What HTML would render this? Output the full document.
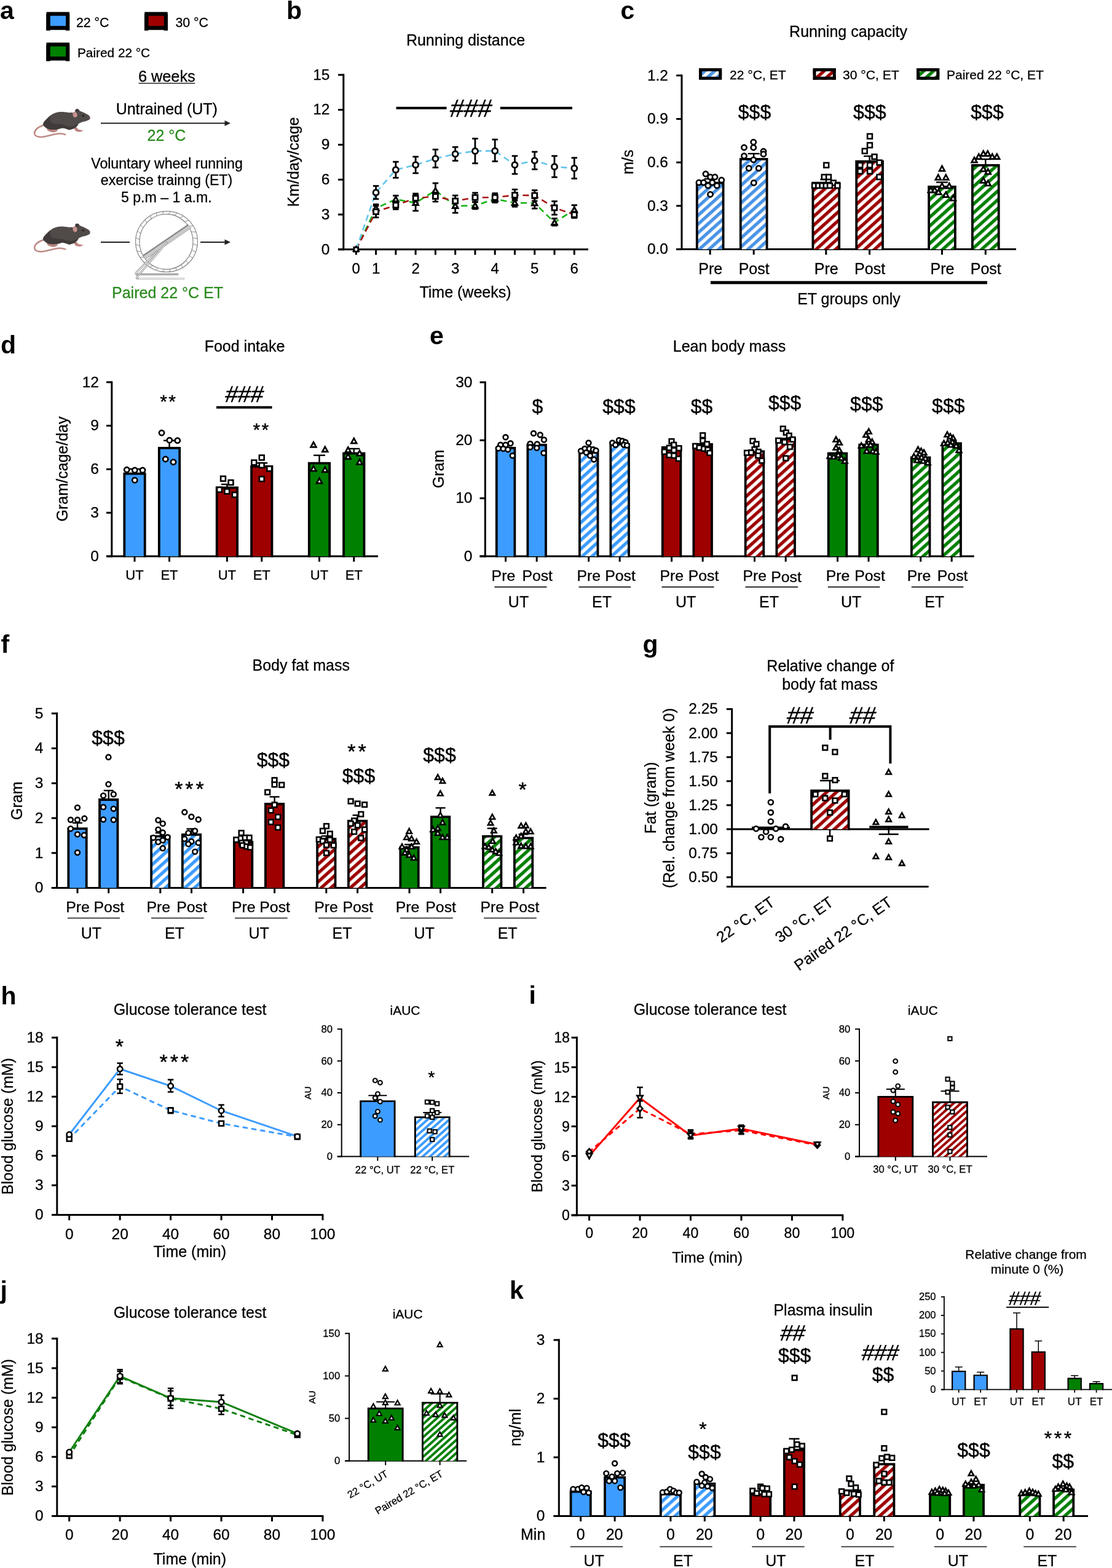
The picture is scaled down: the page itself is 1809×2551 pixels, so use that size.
<!DOCTYPE html>
<html lang="en"><head><meta charset="utf-8"><title>Figure</title>
<style>html,body{margin:0;padding:0;background:#fff}svg{display:block}text{font-family:'Liberation Sans', sans-serif;}</style></head>
<body>
<svg width="1809" height="2551" viewBox="0 0 1809 2551">
<defs><pattern id="h0" width="10.6" height="10.6" patternUnits="userSpaceOnUse" patternTransform="rotate(-42) translate(0 2.5)"><rect width="10.6" height="10.6" fill="#fff"/><rect width="10.6" height="5.3" fill="#4a94e6"/></pattern>
<pattern id="h1" width="10.6" height="10.6" patternUnits="userSpaceOnUse" patternTransform="rotate(-42) translate(0 5)"><rect width="10.6" height="10.6" fill="#fff"/><rect width="10.6" height="5.3" fill="#9e0000"/></pattern>
<pattern id="h2" width="10.6" height="10.6" patternUnits="userSpaceOnUse" patternTransform="rotate(-42) translate(0 7.5)"><rect width="10.6" height="10.6" fill="#fff"/><rect width="10.6" height="5.3" fill="#008000"/></pattern>
<pattern id="h3" width="10.6" height="10.6" patternUnits="userSpaceOnUse" patternTransform="rotate(-42) translate(0 0)"><rect width="10.6" height="10.6" fill="#fff"/><rect width="10.6" height="5.3" fill="#4a94e6"/></pattern>
<pattern id="h4" width="10.6" height="10.6" patternUnits="userSpaceOnUse" patternTransform="rotate(-42) translate(0 0)"><rect width="10.6" height="10.6" fill="#fff"/><rect width="10.6" height="5.3" fill="#9e0000"/></pattern>
<pattern id="h5" width="10.6" height="10.6" patternUnits="userSpaceOnUse" patternTransform="rotate(-42) translate(0 0)"><rect width="10.6" height="10.6" fill="#fff"/><rect width="10.6" height="5.3" fill="#008000"/></pattern>
<pattern id="h6" width="10.6" height="10.6" patternUnits="userSpaceOnUse" patternTransform="rotate(-42) translate(0 0)"><rect width="10.6" height="10.6" fill="#fff"/><rect width="10.6" height="5.3" fill="#3d9cff"/></pattern>
<pattern id="h7" width="7.9" height="7.9" patternUnits="userSpaceOnUse" patternTransform="rotate(-42) translate(0 0)"><rect width="7.9" height="7.9" fill="#fff"/><rect width="7.9" height="3.95" fill="#3d9cff"/></pattern>
<pattern id="h8" width="7.9" height="7.9" patternUnits="userSpaceOnUse" patternTransform="rotate(-42) translate(0 0)"><rect width="7.9" height="7.9" fill="#fff"/><rect width="7.9" height="3.95" fill="#9e0000"/></pattern>
<pattern id="h9" width="7.9" height="7.9" patternUnits="userSpaceOnUse" patternTransform="rotate(-42) translate(0 0)"><rect width="7.9" height="7.9" fill="#fff"/><rect width="7.9" height="3.95" fill="#008000"/></pattern></defs>
<rect width="1809" height="2551" fill="#fff"/>
<text x="0" y="30.5" font-size="41" font-weight="bold">a</text>
<rect x="75.5" y="19.5" width="37.5" height="29.2" fill="#000"/>
<rect x="75.2" y="22.5" width="6.5" height="27.2" fill="#000"/>
<rect x="106.8" y="22.5" width="6.5" height="27.2" fill="#000"/>
<rect x="81.8" y="25.7" width="25.3" height="16.5" fill="#3d9cff"/>
<text x="124" y="44" font-size="21.3" stroke="#000" stroke-width="0.28">22 °C</text>
<rect x="235.2" y="19.5" width="37.5" height="29.2" fill="#000"/>
<rect x="234.9" y="22.5" width="6.5" height="27.2" fill="#000"/>
<rect x="266.5" y="22.5" width="6.5" height="27.2" fill="#000"/>
<rect x="241.5" y="25.7" width="25.3" height="16.5" fill="#9e0000"/>
<text x="285.5" y="44" font-size="21.3" stroke="#000" stroke-width="0.28">30 °C</text>
<rect x="75.5" y="69.3" width="37.5" height="29.2" fill="#000"/>
<rect x="75.2" y="72.3" width="6.5" height="27.2" fill="#000"/>
<rect x="106.8" y="72.3" width="6.5" height="27.2" fill="#000"/>
<rect x="81.8" y="75.5" width="25.3" height="16.5" fill="#008000"/>
<text x="126" y="93" font-size="20.8" stroke="#000" stroke-width="0.28">Paired 22 °C</text>
<text x="271.3" y="132.7" font-size="25.3" text-anchor="middle" stroke="#000" stroke-width="0.28">6 weeks</text>
<line x1="225.5" y1="135.6" x2="317.2" y2="135.6" stroke="#222" stroke-width="1.5"/>
<g transform="translate(45 165) scale(0.0739)">
<path d="M345 525 C250 560 150 620 150 700 C155 790 290 800 420 765 C560 725 700 680 828 730" fill="none" stroke="#b98580" stroke-width="34" stroke-linecap="round"/>
<path d="M345 525 C250 560 150 620 150 700 C155 790 290 800 420 765 C560 725 700 680 828 730" fill="none" stroke="#c99a95" stroke-width="10" stroke-linecap="round"/>
<path d="M420 595 L470 600 L640 625 L675 625 L630 665 L560 685 L470 660 L430 630 Z" fill="#b9847f"/>
<path d="M1010 585 L1075 570 L1120 620 L1230 638 L1150 672 L1060 655 Z" fill="#b9847f"/>
<path d="M340 500 C345 450 400 400 500 310 C560 260 640 232 720 230 C800 230 870 238 920 250 C950 240 975 245 995 250 C1020 235 1040 225 1050 215 C1040 180 1060 165 1090 165 C1115 168 1135 185 1142 207 C1200 230 1280 265 1340 300 C1365 320 1380 345 1375 380 C1360 405 1300 425 1250 440 C1200 455 1150 470 1120 490 C1105 520 1085 550 1060 570 C1040 590 1000 605 960 615 C930 630 900 628 880 615 C850 600 800 585 760 585 C720 590 690 610 640 618 C580 622 520 620 480 612 C430 600 390 570 360 540 C345 525 340 515 340 500 Z" fill="#504b49"/>
<path d="M340 500 C345 450 400 400 500 310 C480 380 500 450 540 480 C620 510 700 490 780 510 C860 540 940 560 1000 540 C1040 530 1090 500 1120 490 C1105 520 1085 550 1060 570 C1040 590 1000 605 960 615 C930 630 900 628 880 615 C850 600 800 585 760 585 C720 590 690 610 640 618 C580 622 520 620 480 612 C430 600 390 570 360 540 C345 525 340 515 340 500 Z" fill="#403b3a"/>
<path d="M1250 440 C1300 425 1340 405 1370 385" fill="none" stroke="#3a3534" stroke-width="8"/>
<ellipse cx="1042" cy="292" rx="50" ry="62" transform="rotate(-12 1042 292)" fill="#bf8a86"/>
<ellipse cx="1050" cy="295" rx="30" ry="45" transform="rotate(-12 1050 295)" fill="#c9938f"/>
<path d="M1050 215 C1040 180 1060 165 1090 165 C1115 168 1135 185 1142 207 L1100 225 Z" fill="#3e3938"/>
<ellipse cx="1222" cy="318" rx="24" ry="20" fill="#241c1c"/>
<ellipse cx="1370" cy="350" rx="10" ry="18" fill="#c08a88"/>
</g>
<text x="271.3" y="185.7" font-size="25" text-anchor="middle" stroke="#000" stroke-width="0.28">Untrained (UT)</text>
<line x1="164" y1="200.5" x2="367" y2="200.5" stroke="#222" stroke-width="2"/>
<polygon points="375,200.5 365.5,195.9 365.5,205.1" fill="#222"/>
<text x="271" y="229.4" font-size="25" text-anchor="middle" fill="#2a8a1e" stroke="#2a8a1e" stroke-width="0.28">22 °C</text>
<text x="271.5" y="274" font-size="23.1" text-anchor="middle" stroke="#000" stroke-width="0.28">Voluntary wheel running</text>
<text x="271" y="301.2" font-size="23.1" text-anchor="middle" stroke="#000" stroke-width="0.28">exercise trainng (ET)</text>
<text x="270.8" y="329" font-size="23.1" text-anchor="middle" stroke="#000" stroke-width="0.28">5 p.m – 1 a.m.</text>
<g transform="translate(45 351.5) scale(0.0739)">
<path d="M345 525 C250 560 150 620 150 700 C155 790 290 800 420 765 C560 725 700 680 828 730" fill="none" stroke="#b98580" stroke-width="34" stroke-linecap="round"/>
<path d="M345 525 C250 560 150 620 150 700 C155 790 290 800 420 765 C560 725 700 680 828 730" fill="none" stroke="#c99a95" stroke-width="10" stroke-linecap="round"/>
<path d="M420 595 L470 600 L640 625 L675 625 L630 665 L560 685 L470 660 L430 630 Z" fill="#b9847f"/>
<path d="M1010 585 L1075 570 L1120 620 L1230 638 L1150 672 L1060 655 Z" fill="#b9847f"/>
<path d="M340 500 C345 450 400 400 500 310 C560 260 640 232 720 230 C800 230 870 238 920 250 C950 240 975 245 995 250 C1020 235 1040 225 1050 215 C1040 180 1060 165 1090 165 C1115 168 1135 185 1142 207 C1200 230 1280 265 1340 300 C1365 320 1380 345 1375 380 C1360 405 1300 425 1250 440 C1200 455 1150 470 1120 490 C1105 520 1085 550 1060 570 C1040 590 1000 605 960 615 C930 630 900 628 880 615 C850 600 800 585 760 585 C720 590 690 610 640 618 C580 622 520 620 480 612 C430 600 390 570 360 540 C345 525 340 515 340 500 Z" fill="#504b49"/>
<path d="M340 500 C345 450 400 400 500 310 C480 380 500 450 540 480 C620 510 700 490 780 510 C860 540 940 560 1000 540 C1040 530 1090 500 1120 490 C1105 520 1085 550 1060 570 C1040 590 1000 605 960 615 C930 630 900 628 880 615 C850 600 800 585 760 585 C720 590 690 610 640 618 C580 622 520 620 480 612 C430 600 390 570 360 540 C345 525 340 515 340 500 Z" fill="#403b3a"/>
<path d="M1250 440 C1300 425 1340 405 1370 385" fill="none" stroke="#3a3534" stroke-width="8"/>
<ellipse cx="1042" cy="292" rx="50" ry="62" transform="rotate(-12 1042 292)" fill="#bf8a86"/>
<ellipse cx="1050" cy="295" rx="30" ry="45" transform="rotate(-12 1050 295)" fill="#c9938f"/>
<path d="M1050 215 C1040 180 1060 165 1090 165 C1115 168 1135 185 1142 207 L1100 225 Z" fill="#3e3938"/>
<ellipse cx="1222" cy="318" rx="24" ry="20" fill="#241c1c"/>
<ellipse cx="1370" cy="350" rx="10" ry="18" fill="#c08a88"/>
</g>
<line x1="164" y1="394" x2="211" y2="394" stroke="#222" stroke-width="2"/>
<g transform="translate(210 335) scale(0.08005)" fill="none" stroke-linecap="round">
<path d="M160 1475 L1110 1475" stroke="#c4c4c4" stroke-width="40"/>
<path d="M160 1470 L1105 1470" stroke="#f2f2f2" stroke-width="16"/>
<path d="M150 1390 L985 1390" stroke="#878787" stroke-width="36"/>
<path d="M150 1390 L985 1390" stroke="#cfcfcf" stroke-width="14"/>
<ellipse cx="762" cy="725" rx="630" ry="618" stroke="#878787" stroke-width="15"/>
<ellipse cx="755" cy="728" rx="545" ry="560" stroke="#878787" stroke-width="15"/>
<line x1="1298.32" y1="771.94" x2="1386.8" y2="804.22" stroke="#878787" stroke-width="12"/>
<line x1="1275.18" y1="895.06" x2="1353.17" y2="938.62" stroke="#878787" stroke-width="12"/>
<line x1="1225.96" y1="1009.81" x2="1289.89" y2="1062.3" stroke="#878787" stroke-width="12"/>
<line x1="1153.12" y1="1110.43" x2="1200.14" y2="1169.07" stroke="#878787" stroke-width="12"/>
<line x1="1060.32" y1="1191.87" x2="1088.42" y2="1253.58" stroke="#878787" stroke-width="12"/>
<line x1="952.21" y1="1250.05" x2="960.33" y2="1311.58" stroke="#878787" stroke-width="12"/>
<line x1="834.21" y1="1282.05" x2="822.3" y2="1340.16" stroke="#878787" stroke-width="12"/>
<line x1="712.24" y1="1286.27" x2="681.24" y2="1337.9" stroke="#878787" stroke-width="12"/>
<line x1="592.41" y1="1262.5" x2="544.24" y2="1304.91" stroke="#878787" stroke-width="12"/>
<line x1="480.74" y1="1211.92" x2="418.15" y2="1242.83" stroke="#878787" stroke-width="12"/>
<line x1="382.81" y1="1137.08" x2="309.3" y2="1154.79" stroke="#878787" stroke-width="12"/>
<line x1="303.55" y1="1041.73" x2="223.16" y2="1045.2" stroke="#878787" stroke-width="12"/>
<line x1="246.93" y1="930.64" x2="164.03" y2="919.55" stroke="#878787" stroke-width="12"/>
<line x1="215.79" y1="809.39" x2="134.89" y2="784.15" stroke="#878787" stroke-width="12"/>
<line x1="211.68" y1="684.06" x2="137.2" y2="645.78" stroke="#878787" stroke-width="12"/>
<line x1="234.82" y1="560.94" x2="170.83" y2="511.38" stroke="#878787" stroke-width="12"/>
<line x1="284.04" y1="446.19" x2="234.11" y2="387.7" stroke="#878787" stroke-width="12"/>
<line x1="356.88" y1="345.57" x2="323.86" y2="280.93" stroke="#878787" stroke-width="12"/>
<line x1="449.68" y1="264.13" x2="435.58" y2="196.42" stroke="#878787" stroke-width="12"/>
<line x1="557.79" y1="205.95" x2="563.67" y2="138.42" stroke="#878787" stroke-width="12"/>
<line x1="675.79" y1="173.95" x2="701.7" y2="109.84" stroke="#878787" stroke-width="12"/>
<line x1="797.76" y1="169.73" x2="842.76" y2="112.1" stroke="#878787" stroke-width="12"/>
<line x1="917.59" y1="193.5" x2="979.76" y2="145.09" stroke="#878787" stroke-width="12"/>
<line x1="1029.26" y1="244.08" x2="1105.85" y2="207.17" stroke="#878787" stroke-width="12"/>
<line x1="1127.19" y1="318.92" x2="1214.7" y2="295.21" stroke="#878787" stroke-width="12"/>
<line x1="1206.45" y1="414.27" x2="1300.84" y2="404.8" stroke="#878787" stroke-width="12"/>
<line x1="1263.07" y1="525.36" x2="1359.97" y2="530.45" stroke="#878787" stroke-width="12"/>
<line x1="1294.21" y1="646.61" x2="1389.11" y2="665.85" stroke="#878787" stroke-width="12"/>
<polygon points="300,1022 1215,398 1268,445 345,1078" fill="#c9c9c9" stroke="none"/>
<path d="M290 1008 L1205 385" stroke="#878787" stroke-width="30" stroke-linecap="butt"/>
<path d="M345 1078 L1268 445" stroke="#878787" stroke-width="8" stroke-linecap="butt"/>
<path d="M765 745 L165 1440 Q140 1470 175 1472" stroke="#878787" stroke-width="36"/>
<path d="M765 745 L165 1440 Q140 1470 175 1472" stroke="#fafafa" stroke-width="15"/>
<path d="M560 935 L145 1355 Q120 1388 160 1390" stroke="#878787" stroke-width="36"/>
<path d="M560 935 L145 1355 Q120 1388 160 1390" stroke="#fafafa" stroke-width="15"/>
</g>
<line x1="326" y1="394" x2="367" y2="394" stroke="#222" stroke-width="2"/>
<polygon points="375,394 365.5,389.4 365.5,398.6" fill="#222"/>
<text x="272.5" y="484.5" font-size="25" text-anchor="middle" fill="#2a8a1e" stroke="#2a8a1e" stroke-width="0.28">Paired 22 °C ET</text>
<text x="466" y="30.5" font-size="41" font-weight="bold">b</text>
<text x="757.5" y="73.5" font-size="25" text-anchor="middle" stroke="#000" stroke-width="0.28">Running distance</text>
<line x1="558.8" y1="120.35" x2="558.8" y2="407.3" stroke="#000" stroke-width="3"/>
<line x1="550" y1="405.8" x2="558.8" y2="405.8" stroke="#000" stroke-width="3"/>
<text x="536.5" y="413.6" font-size="24.5" text-anchor="end" stroke="#000" stroke-width="0.28">0</text>
<line x1="550" y1="349.01" x2="558.8" y2="349.01" stroke="#000" stroke-width="3"/>
<text x="536.5" y="356.81" font-size="24.5" text-anchor="end" stroke="#000" stroke-width="0.28">3</text>
<line x1="550" y1="292.22" x2="558.8" y2="292.22" stroke="#000" stroke-width="3"/>
<text x="536.5" y="300.02" font-size="24.5" text-anchor="end" stroke="#000" stroke-width="0.28">6</text>
<line x1="550" y1="235.43" x2="558.8" y2="235.43" stroke="#000" stroke-width="3"/>
<text x="536.5" y="243.23" font-size="24.5" text-anchor="end" stroke="#000" stroke-width="0.28">9</text>
<line x1="550" y1="178.64" x2="558.8" y2="178.64" stroke="#000" stroke-width="3"/>
<text x="536.5" y="186.44" font-size="24.5" text-anchor="end" stroke="#000" stroke-width="0.28">12</text>
<line x1="550" y1="121.85" x2="558.8" y2="121.85" stroke="#000" stroke-width="3"/>
<text x="536.5" y="129.65" font-size="24.5" text-anchor="end" stroke="#000" stroke-width="0.28">15</text>
<line x1="550" y1="405.8" x2="957" y2="405.8" stroke="#000" stroke-width="3"/>
<line x1="579.3" y1="405.8" x2="579.3" y2="414.6" stroke="#000" stroke-width="3"/>
<line x1="611.57" y1="405.8" x2="611.57" y2="414.6" stroke="#000" stroke-width="3"/>
<line x1="643.84" y1="405.8" x2="643.84" y2="414.6" stroke="#000" stroke-width="3"/>
<line x1="676.11" y1="405.8" x2="676.11" y2="414.6" stroke="#000" stroke-width="3"/>
<line x1="708.38" y1="405.8" x2="708.38" y2="414.6" stroke="#000" stroke-width="3"/>
<line x1="740.65" y1="405.8" x2="740.65" y2="414.6" stroke="#000" stroke-width="3"/>
<line x1="772.92" y1="405.8" x2="772.92" y2="414.6" stroke="#000" stroke-width="3"/>
<line x1="805.19" y1="405.8" x2="805.19" y2="414.6" stroke="#000" stroke-width="3"/>
<line x1="837.46" y1="405.8" x2="837.46" y2="414.6" stroke="#000" stroke-width="3"/>
<line x1="869.73" y1="405.8" x2="869.73" y2="414.6" stroke="#000" stroke-width="3"/>
<line x1="902" y1="405.8" x2="902" y2="414.6" stroke="#000" stroke-width="3"/>
<line x1="934.27" y1="405.8" x2="934.27" y2="414.6" stroke="#000" stroke-width="3"/>
<text x="579.3" y="444.5" font-size="24" text-anchor="middle" stroke="#000" stroke-width="0.28">0</text>
<text x="611.57" y="444.5" font-size="24" text-anchor="middle" stroke="#000" stroke-width="0.28">1</text>
<text x="676.11" y="444.5" font-size="24" text-anchor="middle" stroke="#000" stroke-width="0.28">2</text>
<text x="740.65" y="444.5" font-size="24" text-anchor="middle" stroke="#000" stroke-width="0.28">3</text>
<text x="805.19" y="444.5" font-size="24" text-anchor="middle" stroke="#000" stroke-width="0.28">4</text>
<text x="869.73" y="444.5" font-size="24" text-anchor="middle" stroke="#000" stroke-width="0.28">5</text>
<text x="934.27" y="444.5" font-size="24" text-anchor="middle" stroke="#000" stroke-width="0.28">6</text>
<text x="757" y="484.3" font-size="25" text-anchor="middle" stroke="#000" stroke-width="0.28">Time (weeks)</text>
<text x="485.8" y="263.5" font-size="25" text-anchor="middle" transform="rotate(-90 485.8 263.5)" stroke="#000" stroke-width="0.28">Km/day/cage</text>
<line x1="644.5" y1="175.8" x2="726.5" y2="175.8" stroke="#000" stroke-width="4"/>
<line x1="813.8" y1="175.8" x2="931" y2="175.8" stroke="#000" stroke-width="4"/>
<text x="764.27" y="190" font-size="40.5" text-anchor="middle" transform="translate(764.27 190) skewX(-9) translate(-764.27 -190)" stroke="#000" stroke-width="0.5">###</text>
<polyline points="579.3,405.8 611.57,338.75 643.84,324.25 676.11,330 708.38,310 740.65,335 772.92,334.5 805.19,323.75 837.46,330 869.73,330.5 902,362 934.27,341.25" fill="none" stroke="#12b312" stroke-width="2.6" stroke-dasharray="10 6.5"/>
<polyline points="579.3,405.8 611.57,344.5 643.84,333.75 676.11,322.5 708.38,319.5 740.65,327 772.92,321.25 805.19,321.25 837.46,317.5 869.73,318 902,338 934.27,349.25" fill="none" stroke="#a81414" stroke-width="2.6" stroke-dasharray="10 6.5"/>
<polyline points="579.3,405.8 611.57,313.25 643.84,276.25 676.11,268.25 708.38,258 740.65,250.5 772.92,245.75 805.19,245.5 837.46,268.25 869.73,261.25 902,271.25 934.27,273.75" fill="none" stroke="#62c4ea" stroke-width="2.6" stroke-dasharray="10 6.5"/>
<line x1="611.57" y1="332.5" x2="611.57" y2="345.5" stroke="#000" stroke-width="2.8"/>
<line x1="606.82" y1="332.5" x2="616.32" y2="332.5" stroke="#000" stroke-width="2.8"/>
<line x1="606.82" y1="345.5" x2="616.32" y2="345.5" stroke="#000" stroke-width="2.8"/>
<line x1="643.84" y1="318.25" x2="643.84" y2="330.5" stroke="#000" stroke-width="2.8"/>
<line x1="639.09" y1="318.25" x2="648.59" y2="318.25" stroke="#000" stroke-width="2.8"/>
<line x1="639.09" y1="330.5" x2="648.59" y2="330.5" stroke="#000" stroke-width="2.8"/>
<line x1="676.11" y1="317.5" x2="676.11" y2="343" stroke="#000" stroke-width="2.8"/>
<line x1="671.36" y1="317.5" x2="680.86" y2="317.5" stroke="#000" stroke-width="2.8"/>
<line x1="671.36" y1="343" x2="680.86" y2="343" stroke="#000" stroke-width="2.8"/>
<line x1="708.38" y1="298" x2="708.38" y2="322.5" stroke="#000" stroke-width="2.8"/>
<line x1="703.63" y1="298" x2="713.13" y2="298" stroke="#000" stroke-width="2.8"/>
<line x1="703.63" y1="322.5" x2="713.13" y2="322.5" stroke="#000" stroke-width="2.8"/>
<line x1="740.65" y1="325" x2="740.65" y2="346.25" stroke="#000" stroke-width="2.8"/>
<line x1="735.9" y1="325" x2="745.4" y2="325" stroke="#000" stroke-width="2.8"/>
<line x1="735.9" y1="346.25" x2="745.4" y2="346.25" stroke="#000" stroke-width="2.8"/>
<line x1="772.92" y1="328.75" x2="772.92" y2="340" stroke="#000" stroke-width="2.8"/>
<line x1="768.17" y1="328.75" x2="777.67" y2="328.75" stroke="#000" stroke-width="2.8"/>
<line x1="768.17" y1="340" x2="777.67" y2="340" stroke="#000" stroke-width="2.8"/>
<line x1="805.19" y1="317.5" x2="805.19" y2="329.5" stroke="#000" stroke-width="2.8"/>
<line x1="800.44" y1="317.5" x2="809.94" y2="317.5" stroke="#000" stroke-width="2.8"/>
<line x1="800.44" y1="329.5" x2="809.94" y2="329.5" stroke="#000" stroke-width="2.8"/>
<line x1="837.46" y1="323.75" x2="837.46" y2="336.25" stroke="#000" stroke-width="2.8"/>
<line x1="832.71" y1="323.75" x2="842.21" y2="323.75" stroke="#000" stroke-width="2.8"/>
<line x1="832.71" y1="336.25" x2="842.21" y2="336.25" stroke="#000" stroke-width="2.8"/>
<line x1="869.73" y1="322.5" x2="869.73" y2="339.25" stroke="#000" stroke-width="2.8"/>
<line x1="864.98" y1="322.5" x2="874.48" y2="322.5" stroke="#000" stroke-width="2.8"/>
<line x1="864.98" y1="339.25" x2="874.48" y2="339.25" stroke="#000" stroke-width="2.8"/>
<line x1="902" y1="355.5" x2="902" y2="367" stroke="#000" stroke-width="2.8"/>
<line x1="897.25" y1="355.5" x2="906.75" y2="355.5" stroke="#000" stroke-width="2.8"/>
<line x1="897.25" y1="367" x2="906.75" y2="367" stroke="#000" stroke-width="2.8"/>
<line x1="934.27" y1="333.75" x2="934.27" y2="348" stroke="#000" stroke-width="2.8"/>
<line x1="929.52" y1="333.75" x2="939.02" y2="333.75" stroke="#000" stroke-width="2.8"/>
<line x1="929.52" y1="348" x2="939.02" y2="348" stroke="#000" stroke-width="2.8"/>
<line x1="611.57" y1="335" x2="611.57" y2="353.75" stroke="#000" stroke-width="2.8"/>
<line x1="606.82" y1="335" x2="616.32" y2="335" stroke="#000" stroke-width="2.8"/>
<line x1="606.82" y1="353.75" x2="616.32" y2="353.75" stroke="#000" stroke-width="2.8"/>
<line x1="643.84" y1="327.5" x2="643.84" y2="340.5" stroke="#000" stroke-width="2.8"/>
<line x1="639.09" y1="327.5" x2="648.59" y2="327.5" stroke="#000" stroke-width="2.8"/>
<line x1="639.09" y1="340.5" x2="648.59" y2="340.5" stroke="#000" stroke-width="2.8"/>
<line x1="676.11" y1="315" x2="676.11" y2="330" stroke="#000" stroke-width="2.8"/>
<line x1="671.36" y1="315" x2="680.86" y2="315" stroke="#000" stroke-width="2.8"/>
<line x1="671.36" y1="330" x2="680.86" y2="330" stroke="#000" stroke-width="2.8"/>
<line x1="708.38" y1="311.25" x2="708.38" y2="328" stroke="#000" stroke-width="2.8"/>
<line x1="703.63" y1="311.25" x2="713.13" y2="311.25" stroke="#000" stroke-width="2.8"/>
<line x1="703.63" y1="328" x2="713.13" y2="328" stroke="#000" stroke-width="2.8"/>
<line x1="740.65" y1="318" x2="740.65" y2="336.25" stroke="#000" stroke-width="2.8"/>
<line x1="735.9" y1="318" x2="745.4" y2="318" stroke="#000" stroke-width="2.8"/>
<line x1="735.9" y1="336.25" x2="745.4" y2="336.25" stroke="#000" stroke-width="2.8"/>
<line x1="772.92" y1="313.75" x2="772.92" y2="328.75" stroke="#000" stroke-width="2.8"/>
<line x1="768.17" y1="313.75" x2="777.67" y2="313.75" stroke="#000" stroke-width="2.8"/>
<line x1="768.17" y1="328.75" x2="777.67" y2="328.75" stroke="#000" stroke-width="2.8"/>
<line x1="805.19" y1="314.5" x2="805.19" y2="328" stroke="#000" stroke-width="2.8"/>
<line x1="800.44" y1="314.5" x2="809.94" y2="314.5" stroke="#000" stroke-width="2.8"/>
<line x1="800.44" y1="328" x2="809.94" y2="328" stroke="#000" stroke-width="2.8"/>
<line x1="837.46" y1="308.25" x2="837.46" y2="326.25" stroke="#000" stroke-width="2.8"/>
<line x1="832.71" y1="308.25" x2="842.21" y2="308.25" stroke="#000" stroke-width="2.8"/>
<line x1="832.71" y1="326.25" x2="842.21" y2="326.25" stroke="#000" stroke-width="2.8"/>
<line x1="869.73" y1="309.5" x2="869.73" y2="327" stroke="#000" stroke-width="2.8"/>
<line x1="864.98" y1="309.5" x2="874.48" y2="309.5" stroke="#000" stroke-width="2.8"/>
<line x1="864.98" y1="327" x2="874.48" y2="327" stroke="#000" stroke-width="2.8"/>
<line x1="902" y1="327.5" x2="902" y2="349.25" stroke="#000" stroke-width="2.8"/>
<line x1="897.25" y1="327.5" x2="906.75" y2="327.5" stroke="#000" stroke-width="2.8"/>
<line x1="897.25" y1="349.25" x2="906.75" y2="349.25" stroke="#000" stroke-width="2.8"/>
<line x1="934.27" y1="343.75" x2="934.27" y2="354.5" stroke="#000" stroke-width="2.8"/>
<line x1="929.52" y1="343.75" x2="939.02" y2="343.75" stroke="#000" stroke-width="2.8"/>
<line x1="929.52" y1="354.5" x2="939.02" y2="354.5" stroke="#000" stroke-width="2.8"/>
<line x1="611.57" y1="302.5" x2="611.57" y2="323.75" stroke="#000" stroke-width="2.8"/>
<line x1="606.82" y1="302.5" x2="616.32" y2="302.5" stroke="#000" stroke-width="2.8"/>
<line x1="606.82" y1="323.75" x2="616.32" y2="323.75" stroke="#000" stroke-width="2.8"/>
<line x1="643.84" y1="263.25" x2="643.84" y2="289.25" stroke="#000" stroke-width="2.8"/>
<line x1="639.09" y1="263.25" x2="648.59" y2="263.25" stroke="#000" stroke-width="2.8"/>
<line x1="639.09" y1="289.25" x2="648.59" y2="289.25" stroke="#000" stroke-width="2.8"/>
<line x1="676.11" y1="255" x2="676.11" y2="281.75" stroke="#000" stroke-width="2.8"/>
<line x1="671.36" y1="255" x2="680.86" y2="255" stroke="#000" stroke-width="2.8"/>
<line x1="671.36" y1="281.75" x2="680.86" y2="281.75" stroke="#000" stroke-width="2.8"/>
<line x1="708.38" y1="243.25" x2="708.38" y2="272.5" stroke="#000" stroke-width="2.8"/>
<line x1="703.63" y1="243.25" x2="713.13" y2="243.25" stroke="#000" stroke-width="2.8"/>
<line x1="703.63" y1="272.5" x2="713.13" y2="272.5" stroke="#000" stroke-width="2.8"/>
<line x1="740.65" y1="239.25" x2="740.65" y2="261.5" stroke="#000" stroke-width="2.8"/>
<line x1="735.9" y1="239.25" x2="745.4" y2="239.25" stroke="#000" stroke-width="2.8"/>
<line x1="735.9" y1="261.5" x2="745.4" y2="261.5" stroke="#000" stroke-width="2.8"/>
<line x1="772.92" y1="225.5" x2="772.92" y2="265.75" stroke="#000" stroke-width="2.8"/>
<line x1="768.17" y1="225.5" x2="777.67" y2="225.5" stroke="#000" stroke-width="2.8"/>
<line x1="768.17" y1="265.75" x2="777.67" y2="265.75" stroke="#000" stroke-width="2.8"/>
<line x1="805.19" y1="227" x2="805.19" y2="262.5" stroke="#000" stroke-width="2.8"/>
<line x1="800.44" y1="227" x2="809.94" y2="227" stroke="#000" stroke-width="2.8"/>
<line x1="800.44" y1="262.5" x2="809.94" y2="262.5" stroke="#000" stroke-width="2.8"/>
<line x1="837.46" y1="253.75" x2="837.46" y2="283" stroke="#000" stroke-width="2.8"/>
<line x1="832.71" y1="253.75" x2="842.21" y2="253.75" stroke="#000" stroke-width="2.8"/>
<line x1="832.71" y1="283" x2="842.21" y2="283" stroke="#000" stroke-width="2.8"/>
<line x1="869.73" y1="247" x2="869.73" y2="275.5" stroke="#000" stroke-width="2.8"/>
<line x1="864.98" y1="247" x2="874.48" y2="247" stroke="#000" stroke-width="2.8"/>
<line x1="864.98" y1="275.5" x2="874.48" y2="275.5" stroke="#000" stroke-width="2.8"/>
<line x1="902" y1="253.75" x2="902" y2="288.25" stroke="#000" stroke-width="2.8"/>
<line x1="897.25" y1="253.75" x2="906.75" y2="253.75" stroke="#000" stroke-width="2.8"/>
<line x1="897.25" y1="288.25" x2="906.75" y2="288.25" stroke="#000" stroke-width="2.8"/>
<line x1="934.27" y1="256.75" x2="934.27" y2="290.5" stroke="#000" stroke-width="2.8"/>
<line x1="929.52" y1="256.75" x2="939.02" y2="256.75" stroke="#000" stroke-width="2.8"/>
<line x1="929.52" y1="290.5" x2="939.02" y2="290.5" stroke="#000" stroke-width="2.8"/>
<polygon points="574.9,408.86 583.7,408.86 579.3,400.94" fill="#fff" stroke="#000" stroke-width="2.4" stroke-linejoin="miter"/>
<rect x="575.7" y="402.2" width="7.2" height="7.2" fill="#fff" stroke="#000" stroke-width="2.4"/>
<circle cx="579.3" cy="405.8" r="3.4" fill="#fff" stroke="#000" stroke-width="2.4"/>
<polygon points="607.27,342.23 615.87,342.23 611.57,334.49" fill="#fff" stroke="#000" stroke-width="2.9" stroke-linejoin="miter"/>
<polygon points="639.54,327.73 648.14,327.73 643.84,319.99" fill="#fff" stroke="#000" stroke-width="2.9" stroke-linejoin="miter"/>
<polygon points="671.81,333.48 680.41,333.48 676.11,325.74" fill="#fff" stroke="#000" stroke-width="2.9" stroke-linejoin="miter"/>
<polygon points="704.08,313.48 712.68,313.48 708.38,305.74" fill="#fff" stroke="#000" stroke-width="2.9" stroke-linejoin="miter"/>
<polygon points="736.35,338.48 744.95,338.48 740.65,330.74" fill="#fff" stroke="#000" stroke-width="2.9" stroke-linejoin="miter"/>
<polygon points="768.62,337.98 777.22,337.98 772.92,330.24" fill="#fff" stroke="#000" stroke-width="2.9" stroke-linejoin="miter"/>
<polygon points="800.89,327.23 809.49,327.23 805.19,319.49" fill="#fff" stroke="#000" stroke-width="2.9" stroke-linejoin="miter"/>
<polygon points="833.16,333.48 841.76,333.48 837.46,325.74" fill="#fff" stroke="#000" stroke-width="2.9" stroke-linejoin="miter"/>
<polygon points="865.43,333.98 874.03,333.98 869.73,326.24" fill="#fff" stroke="#000" stroke-width="2.9" stroke-linejoin="miter"/>
<polygon points="897.7,365.48 906.3,365.48 902,357.74" fill="#fff" stroke="#000" stroke-width="2.9" stroke-linejoin="miter"/>
<polygon points="929.97,344.73 938.57,344.73 934.27,336.99" fill="#fff" stroke="#000" stroke-width="2.9" stroke-linejoin="miter"/>
<rect x="607.57" y="340.5" width="8" height="8" fill="#fff" stroke="#000" stroke-width="2.8"/>
<rect x="639.84" y="329.75" width="8" height="8" fill="#fff" stroke="#000" stroke-width="2.8"/>
<rect x="672.11" y="318.5" width="8" height="8" fill="#fff" stroke="#000" stroke-width="2.8"/>
<rect x="704.38" y="315.5" width="8" height="8" fill="#fff" stroke="#000" stroke-width="2.8"/>
<rect x="736.65" y="323" width="8" height="8" fill="#fff" stroke="#000" stroke-width="2.8"/>
<rect x="768.92" y="317.25" width="8" height="8" fill="#fff" stroke="#000" stroke-width="2.8"/>
<rect x="801.19" y="317.25" width="8" height="8" fill="#fff" stroke="#000" stroke-width="2.8"/>
<rect x="833.46" y="313.5" width="8" height="8" fill="#fff" stroke="#000" stroke-width="2.8"/>
<rect x="865.73" y="314" width="8" height="8" fill="#fff" stroke="#000" stroke-width="2.8"/>
<rect x="898" y="334" width="8" height="8" fill="#fff" stroke="#000" stroke-width="2.8"/>
<rect x="930.27" y="345.25" width="8" height="8" fill="#fff" stroke="#000" stroke-width="2.8"/>
<circle cx="611.57" cy="313.25" r="4.5" fill="#fff" stroke="#000" stroke-width="2.8"/>
<circle cx="643.84" cy="276.25" r="4.5" fill="#fff" stroke="#000" stroke-width="2.8"/>
<circle cx="676.11" cy="268.25" r="4.5" fill="#fff" stroke="#000" stroke-width="2.8"/>
<circle cx="708.38" cy="258" r="4.5" fill="#fff" stroke="#000" stroke-width="2.8"/>
<circle cx="740.65" cy="250.5" r="4.5" fill="#fff" stroke="#000" stroke-width="2.8"/>
<circle cx="772.92" cy="245.75" r="4.5" fill="#fff" stroke="#000" stroke-width="2.8"/>
<circle cx="805.19" cy="245.5" r="4.5" fill="#fff" stroke="#000" stroke-width="2.8"/>
<circle cx="837.46" cy="268.25" r="4.5" fill="#fff" stroke="#000" stroke-width="2.8"/>
<circle cx="869.73" cy="261.25" r="4.5" fill="#fff" stroke="#000" stroke-width="2.8"/>
<circle cx="902" cy="271.25" r="4.5" fill="#fff" stroke="#000" stroke-width="2.8"/>
<circle cx="934.27" cy="273.75" r="4.5" fill="#fff" stroke="#000" stroke-width="2.8"/>
<text x="1009.5" y="30.5" font-size="41" font-weight="bold">c</text>
<text x="1380" y="60" font-size="25" text-anchor="middle" stroke="#000" stroke-width="0.28">Running capacity</text>
<line x1="1109" y1="121.3" x2="1109" y2="407.1" stroke="#000" stroke-width="3"/>
<line x1="1100.2" y1="405.6" x2="1109" y2="405.6" stroke="#000" stroke-width="3"/>
<text x="1087" y="413.4" font-size="24.5" text-anchor="end" stroke="#000" stroke-width="0.28">0.0</text>
<line x1="1100.2" y1="334.9" x2="1109" y2="334.9" stroke="#000" stroke-width="3"/>
<text x="1087" y="342.7" font-size="24.5" text-anchor="end" stroke="#000" stroke-width="0.28">0.3</text>
<line x1="1100.2" y1="264.2" x2="1109" y2="264.2" stroke="#000" stroke-width="3"/>
<text x="1087" y="272" font-size="24.5" text-anchor="end" stroke="#000" stroke-width="0.28">0.6</text>
<line x1="1100.2" y1="193.5" x2="1109" y2="193.5" stroke="#000" stroke-width="3"/>
<text x="1087" y="201.3" font-size="24.5" text-anchor="end" stroke="#000" stroke-width="0.28">0.9</text>
<line x1="1100.2" y1="122.8" x2="1109" y2="122.8" stroke="#000" stroke-width="3"/>
<text x="1087" y="130.6" font-size="24.5" text-anchor="end" stroke="#000" stroke-width="0.28">1.2</text>
<line x1="1100.2" y1="405.6" x2="1653" y2="405.6" stroke="#000" stroke-width="3"/>
<line x1="1155.2" y1="405.6" x2="1155.2" y2="414.4" stroke="#000" stroke-width="3"/>
<line x1="1226.2" y1="405.6" x2="1226.2" y2="414.4" stroke="#000" stroke-width="3"/>
<line x1="1343.8" y1="405.6" x2="1343.8" y2="414.4" stroke="#000" stroke-width="3"/>
<line x1="1414.6" y1="405.6" x2="1414.6" y2="414.4" stroke="#000" stroke-width="3"/>
<line x1="1532.5" y1="405.6" x2="1532.5" y2="414.4" stroke="#000" stroke-width="3"/>
<line x1="1603.3" y1="405.6" x2="1603.3" y2="414.4" stroke="#000" stroke-width="3"/>
<text x="1155.7" y="446.2" font-size="25" text-anchor="middle" stroke="#000" stroke-width="0.28">Pre</text>
<text x="1226.7" y="446.2" font-size="25" text-anchor="middle" stroke="#000" stroke-width="0.28">Post</text>
<text x="1344.3" y="446.2" font-size="25" text-anchor="middle" stroke="#000" stroke-width="0.28">Pre</text>
<text x="1415.1" y="446.2" font-size="25" text-anchor="middle" stroke="#000" stroke-width="0.28">Post</text>
<text x="1533" y="446.2" font-size="25" text-anchor="middle" stroke="#000" stroke-width="0.28">Pre</text>
<text x="1603.8" y="446.2" font-size="25" text-anchor="middle" stroke="#000" stroke-width="0.28">Post</text>
<line x1="1156" y1="459.8" x2="1606" y2="459.8" stroke="#000" stroke-width="5"/>
<text x="1381" y="494.5" font-size="25" text-anchor="middle" stroke="#000" stroke-width="0.28">ET groups only</text>
<text x="1030.5" y="263.7" font-size="25" text-anchor="middle" transform="rotate(-90 1030.5 263.7)" stroke="#000" stroke-width="0.28">m/s</text>
<rect x="1137" y="111" width="37.3" height="18.8" fill="url(#h0)"/>
<rect x="1139.5" y="113.5" width="32.3" height="13.8" fill="none" stroke="#000" stroke-width="5"/>
<text x="1187" y="128.7" font-size="21.1" stroke="#000" stroke-width="0.28">22 °C, ET</text>
<rect x="1322.5" y="111" width="37.3" height="18.8" fill="url(#h1)"/>
<rect x="1325" y="113.5" width="32.3" height="13.8" fill="none" stroke="#000" stroke-width="5"/>
<text x="1371" y="128.7" font-size="21.1" stroke="#000" stroke-width="0.28">30 °C, ET</text>
<rect x="1491" y="111" width="37.3" height="18.8" fill="url(#h2)"/>
<rect x="1493.5" y="113.5" width="32.3" height="13.8" fill="none" stroke="#000" stroke-width="5"/>
<text x="1540" y="128.7" font-size="21" stroke="#000" stroke-width="0.28">Paired 22 °C, ET</text>
<text x="1227.5" y="192.7" font-size="32" text-anchor="middle" stroke="#000" stroke-width="0.45">$$$</text>
<text x="1414.8" y="192.7" font-size="32" text-anchor="middle" stroke="#000" stroke-width="0.45">$$$</text>
<text x="1606" y="192.7" font-size="32" text-anchor="middle" stroke="#000" stroke-width="0.45">$$$</text>
<rect x="1133.8" y="297.7" width="42.8" height="107.9" fill="url(#h3)"/>
<polyline points="1133.8,407.1 1133.8,297.7 1176.6,297.7 1176.6,407.1" fill="none" stroke="#000" stroke-width="3.8" stroke-linejoin="miter"/>
<line x1="1155.2" y1="291" x2="1155.2" y2="297.8" stroke="#000" stroke-width="2.4"/>
<line x1="1145.7" y1="291" x2="1164.7" y2="291" stroke="#000" stroke-width="2.4"/>
<rect x="1204.8" y="258.9" width="42.8" height="146.7" fill="url(#h3)"/>
<polyline points="1204.8,407.1 1204.8,258.9 1247.6,258.9 1247.6,407.1" fill="none" stroke="#000" stroke-width="3.8" stroke-linejoin="miter"/>
<line x1="1226.2" y1="250" x2="1226.2" y2="259" stroke="#000" stroke-width="2.4"/>
<line x1="1216.7" y1="250" x2="1235.7" y2="250" stroke="#000" stroke-width="2.4"/>
<rect x="1322.4" y="297.7" width="42.8" height="107.9" fill="url(#h4)"/>
<polyline points="1322.4,407.1 1322.4,297.7 1365.2,297.7 1365.2,407.1" fill="none" stroke="#000" stroke-width="3.8" stroke-linejoin="miter"/>
<line x1="1343.8" y1="292" x2="1343.8" y2="297.8" stroke="#000" stroke-width="2.4"/>
<line x1="1334.3" y1="292" x2="1353.3" y2="292" stroke="#000" stroke-width="2.4"/>
<rect x="1393.2" y="262.7" width="42.8" height="142.9" fill="url(#h4)"/>
<polyline points="1393.2,407.1 1393.2,262.7 1436,262.7 1436,407.1" fill="none" stroke="#000" stroke-width="3.8" stroke-linejoin="miter"/>
<line x1="1414.6" y1="254" x2="1414.6" y2="262.8" stroke="#000" stroke-width="2.4"/>
<line x1="1405.1" y1="254" x2="1424.1" y2="254" stroke="#000" stroke-width="2.4"/>
<rect x="1511.1" y="303.9" width="42.8" height="101.7" fill="url(#h5)"/>
<polyline points="1511.1,407.1 1511.1,303.9 1553.9,303.9 1553.9,407.1" fill="none" stroke="#000" stroke-width="3.8" stroke-linejoin="miter"/>
<line x1="1532.5" y1="296.5" x2="1532.5" y2="304" stroke="#000" stroke-width="2.4"/>
<line x1="1523" y1="296.5" x2="1542" y2="296.5" stroke="#000" stroke-width="2.4"/>
<rect x="1581.9" y="268.9" width="42.8" height="136.7" fill="url(#h5)"/>
<polyline points="1581.9,407.1 1581.9,268.9 1624.7,268.9 1624.7,407.1" fill="none" stroke="#000" stroke-width="3.8" stroke-linejoin="miter"/>
<line x1="1603.3" y1="259" x2="1603.3" y2="269" stroke="#000" stroke-width="2.4"/>
<line x1="1593.8" y1="259" x2="1612.8" y2="259" stroke="#000" stroke-width="2.4"/>
<circle cx="1137" cy="297" r="4.1" fill="#fff" stroke="#000" stroke-width="2.7"/>
<circle cx="1144.5" cy="297" r="4.1" fill="#fff" stroke="#000" stroke-width="2.7"/>
<circle cx="1151.75" cy="302" r="4.1" fill="#fff" stroke="#000" stroke-width="2.7"/>
<circle cx="1158.75" cy="297" r="4.1" fill="#fff" stroke="#000" stroke-width="2.7"/>
<circle cx="1166.25" cy="302" r="4.1" fill="#fff" stroke="#000" stroke-width="2.7"/>
<circle cx="1173.75" cy="293" r="4.1" fill="#fff" stroke="#000" stroke-width="2.7"/>
<circle cx="1148" cy="283" r="4.1" fill="#fff" stroke="#000" stroke-width="2.7"/>
<circle cx="1155.5" cy="288" r="4.1" fill="#fff" stroke="#000" stroke-width="2.7"/>
<circle cx="1163" cy="288" r="4.1" fill="#fff" stroke="#000" stroke-width="2.7"/>
<circle cx="1155.5" cy="316.25" r="4.1" fill="#fff" stroke="#000" stroke-width="2.7"/>
<circle cx="1210.5" cy="240" r="4.1" fill="#fff" stroke="#000" stroke-width="2.7"/>
<circle cx="1225.75" cy="231.25" r="4.1" fill="#fff" stroke="#000" stroke-width="2.7"/>
<circle cx="1225.75" cy="240" r="4.1" fill="#fff" stroke="#000" stroke-width="2.7"/>
<circle cx="1242" cy="246.25" r="4.1" fill="#fff" stroke="#000" stroke-width="2.7"/>
<circle cx="1210.5" cy="253.75" r="4.1" fill="#fff" stroke="#000" stroke-width="2.7"/>
<circle cx="1242" cy="250.75" r="4.1" fill="#fff" stroke="#000" stroke-width="2.7"/>
<circle cx="1225.75" cy="260" r="4.1" fill="#fff" stroke="#000" stroke-width="2.7"/>
<circle cx="1218.25" cy="273.75" r="4.1" fill="#fff" stroke="#000" stroke-width="2.7"/>
<circle cx="1234.25" cy="273.75" r="4.1" fill="#fff" stroke="#000" stroke-width="2.7"/>
<circle cx="1226.25" cy="297.5" r="4.1" fill="#fff" stroke="#000" stroke-width="2.7"/>
<rect x="1340.35" y="264.85" width="7.8" height="7.8" fill="#fff" stroke="#000" stroke-width="2.6"/>
<rect x="1336.85" y="284.1" width="7.8" height="7.8" fill="#fff" stroke="#000" stroke-width="2.6"/>
<rect x="1344.1" y="284.1" width="7.8" height="7.8" fill="#fff" stroke="#000" stroke-width="2.6"/>
<rect x="1351.85" y="293.6" width="7.8" height="7.8" fill="#fff" stroke="#000" stroke-width="2.6"/>
<rect x="1321.1" y="298.1" width="7.8" height="7.8" fill="#fff" stroke="#000" stroke-width="2.6"/>
<rect x="1327.35" y="298.1" width="7.8" height="7.8" fill="#fff" stroke="#000" stroke-width="2.6"/>
<rect x="1333.6" y="298.1" width="7.8" height="7.8" fill="#fff" stroke="#000" stroke-width="2.6"/>
<rect x="1339.85" y="298.1" width="7.8" height="7.8" fill="#fff" stroke="#000" stroke-width="2.6"/>
<rect x="1346.1" y="298.1" width="7.8" height="7.8" fill="#fff" stroke="#000" stroke-width="2.6"/>
<rect x="1358.6" y="298.1" width="7.8" height="7.8" fill="#fff" stroke="#000" stroke-width="2.6"/>
<rect x="1411.1" y="217.85" width="7.8" height="7.8" fill="#fff" stroke="#000" stroke-width="2.6"/>
<rect x="1411.1" y="232.35" width="7.8" height="7.8" fill="#fff" stroke="#000" stroke-width="2.6"/>
<rect x="1402.85" y="241.85" width="7.8" height="7.8" fill="#fff" stroke="#000" stroke-width="2.6"/>
<rect x="1418.6" y="251.1" width="7.8" height="7.8" fill="#fff" stroke="#000" stroke-width="2.6"/>
<rect x="1395.35" y="264.85" width="7.8" height="7.8" fill="#fff" stroke="#000" stroke-width="2.6"/>
<rect x="1411.1" y="264.85" width="7.8" height="7.8" fill="#fff" stroke="#000" stroke-width="2.6"/>
<rect x="1426.6" y="260.6" width="7.8" height="7.8" fill="#fff" stroke="#000" stroke-width="2.6"/>
<rect x="1395.35" y="274.85" width="7.8" height="7.8" fill="#fff" stroke="#000" stroke-width="2.6"/>
<rect x="1411.1" y="274.85" width="7.8" height="7.8" fill="#fff" stroke="#000" stroke-width="2.6"/>
<rect x="1426.6" y="284.1" width="7.8" height="7.8" fill="#fff" stroke="#000" stroke-width="2.6"/>
<polygon points="1528.1,278.06 1536.9,278.06 1532.5,270.14" fill="#fff" stroke="#000" stroke-width="2.7" stroke-linejoin="miter"/>
<polygon points="1521.85,292.31 1530.65,292.31 1526.25,284.39" fill="#fff" stroke="#000" stroke-width="2.7" stroke-linejoin="miter"/>
<polygon points="1534.35,292.31 1543.15,292.31 1538.75,284.39" fill="#fff" stroke="#000" stroke-width="2.7" stroke-linejoin="miter"/>
<polygon points="1528.1,306.06 1536.9,306.06 1532.5,298.14" fill="#fff" stroke="#000" stroke-width="2.7" stroke-linejoin="miter"/>
<polygon points="1539.85,306.06 1548.65,306.06 1544.25,298.14" fill="#fff" stroke="#000" stroke-width="2.7" stroke-linejoin="miter"/>
<polygon points="1509.85,312.81 1518.65,312.81 1514.25,304.89" fill="#fff" stroke="#000" stroke-width="2.7" stroke-linejoin="miter"/>
<polygon points="1516.1,312.81 1524.9,312.81 1520.5,304.89" fill="#fff" stroke="#000" stroke-width="2.7" stroke-linejoin="miter"/>
<polygon points="1522.35,316.06 1531.15,316.06 1526.75,308.14" fill="#fff" stroke="#000" stroke-width="2.7" stroke-linejoin="miter"/>
<polygon points="1534.35,320.56 1543.15,320.56 1538.75,312.64" fill="#fff" stroke="#000" stroke-width="2.7" stroke-linejoin="miter"/>
<polygon points="1546.1,326.06 1554.9,326.06 1550.5,318.14" fill="#fff" stroke="#000" stroke-width="2.7" stroke-linejoin="miter"/>
<polygon points="1595.35,253.56 1604.15,253.56 1599.75,245.64" fill="#fff" stroke="#000" stroke-width="2.7" stroke-linejoin="miter"/>
<polygon points="1602.35,253.56 1611.15,253.56 1606.75,245.64" fill="#fff" stroke="#000" stroke-width="2.7" stroke-linejoin="miter"/>
<polygon points="1587.85,258.56 1596.65,258.56 1592.25,250.64" fill="#fff" stroke="#000" stroke-width="2.7" stroke-linejoin="miter"/>
<polygon points="1609.85,258.56 1618.65,258.56 1614.25,250.64" fill="#fff" stroke="#000" stroke-width="2.7" stroke-linejoin="miter"/>
<polygon points="1617.35,258.56 1626.15,258.56 1621.75,250.64" fill="#fff" stroke="#000" stroke-width="2.7" stroke-linejoin="miter"/>
<polygon points="1580.6,264.06 1589.4,264.06 1585,256.14" fill="#fff" stroke="#000" stroke-width="2.7" stroke-linejoin="miter"/>
<polygon points="1595.35,278.56 1604.15,278.56 1599.75,270.64" fill="#fff" stroke="#000" stroke-width="2.7" stroke-linejoin="miter"/>
<polygon points="1602.85,283.06 1611.65,283.06 1607.25,275.14" fill="#fff" stroke="#000" stroke-width="2.7" stroke-linejoin="miter"/>
<polygon points="1595.35,297.31 1604.15,297.31 1599.75,289.39" fill="#fff" stroke="#000" stroke-width="2.7" stroke-linejoin="miter"/>
<polygon points="1602.85,301.81 1611.65,301.81 1607.25,293.89" fill="#fff" stroke="#000" stroke-width="2.7" stroke-linejoin="miter"/>
<text x="1" y="575" font-size="41" font-weight="bold">d</text>
<text x="398" y="572.2" font-size="25" text-anchor="middle" stroke="#000" stroke-width="0.28">Food intake</text>
<line x1="181.8" y1="620.3" x2="181.8" y2="906.5" stroke="#000" stroke-width="3"/>
<line x1="173" y1="905" x2="181.8" y2="905" stroke="#000" stroke-width="3"/>
<text x="161" y="912.8" font-size="24.5" text-anchor="end" stroke="#000" stroke-width="0.28">0</text>
<line x1="173" y1="834.2" x2="181.8" y2="834.2" stroke="#000" stroke-width="3"/>
<text x="161" y="842" font-size="24.5" text-anchor="end" stroke="#000" stroke-width="0.28">3</text>
<line x1="173" y1="763.4" x2="181.8" y2="763.4" stroke="#000" stroke-width="3"/>
<text x="161" y="771.2" font-size="24.5" text-anchor="end" stroke="#000" stroke-width="0.28">6</text>
<line x1="173" y1="692.6" x2="181.8" y2="692.6" stroke="#000" stroke-width="3"/>
<text x="161" y="700.4" font-size="24.5" text-anchor="end" stroke="#000" stroke-width="0.28">9</text>
<line x1="173" y1="621.8" x2="181.8" y2="621.8" stroke="#000" stroke-width="3"/>
<text x="161" y="629.6" font-size="24.5" text-anchor="end" stroke="#000" stroke-width="0.28">12</text>
<line x1="173" y1="905" x2="615" y2="905" stroke="#000" stroke-width="3"/>
<line x1="219" y1="905" x2="219" y2="913.8" stroke="#000" stroke-width="3"/>
<line x1="275.5" y1="905" x2="275.5" y2="913.8" stroke="#000" stroke-width="3"/>
<line x1="369.4" y1="905" x2="369.4" y2="913.8" stroke="#000" stroke-width="3"/>
<line x1="425.75" y1="905" x2="425.75" y2="913.8" stroke="#000" stroke-width="3"/>
<line x1="519.5" y1="905" x2="519.5" y2="913.8" stroke="#000" stroke-width="3"/>
<line x1="575.75" y1="905" x2="575.75" y2="913.8" stroke="#000" stroke-width="3"/>
<text x="219" y="942.7" font-size="22" text-anchor="middle" stroke="#000" stroke-width="0.28">UT</text>
<text x="275.5" y="942.7" font-size="22" text-anchor="middle" stroke="#000" stroke-width="0.28">ET</text>
<text x="369.4" y="942.7" font-size="22" text-anchor="middle" stroke="#000" stroke-width="0.28">UT</text>
<text x="425.75" y="942.7" font-size="22" text-anchor="middle" stroke="#000" stroke-width="0.28">ET</text>
<text x="519.5" y="942.7" font-size="22" text-anchor="middle" stroke="#000" stroke-width="0.28">UT</text>
<text x="575.75" y="942.7" font-size="22" text-anchor="middle" stroke="#000" stroke-width="0.28">ET</text>
<text x="110" y="763" font-size="25" text-anchor="middle" transform="rotate(-90 110 763)" stroke="#000" stroke-width="0.28">Gram/cage/day</text>
<text x="274.3" y="663.1" font-size="30" text-anchor="middle" stroke="#000" stroke-width="0.45" letter-spacing="2.4">**</text>
<text x="425.6" y="709.2" font-size="30" text-anchor="middle" stroke="#000" stroke-width="0.45" letter-spacing="2.4">**</text>
<text x="395.95" y="654.2" font-size="37.2" text-anchor="middle" transform="translate(395.95 654.2) skewX(-9) translate(-395.95 -654.2)" stroke="#000" stroke-width="0.5">###</text>
<line x1="352" y1="662.8" x2="442.5" y2="662.8" stroke="#000" stroke-width="4"/>
<rect x="202.3" y="770.65" width="33.4" height="134.35" fill="#3d9cff"/>
<polyline points="202.3,906.5 202.3,770.65 235.7,770.65 235.7,906.5" fill="none" stroke="#000" stroke-width="3.8" stroke-linejoin="miter"/>
<line x1="219" y1="763" x2="219" y2="770.75" stroke="#000" stroke-width="2.4"/>
<line x1="209.5" y1="763" x2="228.5" y2="763" stroke="#000" stroke-width="2.4"/>
<rect x="258.8" y="728.9" width="33.4" height="176.1" fill="#3d9cff"/>
<polyline points="258.8,906.5 258.8,728.9 292.2,728.9 292.2,906.5" fill="none" stroke="#000" stroke-width="3.8" stroke-linejoin="miter"/>
<line x1="275.5" y1="716.75" x2="275.5" y2="729" stroke="#000" stroke-width="2.4"/>
<line x1="266" y1="716.75" x2="285" y2="716.75" stroke="#000" stroke-width="2.4"/>
<rect x="352.7" y="793.4" width="33.4" height="111.6" fill="#9e0000"/>
<polyline points="352.7,906.5 352.7,793.4 386.1,793.4 386.1,906.5" fill="none" stroke="#000" stroke-width="3.8" stroke-linejoin="miter"/>
<line x1="369.4" y1="788" x2="369.4" y2="793.5" stroke="#000" stroke-width="2.4"/>
<line x1="359.9" y1="788" x2="378.9" y2="788" stroke="#000" stroke-width="2.4"/>
<rect x="409.05" y="758.9" width="33.4" height="146.1" fill="#9e0000"/>
<polyline points="409.05,906.5 409.05,758.9 442.45,758.9 442.45,906.5" fill="none" stroke="#000" stroke-width="3.8" stroke-linejoin="miter"/>
<line x1="425.75" y1="753.25" x2="425.75" y2="759" stroke="#000" stroke-width="2.4"/>
<line x1="416.25" y1="753.25" x2="435.25" y2="753.25" stroke="#000" stroke-width="2.4"/>
<rect x="502.8" y="753.65" width="33.4" height="151.35" fill="#008000"/>
<polyline points="502.8,906.5 502.8,753.65 536.2,753.65 536.2,906.5" fill="none" stroke="#000" stroke-width="3.8" stroke-linejoin="miter"/>
<line x1="519.5" y1="740.75" x2="519.5" y2="753.75" stroke="#000" stroke-width="2.4"/>
<line x1="510" y1="740.75" x2="529" y2="740.75" stroke="#000" stroke-width="2.4"/>
<rect x="559.05" y="737.65" width="33.4" height="167.35" fill="#008000"/>
<polyline points="559.05,906.5 559.05,737.65 592.45,737.65 592.45,906.5" fill="none" stroke="#000" stroke-width="3.8" stroke-linejoin="miter"/>
<line x1="575.75" y1="730" x2="575.75" y2="737.75" stroke="#000" stroke-width="2.4"/>
<line x1="566.25" y1="730" x2="585.25" y2="730" stroke="#000" stroke-width="2.4"/>
<circle cx="206.25" cy="764.25" r="4.1" fill="#fff" stroke="#000" stroke-width="2.7"/>
<circle cx="219.25" cy="765" r="4.1" fill="#fff" stroke="#000" stroke-width="2.7"/>
<circle cx="232" cy="765" r="4.1" fill="#fff" stroke="#000" stroke-width="2.7"/>
<circle cx="219.25" cy="781.25" r="4.1" fill="#fff" stroke="#000" stroke-width="2.7"/>
<circle cx="263" cy="704.25" r="4.1" fill="#fff" stroke="#000" stroke-width="2.7"/>
<circle cx="275.75" cy="716.25" r="4.1" fill="#fff" stroke="#000" stroke-width="2.7"/>
<circle cx="288.75" cy="716.75" r="4.1" fill="#fff" stroke="#000" stroke-width="2.7"/>
<circle cx="269.25" cy="747" r="4.1" fill="#fff" stroke="#000" stroke-width="2.7"/>
<circle cx="282" cy="751.75" r="4.1" fill="#fff" stroke="#000" stroke-width="2.7"/>
<rect x="359.1" y="774.85" width="7.8" height="7.8" fill="#fff" stroke="#000" stroke-width="2.6"/>
<rect x="371.6" y="781.1" width="7.8" height="7.8" fill="#fff" stroke="#000" stroke-width="2.6"/>
<rect x="353.1" y="792.85" width="7.8" height="7.8" fill="#fff" stroke="#000" stroke-width="2.6"/>
<rect x="365.35" y="795.6" width="7.8" height="7.8" fill="#fff" stroke="#000" stroke-width="2.6"/>
<rect x="377.85" y="801.1" width="7.8" height="7.8" fill="#fff" stroke="#000" stroke-width="2.6"/>
<rect x="421.85" y="740.6" width="7.8" height="7.8" fill="#fff" stroke="#000" stroke-width="2.6"/>
<rect x="409.35" y="748.6" width="7.8" height="7.8" fill="#fff" stroke="#000" stroke-width="2.6"/>
<rect x="421.85" y="753.1" width="7.8" height="7.8" fill="#fff" stroke="#000" stroke-width="2.6"/>
<rect x="434.35" y="758.6" width="7.8" height="7.8" fill="#fff" stroke="#000" stroke-width="2.6"/>
<rect x="421.85" y="775.35" width="7.8" height="7.8" fill="#fff" stroke="#000" stroke-width="2.6"/>
<polygon points="505.6,727.31 514.4,727.31 510,719.39" fill="#fff" stroke="#000" stroke-width="2.7" stroke-linejoin="miter"/>
<polygon points="524.35,734.81 533.15,734.81 528.75,726.89" fill="#fff" stroke="#000" stroke-width="2.7" stroke-linejoin="miter"/>
<polygon points="505.6,766.06 514.4,766.06 510,758.14" fill="#fff" stroke="#000" stroke-width="2.7" stroke-linejoin="miter"/>
<polygon points="524.35,767.81 533.15,767.81 528.75,759.89" fill="#fff" stroke="#000" stroke-width="2.7" stroke-linejoin="miter"/>
<polygon points="515.1,786.06 523.9,786.06 519.5,778.14" fill="#fff" stroke="#000" stroke-width="2.7" stroke-linejoin="miter"/>
<polygon points="571.35,721.06 580.15,721.06 575.75,713.14" fill="#fff" stroke="#000" stroke-width="2.7" stroke-linejoin="miter"/>
<polygon points="561.85,735.56 570.65,735.56 566.25,727.64" fill="#fff" stroke="#000" stroke-width="2.7" stroke-linejoin="miter"/>
<polygon points="580.6,741.06 589.4,741.06 585,733.14" fill="#fff" stroke="#000" stroke-width="2.7" stroke-linejoin="miter"/>
<polygon points="561.85,746.56 570.65,746.56 566.25,738.64" fill="#fff" stroke="#000" stroke-width="2.7" stroke-linejoin="miter"/>
<polygon points="580.6,755.31 589.4,755.31 585,747.39" fill="#fff" stroke="#000" stroke-width="2.7" stroke-linejoin="miter"/>
<text x="699" y="559.5" font-size="41" font-weight="bold">e</text>
<text x="1186.5" y="572.3" font-size="25" text-anchor="middle" stroke="#000" stroke-width="0.28">Lean body mass</text>
<line x1="789.3" y1="620.45" x2="789.3" y2="906.5" stroke="#000" stroke-width="3"/>
<line x1="780.5" y1="905" x2="789.3" y2="905" stroke="#000" stroke-width="3"/>
<text x="768.5" y="912.8" font-size="24.5" text-anchor="end" stroke="#000" stroke-width="0.28">0</text>
<line x1="780.5" y1="810.65" x2="789.3" y2="810.65" stroke="#000" stroke-width="3"/>
<text x="768.5" y="818.45" font-size="24.5" text-anchor="end" stroke="#000" stroke-width="0.28">10</text>
<line x1="780.5" y1="716.3" x2="789.3" y2="716.3" stroke="#000" stroke-width="3"/>
<text x="768.5" y="724.1" font-size="24.5" text-anchor="end" stroke="#000" stroke-width="0.28">20</text>
<line x1="780.5" y1="621.95" x2="789.3" y2="621.95" stroke="#000" stroke-width="3"/>
<text x="768.5" y="629.75" font-size="24.5" text-anchor="end" stroke="#000" stroke-width="0.28">30</text>
<line x1="780.5" y1="905" x2="1584.7" y2="905" stroke="#000" stroke-width="3"/>
<line x1="822.6" y1="905" x2="822.6" y2="913.8" stroke="#000" stroke-width="3"/>
<line x1="873.2" y1="905" x2="873.2" y2="913.8" stroke="#000" stroke-width="3"/>
<line x1="957.7" y1="905" x2="957.7" y2="913.8" stroke="#000" stroke-width="3"/>
<line x1="1008.2" y1="905" x2="1008.2" y2="913.8" stroke="#000" stroke-width="3"/>
<line x1="1092.6" y1="905" x2="1092.6" y2="913.8" stroke="#000" stroke-width="3"/>
<line x1="1143.2" y1="905" x2="1143.2" y2="913.8" stroke="#000" stroke-width="3"/>
<line x1="1227.5" y1="905" x2="1227.5" y2="913.8" stroke="#000" stroke-width="3"/>
<line x1="1278.2" y1="905" x2="1278.2" y2="913.8" stroke="#000" stroke-width="3"/>
<line x1="1362.5" y1="905" x2="1362.5" y2="913.8" stroke="#000" stroke-width="3"/>
<line x1="1413" y1="905" x2="1413" y2="913.8" stroke="#000" stroke-width="3"/>
<line x1="1497.7" y1="905" x2="1497.7" y2="913.8" stroke="#000" stroke-width="3"/>
<line x1="1548.2" y1="905" x2="1548.2" y2="913.8" stroke="#000" stroke-width="3"/>
<text x="722" y="763" font-size="25" text-anchor="middle" transform="rotate(-90 722 763)" stroke="#000" stroke-width="0.28">Gram</text>
<text x="818.91" y="945.3" font-size="24.8" text-anchor="middle" stroke="#000" stroke-width="0.28">Pre</text>
<text x="874.19" y="945.3" font-size="24.8" text-anchor="middle" stroke="#000" stroke-width="0.28">Post</text>
<line x1="804.44" y1="955" x2="889.53" y2="955" stroke="#333" stroke-width="1.8"/>
<text x="843.51" y="988.3" font-size="25" text-anchor="middle" stroke="#000" stroke-width="0.28">UT</text>
<text x="957.83" y="945.3" font-size="24.8" text-anchor="middle" stroke="#000" stroke-width="0.28">Pre</text>
<text x="1009.05" y="945.3" font-size="24.8" text-anchor="middle" stroke="#000" stroke-width="0.28">Post</text>
<line x1="941.62" y1="955" x2="1026.12" y2="955" stroke="#333" stroke-width="1.8"/>
<text x="978.95" y="988.3" font-size="25" text-anchor="middle" stroke="#000" stroke-width="0.28">ET</text>
<text x="1092.69" y="945.3" font-size="24.8" text-anchor="middle" stroke="#000" stroke-width="0.28">Pre</text>
<text x="1144.49" y="945.3" font-size="24.8" text-anchor="middle" stroke="#000" stroke-width="0.28">Post</text>
<line x1="1076.48" y1="955" x2="1161.57" y2="955" stroke="#333" stroke-width="1.8"/>
<text x="1115.55" y="988.3" font-size="25" text-anchor="middle" stroke="#000" stroke-width="0.28">UT</text>
<text x="1227.84" y="945.3" font-size="24.8" text-anchor="middle" stroke="#000" stroke-width="0.28">Pre</text>
<text x="1279.06" y="946.5" font-size="24.8" text-anchor="middle" stroke="#000" stroke-width="0.28">Post</text>
<line x1="1212.5" y1="955" x2="1298.16" y2="955" stroke="#333" stroke-width="1.8"/>
<text x="1250.99" y="988.3" font-size="25" text-anchor="middle" stroke="#000" stroke-width="0.28">ET</text>
<text x="1362.99" y="945.3" font-size="24.8" text-anchor="middle" stroke="#000" stroke-width="0.28">Pre</text>
<text x="1415.08" y="945.3" font-size="24.8" text-anchor="middle" stroke="#000" stroke-width="0.28">Post</text>
<line x1="1346.78" y1="955" x2="1431.29" y2="955" stroke="#333" stroke-width="1.8"/>
<text x="1384.69" y="988.3" font-size="25" text-anchor="middle" stroke="#000" stroke-width="0.28">UT</text>
<text x="1494.96" y="945.3" font-size="24.8" text-anchor="middle" stroke="#000" stroke-width="0.28">Pre</text>
<text x="1549.65" y="945.3" font-size="24.8" text-anchor="middle" stroke="#000" stroke-width="0.28">Post</text>
<line x1="1482.8" y1="955" x2="1567.31" y2="955" stroke="#333" stroke-width="1.8"/>
<text x="1520.13" y="988.3" font-size="25" text-anchor="middle" stroke="#000" stroke-width="0.28">ET</text>
<text x="874.3" y="672.1" font-size="32" text-anchor="middle" stroke="#000" stroke-width="0.45">$</text>
<text x="1007" y="672.1" font-size="32" text-anchor="middle" stroke="#000" stroke-width="0.45">$$$</text>
<text x="1141.6" y="672.1" font-size="32" text-anchor="middle" stroke="#000" stroke-width="0.45">$$</text>
<text x="1276.6" y="665.9" font-size="32" text-anchor="middle" stroke="#000" stroke-width="0.45">$$$</text>
<text x="1409.8" y="667.8" font-size="32" text-anchor="middle" stroke="#000" stroke-width="0.45">$$$</text>
<text x="1542.8" y="671.1" font-size="32" text-anchor="middle" stroke="#000" stroke-width="0.45">$$$</text>
<rect x="807.8" y="728.9" width="29.6" height="176.1" fill="#3d9cff"/>
<polyline points="807.8,906.5 807.8,728.9 837.4,728.9 837.4,906.5" fill="none" stroke="#000" stroke-width="3.8" stroke-linejoin="miter"/>
<rect x="858.4" y="723.9" width="29.6" height="181.1" fill="#3d9cff"/>
<polyline points="858.4,906.5 858.4,723.9 888,723.9 888,906.5" fill="none" stroke="#000" stroke-width="3.8" stroke-linejoin="miter"/>
<rect x="942.9" y="736.4" width="29.6" height="168.6" fill="url(#h6)"/>
<polyline points="942.9,906.5 942.9,736.4 972.5,736.4 972.5,906.5" fill="none" stroke="#000" stroke-width="3.8" stroke-linejoin="miter"/>
<rect x="993.4" y="722.9" width="29.6" height="182.1" fill="url(#h6)"/>
<polyline points="993.4,906.5 993.4,722.9 1023,722.9 1023,906.5" fill="none" stroke="#000" stroke-width="3.8" stroke-linejoin="miter"/>
<rect x="1077.8" y="727.9" width="29.6" height="177.1" fill="#9e0000"/>
<polyline points="1077.8,906.5 1077.8,727.9 1107.4,727.9 1107.4,906.5" fill="none" stroke="#000" stroke-width="3.8" stroke-linejoin="miter"/>
<rect x="1128.4" y="722.9" width="29.6" height="182.1" fill="#9e0000"/>
<polyline points="1128.4,906.5 1128.4,722.9 1158,722.9 1158,906.5" fill="none" stroke="#000" stroke-width="3.8" stroke-linejoin="miter"/>
<rect x="1212.7" y="734.4" width="29.6" height="170.6" fill="url(#h4)"/>
<polyline points="1212.7,906.5 1212.7,734.4 1242.3,734.4 1242.3,906.5" fill="none" stroke="#000" stroke-width="3.8" stroke-linejoin="miter"/>
<rect x="1263.4" y="713.9" width="29.6" height="191.1" fill="url(#h4)"/>
<polyline points="1263.4,906.5 1263.4,713.9 1293,713.9 1293,906.5" fill="none" stroke="#000" stroke-width="3.8" stroke-linejoin="miter"/>
<rect x="1347.7" y="737.65" width="29.6" height="167.35" fill="#008000"/>
<polyline points="1347.7,906.5 1347.7,737.65 1377.3,737.65 1377.3,906.5" fill="none" stroke="#000" stroke-width="3.8" stroke-linejoin="miter"/>
<rect x="1398.2" y="723.65" width="29.6" height="181.35" fill="#008000"/>
<polyline points="1398.2,906.5 1398.2,723.65 1427.8,723.65 1427.8,906.5" fill="none" stroke="#000" stroke-width="3.8" stroke-linejoin="miter"/>
<rect x="1482.9" y="744.4" width="29.6" height="160.6" fill="url(#h5)"/>
<polyline points="1482.9,906.5 1482.9,744.4 1512.5,744.4 1512.5,906.5" fill="none" stroke="#000" stroke-width="3.8" stroke-linejoin="miter"/>
<rect x="1533.4" y="721.4" width="29.6" height="183.6" fill="url(#h5)"/>
<polyline points="1533.4,906.5 1533.4,721.4 1563,721.4 1563,906.5" fill="none" stroke="#000" stroke-width="3.8" stroke-linejoin="miter"/>
<circle cx="822.5" cy="711.25" r="3.9" fill="#fff" stroke="#000" stroke-width="2.6"/>
<circle cx="830.5" cy="721.25" r="3.9" fill="#fff" stroke="#000" stroke-width="2.6"/>
<circle cx="814.25" cy="723.75" r="3.9" fill="#fff" stroke="#000" stroke-width="2.6"/>
<circle cx="822.5" cy="723.75" r="3.9" fill="#fff" stroke="#000" stroke-width="2.6"/>
<circle cx="810.75" cy="729.5" r="3.9" fill="#fff" stroke="#000" stroke-width="2.6"/>
<circle cx="818.75" cy="730" r="3.9" fill="#fff" stroke="#000" stroke-width="2.6"/>
<circle cx="826.25" cy="731.25" r="3.9" fill="#fff" stroke="#000" stroke-width="2.6"/>
<circle cx="833.75" cy="741.25" r="3.9" fill="#fff" stroke="#000" stroke-width="2.6"/>
<circle cx="868" cy="705" r="3.9" fill="#fff" stroke="#000" stroke-width="2.6"/>
<circle cx="878.75" cy="707.5" r="3.9" fill="#fff" stroke="#000" stroke-width="2.6"/>
<circle cx="885" cy="715.5" r="3.9" fill="#fff" stroke="#000" stroke-width="2.6"/>
<circle cx="862.5" cy="722" r="3.9" fill="#fff" stroke="#000" stroke-width="2.6"/>
<circle cx="873.75" cy="722.5" r="3.9" fill="#fff" stroke="#000" stroke-width="2.6"/>
<circle cx="862.5" cy="727.5" r="3.9" fill="#fff" stroke="#000" stroke-width="2.6"/>
<circle cx="873.25" cy="728.75" r="3.9" fill="#fff" stroke="#000" stroke-width="2.6"/>
<circle cx="884.5" cy="737" r="3.9" fill="#fff" stroke="#000" stroke-width="2.6"/>
<circle cx="957.5" cy="720.5" r="3.9" fill="#fff" stroke="#000" stroke-width="2.6"/>
<circle cx="951.25" cy="730" r="3.9" fill="#fff" stroke="#000" stroke-width="2.6"/>
<circle cx="958.75" cy="730" r="3.9" fill="#fff" stroke="#000" stroke-width="2.6"/>
<circle cx="965" cy="731.25" r="3.9" fill="#fff" stroke="#000" stroke-width="2.6"/>
<circle cx="945" cy="733.75" r="3.9" fill="#fff" stroke="#000" stroke-width="2.6"/>
<circle cx="969.5" cy="733" r="3.9" fill="#fff" stroke="#000" stroke-width="2.6"/>
<circle cx="953.75" cy="736.25" r="3.9" fill="#fff" stroke="#000" stroke-width="2.6"/>
<circle cx="960" cy="741.25" r="3.9" fill="#fff" stroke="#000" stroke-width="2.6"/>
<circle cx="966.25" cy="747.5" r="3.9" fill="#fff" stroke="#000" stroke-width="2.6"/>
<circle cx="1007" cy="716.25" r="3.9" fill="#fff" stroke="#000" stroke-width="2.6"/>
<circle cx="1012.5" cy="717.5" r="3.9" fill="#fff" stroke="#000" stroke-width="2.6"/>
<circle cx="996.25" cy="720.5" r="3.9" fill="#fff" stroke="#000" stroke-width="2.6"/>
<circle cx="1017.5" cy="719.5" r="3.9" fill="#fff" stroke="#000" stroke-width="2.6"/>
<circle cx="1001.25" cy="723.75" r="3.9" fill="#fff" stroke="#000" stroke-width="2.6"/>
<circle cx="1015" cy="723.75" r="3.9" fill="#fff" stroke="#000" stroke-width="2.6"/>
<circle cx="1020" cy="724.5" r="3.9" fill="#fff" stroke="#000" stroke-width="2.6"/>
<rect x="1088.7" y="714.2" width="7.6" height="7.6" fill="#fff" stroke="#000" stroke-width="2.6"/>
<rect x="1092.45" y="719.95" width="7.6" height="7.6" fill="#fff" stroke="#000" stroke-width="2.6"/>
<rect x="1084.95" y="724.95" width="7.6" height="7.6" fill="#fff" stroke="#000" stroke-width="2.6"/>
<rect x="1100.7" y="725.45" width="7.6" height="7.6" fill="#fff" stroke="#000" stroke-width="2.6"/>
<rect x="1076.95" y="731.2" width="7.6" height="7.6" fill="#fff" stroke="#000" stroke-width="2.6"/>
<rect x="1092.45" y="728.7" width="7.6" height="7.6" fill="#fff" stroke="#000" stroke-width="2.6"/>
<rect x="1084.95" y="736.7" width="7.6" height="7.6" fill="#fff" stroke="#000" stroke-width="2.6"/>
<rect x="1092.45" y="737.45" width="7.6" height="7.6" fill="#fff" stroke="#000" stroke-width="2.6"/>
<rect x="1099.95" y="742.45" width="7.6" height="7.6" fill="#fff" stroke="#000" stroke-width="2.6"/>
<rect x="1139.45" y="704.45" width="7.6" height="7.6" fill="#fff" stroke="#000" stroke-width="2.6"/>
<rect x="1139.45" y="713.2" width="7.6" height="7.6" fill="#fff" stroke="#000" stroke-width="2.6"/>
<rect x="1146.2" y="718.7" width="7.6" height="7.6" fill="#fff" stroke="#000" stroke-width="2.6"/>
<rect x="1127.45" y="721.95" width="7.6" height="7.6" fill="#fff" stroke="#000" stroke-width="2.6"/>
<rect x="1133.7" y="724.45" width="7.6" height="7.6" fill="#fff" stroke="#000" stroke-width="2.6"/>
<rect x="1141.2" y="726.2" width="7.6" height="7.6" fill="#fff" stroke="#000" stroke-width="2.6"/>
<rect x="1147.45" y="727.95" width="7.6" height="7.6" fill="#fff" stroke="#000" stroke-width="2.6"/>
<rect x="1150.7" y="733.2" width="7.6" height="7.6" fill="#fff" stroke="#000" stroke-width="2.6"/>
<rect x="1220.7" y="713.7" width="7.6" height="7.6" fill="#fff" stroke="#000" stroke-width="2.6"/>
<rect x="1226.7" y="718.7" width="7.6" height="7.6" fill="#fff" stroke="#000" stroke-width="2.6"/>
<rect x="1223.7" y="727.45" width="7.6" height="7.6" fill="#fff" stroke="#000" stroke-width="2.6"/>
<rect x="1229.95" y="731.2" width="7.6" height="7.6" fill="#fff" stroke="#000" stroke-width="2.6"/>
<rect x="1211.2" y="732.95" width="7.6" height="7.6" fill="#fff" stroke="#000" stroke-width="2.6"/>
<rect x="1218.2" y="732.45" width="7.6" height="7.6" fill="#fff" stroke="#000" stroke-width="2.6"/>
<rect x="1229.45" y="737.45" width="7.6" height="7.6" fill="#fff" stroke="#000" stroke-width="2.6"/>
<rect x="1235.45" y="745.7" width="7.6" height="7.6" fill="#fff" stroke="#000" stroke-width="2.6"/>
<rect x="1269.95" y="693.7" width="7.6" height="7.6" fill="#fff" stroke="#000" stroke-width="2.6"/>
<rect x="1274.95" y="699.95" width="7.6" height="7.6" fill="#fff" stroke="#000" stroke-width="2.6"/>
<rect x="1279.95" y="704.95" width="7.6" height="7.6" fill="#fff" stroke="#000" stroke-width="2.6"/>
<rect x="1285.7" y="711.2" width="7.6" height="7.6" fill="#fff" stroke="#000" stroke-width="2.6"/>
<rect x="1262.45" y="712.95" width="7.6" height="7.6" fill="#fff" stroke="#000" stroke-width="2.6"/>
<rect x="1272.45" y="715.45" width="7.6" height="7.6" fill="#fff" stroke="#000" stroke-width="2.6"/>
<rect x="1281.2" y="723.2" width="7.6" height="7.6" fill="#fff" stroke="#000" stroke-width="2.6"/>
<rect x="1274.45" y="741.7" width="7.6" height="7.6" fill="#fff" stroke="#000" stroke-width="2.6"/>
<polygon points="1355.7,718.48 1364.3,718.48 1360,710.74" fill="#fff" stroke="#000" stroke-width="2.7" stroke-linejoin="miter"/>
<polygon points="1361.2,723.48 1369.8,723.48 1365.5,715.74" fill="#fff" stroke="#000" stroke-width="2.7" stroke-linejoin="miter"/>
<polygon points="1355.7,731.73 1364.3,731.73 1360,723.99" fill="#fff" stroke="#000" stroke-width="2.7" stroke-linejoin="miter"/>
<polygon points="1361.2,735.98 1369.8,735.98 1365.5,728.24" fill="#fff" stroke="#000" stroke-width="2.7" stroke-linejoin="miter"/>
<polygon points="1345.7,745.48 1354.3,745.48 1350,737.74" fill="#fff" stroke="#000" stroke-width="2.7" stroke-linejoin="miter"/>
<polygon points="1351.95,746.48 1360.55,746.48 1356.25,738.74" fill="#fff" stroke="#000" stroke-width="2.7" stroke-linejoin="miter"/>
<polygon points="1359.45,743.48 1368.05,743.48 1363.75,735.74" fill="#fff" stroke="#000" stroke-width="2.7" stroke-linejoin="miter"/>
<polygon points="1364.45,748.48 1373.05,748.48 1368.75,740.74" fill="#fff" stroke="#000" stroke-width="2.7" stroke-linejoin="miter"/>
<polygon points="1369.95,753.48 1378.55,753.48 1374.25,745.74" fill="#fff" stroke="#000" stroke-width="2.7" stroke-linejoin="miter"/>
<polygon points="1408.95,705.48 1417.55,705.48 1413.25,697.74" fill="#fff" stroke="#000" stroke-width="2.7" stroke-linejoin="miter"/>
<polygon points="1404.45,710.98 1413.05,710.98 1408.75,703.24" fill="#fff" stroke="#000" stroke-width="2.7" stroke-linejoin="miter"/>
<polygon points="1408.95,718.48 1417.55,718.48 1413.25,710.74" fill="#fff" stroke="#000" stroke-width="2.7" stroke-linejoin="miter"/>
<polygon points="1414.45,722.23 1423.05,722.23 1418.75,714.49" fill="#fff" stroke="#000" stroke-width="2.7" stroke-linejoin="miter"/>
<polygon points="1396.95,728.48 1405.55,728.48 1401.25,720.74" fill="#fff" stroke="#000" stroke-width="2.7" stroke-linejoin="miter"/>
<polygon points="1405.7,727.23 1414.3,727.23 1410,719.49" fill="#fff" stroke="#000" stroke-width="2.7" stroke-linejoin="miter"/>
<polygon points="1411.95,727.23 1420.55,727.23 1416.25,719.49" fill="#fff" stroke="#000" stroke-width="2.7" stroke-linejoin="miter"/>
<polygon points="1405.7,737.23 1414.3,737.23 1410,729.49" fill="#fff" stroke="#000" stroke-width="2.7" stroke-linejoin="miter"/>
<polygon points="1415.7,737.23 1424.3,737.23 1420,729.49" fill="#fff" stroke="#000" stroke-width="2.7" stroke-linejoin="miter"/>
<polygon points="1420.7,738.48 1429.3,738.48 1425,730.74" fill="#fff" stroke="#000" stroke-width="2.7" stroke-linejoin="miter"/>
<polygon points="1489.2,734.73 1497.8,734.73 1493.5,726.99" fill="#fff" stroke="#000" stroke-width="2.7" stroke-linejoin="miter"/>
<polygon points="1494.2,737.23 1502.8,737.23 1498.5,729.49" fill="#fff" stroke="#000" stroke-width="2.7" stroke-linejoin="miter"/>
<polygon points="1498.7,739.73 1507.3,739.73 1503,731.99" fill="#fff" stroke="#000" stroke-width="2.7" stroke-linejoin="miter"/>
<polygon points="1482.45,745.98 1491.05,745.98 1486.75,738.24" fill="#fff" stroke="#000" stroke-width="2.7" stroke-linejoin="miter"/>
<polygon points="1488.7,746.48 1497.3,746.48 1493,738.74" fill="#fff" stroke="#000" stroke-width="2.7" stroke-linejoin="miter"/>
<polygon points="1494.95,747.23 1503.55,747.23 1499.25,739.49" fill="#fff" stroke="#000" stroke-width="2.7" stroke-linejoin="miter"/>
<polygon points="1501.2,748.98 1509.8,748.98 1505.5,741.24" fill="#fff" stroke="#000" stroke-width="2.7" stroke-linejoin="miter"/>
<polygon points="1487.45,752.23 1496.05,752.23 1491.75,744.49" fill="#fff" stroke="#000" stroke-width="2.7" stroke-linejoin="miter"/>
<polygon points="1497.45,753.48 1506.05,753.48 1501.75,745.74" fill="#fff" stroke="#000" stroke-width="2.7" stroke-linejoin="miter"/>
<polygon points="1504.95,755.98 1513.55,755.98 1509.25,748.24" fill="#fff" stroke="#000" stroke-width="2.7" stroke-linejoin="miter"/>
<polygon points="1536.7,710.48 1545.3,710.48 1541,702.74" fill="#fff" stroke="#000" stroke-width="2.7" stroke-linejoin="miter"/>
<polygon points="1541.7,713.48 1550.3,713.48 1546,705.74" fill="#fff" stroke="#000" stroke-width="2.7" stroke-linejoin="miter"/>
<polygon points="1546.2,715.98 1554.8,715.98 1550.5,708.24" fill="#fff" stroke="#000" stroke-width="2.7" stroke-linejoin="miter"/>
<polygon points="1531.2,724.73 1539.8,724.73 1535.5,716.99" fill="#fff" stroke="#000" stroke-width="2.7" stroke-linejoin="miter"/>
<polygon points="1537.45,723.48 1546.05,723.48 1541.75,715.74" fill="#fff" stroke="#000" stroke-width="2.7" stroke-linejoin="miter"/>
<polygon points="1544.95,722.23 1553.55,722.23 1549.25,714.49" fill="#fff" stroke="#000" stroke-width="2.7" stroke-linejoin="miter"/>
<polygon points="1549.95,724.73 1558.55,724.73 1554.25,716.99" fill="#fff" stroke="#000" stroke-width="2.7" stroke-linejoin="miter"/>
<polygon points="1542.45,727.23 1551.05,727.23 1546.75,719.49" fill="#fff" stroke="#000" stroke-width="2.7" stroke-linejoin="miter"/>
<polygon points="1551.2,728.48 1559.8,728.48 1555.5,720.74" fill="#fff" stroke="#000" stroke-width="2.7" stroke-linejoin="miter"/>
<polygon points="1555.7,735.98 1564.3,735.98 1560,728.24" fill="#fff" stroke="#000" stroke-width="2.7" stroke-linejoin="miter"/>
<text x="1.5" y="1062" font-size="41" font-weight="bold">f</text>
<text x="489.7" y="1091.4" font-size="25" text-anchor="middle" stroke="#000" stroke-width="0.28">Body fat mass</text>
<line x1="92.6" y1="1159.25" x2="92.6" y2="1446" stroke="#000" stroke-width="3"/>
<line x1="83.8" y1="1444.5" x2="92.6" y2="1444.5" stroke="#000" stroke-width="3"/>
<text x="70.5" y="1452.3" font-size="24.5" text-anchor="end" stroke="#000" stroke-width="0.28">0</text>
<line x1="83.8" y1="1387.75" x2="92.6" y2="1387.75" stroke="#000" stroke-width="3"/>
<text x="70.5" y="1395.55" font-size="24.5" text-anchor="end" stroke="#000" stroke-width="0.28">1</text>
<line x1="83.8" y1="1331" x2="92.6" y2="1331" stroke="#000" stroke-width="3"/>
<text x="70.5" y="1338.8" font-size="24.5" text-anchor="end" stroke="#000" stroke-width="0.28">2</text>
<line x1="83.8" y1="1274.25" x2="92.6" y2="1274.25" stroke="#000" stroke-width="3"/>
<text x="70.5" y="1282.05" font-size="24.5" text-anchor="end" stroke="#000" stroke-width="0.28">3</text>
<line x1="83.8" y1="1217.5" x2="92.6" y2="1217.5" stroke="#000" stroke-width="3"/>
<text x="70.5" y="1225.3" font-size="24.5" text-anchor="end" stroke="#000" stroke-width="0.28">4</text>
<line x1="83.8" y1="1160.75" x2="92.6" y2="1160.75" stroke="#000" stroke-width="3"/>
<text x="70.5" y="1168.55" font-size="24.5" text-anchor="end" stroke="#000" stroke-width="0.28">5</text>
<line x1="83.8" y1="1444.5" x2="888.6" y2="1444.5" stroke="#000" stroke-width="3"/>
<line x1="126" y1="1444.5" x2="126" y2="1453.3" stroke="#000" stroke-width="3"/>
<line x1="176.7" y1="1444.5" x2="176.7" y2="1453.3" stroke="#000" stroke-width="3"/>
<line x1="260.8" y1="1444.5" x2="260.8" y2="1453.3" stroke="#000" stroke-width="3"/>
<line x1="311.5" y1="1444.5" x2="311.5" y2="1453.3" stroke="#000" stroke-width="3"/>
<line x1="395.6" y1="1444.5" x2="395.6" y2="1453.3" stroke="#000" stroke-width="3"/>
<line x1="446.6" y1="1444.5" x2="446.6" y2="1453.3" stroke="#000" stroke-width="3"/>
<line x1="530.8" y1="1444.5" x2="530.8" y2="1453.3" stroke="#000" stroke-width="3"/>
<line x1="581.6" y1="1444.5" x2="581.6" y2="1453.3" stroke="#000" stroke-width="3"/>
<line x1="666" y1="1444.5" x2="666" y2="1453.3" stroke="#000" stroke-width="3"/>
<line x1="716.6" y1="1444.5" x2="716.6" y2="1453.3" stroke="#000" stroke-width="3"/>
<line x1="800.7" y1="1444.5" x2="800.7" y2="1453.3" stroke="#000" stroke-width="3"/>
<line x1="851.6" y1="1444.5" x2="851.6" y2="1453.3" stroke="#000" stroke-width="3"/>
<text x="36" y="1302.7" font-size="25" text-anchor="middle" transform="rotate(-90 36 1302.7)" stroke="#000" stroke-width="0.28">Gram</text>
<text x="126.47" y="1484.3" font-size="24.8" text-anchor="middle" stroke="#000" stroke-width="0.28">Pre</text>
<text x="177.4" y="1484.3" font-size="24.8" text-anchor="middle" stroke="#000" stroke-width="0.28">Post</text>
<line x1="109.97" y1="1493.7" x2="195.06" y2="1493.7" stroke="#333" stroke-width="1.8"/>
<text x="148.46" y="1527.3" font-size="25" text-anchor="middle" stroke="#000" stroke-width="0.28">UT</text>
<text x="257.86" y="1484.3" font-size="24.8" text-anchor="middle" stroke="#000" stroke-width="0.28">Pre</text>
<text x="311.98" y="1484.3" font-size="24.8" text-anchor="middle" stroke="#000" stroke-width="0.28">Post</text>
<line x1="245.99" y1="1493.7" x2="331.65" y2="1493.7" stroke="#333" stroke-width="1.8"/>
<text x="283.9" y="1527.3" font-size="25" text-anchor="middle" stroke="#000" stroke-width="0.28">ET</text>
<text x="396.19" y="1484.3" font-size="24.8" text-anchor="middle" stroke="#000" stroke-width="0.28">Pre</text>
<text x="447.13" y="1484.3" font-size="24.8" text-anchor="middle" stroke="#000" stroke-width="0.28">Post</text>
<line x1="382.01" y1="1493.7" x2="467.67" y2="1493.7" stroke="#333" stroke-width="1.8"/>
<text x="421.08" y="1527.3" font-size="25" text-anchor="middle" stroke="#000" stroke-width="0.28">UT</text>
<text x="530.47" y="1484.3" font-size="24.8" text-anchor="middle" stroke="#000" stroke-width="0.28">Pre</text>
<text x="582.28" y="1484.3" font-size="24.8" text-anchor="middle" stroke="#000" stroke-width="0.28">Post</text>
<line x1="518.03" y1="1493.7" x2="603.69" y2="1493.7" stroke="#333" stroke-width="1.8"/>
<text x="556.52" y="1527.3" font-size="25" text-anchor="middle" stroke="#000" stroke-width="0.28">ET</text>
<text x="663.02" y="1484.3" font-size="24.8" text-anchor="middle" stroke="#000" stroke-width="0.28">Pre</text>
<text x="717.14" y="1484.3" font-size="24.8" text-anchor="middle" stroke="#000" stroke-width="0.28">Post</text>
<line x1="651.15" y1="1493.7" x2="736.82" y2="1493.7" stroke="#333" stroke-width="1.8"/>
<text x="690.22" y="1527.3" font-size="25" text-anchor="middle" stroke="#000" stroke-width="0.28">UT</text>
<text x="800.78" y="1484.3" font-size="24.8" text-anchor="middle" stroke="#000" stroke-width="0.28">Pre</text>
<text x="852.58" y="1484.3" font-size="24.8" text-anchor="middle" stroke="#000" stroke-width="0.28">Post</text>
<line x1="787.17" y1="1493.7" x2="872.84" y2="1493.7" stroke="#333" stroke-width="1.8"/>
<text x="825.66" y="1527.3" font-size="25" text-anchor="middle" stroke="#000" stroke-width="0.28">ET</text>
<text x="176" y="1210.8" font-size="32" text-anchor="middle" stroke="#000" stroke-width="0.45">$$$</text>
<text x="310" y="1295.3" font-size="34" text-anchor="middle" stroke="#000" stroke-width="0.45" letter-spacing="4">***</text>
<text x="444.4" y="1247" font-size="32" text-anchor="middle" stroke="#000" stroke-width="0.45">$$$</text>
<text x="582.5" y="1234" font-size="34" text-anchor="middle" stroke="#000" stroke-width="0.45" letter-spacing="4">**</text>
<text x="583.5" y="1273.4" font-size="32" text-anchor="middle" stroke="#000" stroke-width="0.45">$$$</text>
<text x="715" y="1239" font-size="32" text-anchor="middle" stroke="#000" stroke-width="0.45">$$$</text>
<text x="850" y="1296.3" font-size="34" text-anchor="middle" stroke="#000" stroke-width="0.45">*</text>
<rect x="111.3" y="1348.2" width="29.4" height="96.3" fill="#3d9cff"/>
<polyline points="111.3,1446 111.3,1348.2 140.7,1348.2 140.7,1446" fill="none" stroke="#000" stroke-width="3.8" stroke-linejoin="miter"/>
<line x1="126" y1="1338.77" x2="126" y2="1348.3" stroke="#000" stroke-width="2.4"/>
<line x1="118" y1="1338.77" x2="134" y2="1338.77" stroke="#000" stroke-width="2.4"/>
<rect x="162" y="1301" width="29.4" height="143.5" fill="#3d9cff"/>
<polyline points="162,1446 162,1301 191.4,1301 191.4,1446" fill="none" stroke="#000" stroke-width="3.8" stroke-linejoin="miter"/>
<line x1="176.7" y1="1286.12" x2="176.7" y2="1301.1" stroke="#000" stroke-width="2.4"/>
<line x1="168.7" y1="1286.12" x2="184.7" y2="1286.12" stroke="#000" stroke-width="2.4"/>
<rect x="246.1" y="1360.6" width="29.4" height="83.9" fill="url(#h6)"/>
<polyline points="246.1,1446 246.1,1360.6 275.5,1360.6 275.5,1446" fill="none" stroke="#000" stroke-width="3.8" stroke-linejoin="miter"/>
<line x1="260.8" y1="1355.12" x2="260.8" y2="1360.7" stroke="#000" stroke-width="2.4"/>
<line x1="252.8" y1="1355.12" x2="268.8" y2="1355.12" stroke="#000" stroke-width="2.4"/>
<rect x="296.8" y="1357.9" width="29.4" height="86.6" fill="url(#h6)"/>
<polyline points="296.8,1446 296.8,1357.9 326.2,1357.9 326.2,1446" fill="none" stroke="#000" stroke-width="3.8" stroke-linejoin="miter"/>
<line x1="311.5" y1="1348.47" x2="311.5" y2="1358" stroke="#000" stroke-width="2.4"/>
<line x1="303.5" y1="1348.47" x2="319.5" y2="1348.47" stroke="#000" stroke-width="2.4"/>
<rect x="380.9" y="1369.9" width="29.4" height="74.6" fill="#9e0000"/>
<polyline points="380.9,1446 380.9,1369.9 410.3,1369.9 410.3,1446" fill="none" stroke="#000" stroke-width="3.8" stroke-linejoin="miter"/>
<line x1="395.6" y1="1360.11" x2="395.6" y2="1370" stroke="#000" stroke-width="2.4"/>
<line x1="387.6" y1="1360.11" x2="403.6" y2="1360.11" stroke="#000" stroke-width="2.4"/>
<rect x="431.9" y="1307.9" width="29.4" height="136.6" fill="#9e0000"/>
<polyline points="431.9,1446 431.9,1307.9 461.3,1307.9 461.3,1446" fill="none" stroke="#000" stroke-width="3.8" stroke-linejoin="miter"/>
<line x1="446.6" y1="1296.38" x2="446.6" y2="1308" stroke="#000" stroke-width="2.4"/>
<line x1="438.6" y1="1296.38" x2="454.6" y2="1296.38" stroke="#000" stroke-width="2.4"/>
<rect x="516.1" y="1364.9" width="29.4" height="79.6" fill="url(#h4)"/>
<polyline points="516.1,1446 516.1,1364.9 545.5,1364.9 545.5,1446" fill="none" stroke="#000" stroke-width="3.8" stroke-linejoin="miter"/>
<line x1="530.8" y1="1360.11" x2="530.8" y2="1365" stroke="#000" stroke-width="2.4"/>
<line x1="522.8" y1="1360.11" x2="538.8" y2="1360.11" stroke="#000" stroke-width="2.4"/>
<rect x="566.9" y="1335.7" width="29.4" height="108.8" fill="url(#h4)"/>
<polyline points="566.9,1446 566.9,1335.7 596.3,1335.7 596.3,1446" fill="none" stroke="#000" stroke-width="3.8" stroke-linejoin="miter"/>
<line x1="581.6" y1="1326.3" x2="581.6" y2="1335.8" stroke="#000" stroke-width="2.4"/>
<line x1="573.6" y1="1326.3" x2="589.6" y2="1326.3" stroke="#000" stroke-width="2.4"/>
<rect x="651.3" y="1378.6" width="29.4" height="65.9" fill="#008000"/>
<polyline points="651.3,1446 651.3,1378.6 680.7,1378.6 680.7,1446" fill="none" stroke="#000" stroke-width="3.8" stroke-linejoin="miter"/>
<line x1="666" y1="1373.96" x2="666" y2="1378.7" stroke="#000" stroke-width="2.4"/>
<line x1="658" y1="1373.96" x2="674" y2="1373.96" stroke="#000" stroke-width="2.4"/>
<rect x="701.9" y="1328.8" width="29.4" height="115.7" fill="#008000"/>
<polyline points="701.9,1446 701.9,1328.8 731.3,1328.8 731.3,1446" fill="none" stroke="#000" stroke-width="3.8" stroke-linejoin="miter"/>
<line x1="716.6" y1="1314.39" x2="716.6" y2="1328.9" stroke="#000" stroke-width="2.4"/>
<line x1="708.6" y1="1314.39" x2="724.6" y2="1314.39" stroke="#000" stroke-width="2.4"/>
<rect x="786" y="1360.6" width="29.4" height="83.9" fill="url(#h5)"/>
<polyline points="786,1446 786,1360.6 815.4,1360.6 815.4,1446" fill="none" stroke="#000" stroke-width="3.8" stroke-linejoin="miter"/>
<line x1="800.7" y1="1347.64" x2="800.7" y2="1360.7" stroke="#000" stroke-width="2.4"/>
<line x1="792.7" y1="1347.64" x2="808.7" y2="1347.64" stroke="#000" stroke-width="2.4"/>
<rect x="836.9" y="1363.4" width="29.4" height="81.1" fill="url(#h5)"/>
<polyline points="836.9,1446 836.9,1363.4 866.3,1363.4 866.3,1446" fill="none" stroke="#000" stroke-width="3.8" stroke-linejoin="miter"/>
<line x1="851.6" y1="1357.33" x2="851.6" y2="1363.5" stroke="#000" stroke-width="2.4"/>
<line x1="843.6" y1="1357.33" x2="859.6" y2="1357.33" stroke="#000" stroke-width="2.4"/>
<circle cx="126" cy="1313.83" r="3.9" fill="#fff" stroke="#000" stroke-width="2.6"/>
<circle cx="114.91" cy="1333.78" r="3.9" fill="#fff" stroke="#000" stroke-width="2.6"/>
<circle cx="126" cy="1333.78" r="3.9" fill="#fff" stroke="#000" stroke-width="2.6"/>
<circle cx="137.36" cy="1331.57" r="3.9" fill="#fff" stroke="#000" stroke-width="2.6"/>
<circle cx="114.91" cy="1348.19" r="3.9" fill="#fff" stroke="#000" stroke-width="2.6"/>
<circle cx="126" cy="1357.33" r="3.9" fill="#fff" stroke="#000" stroke-width="2.6"/>
<circle cx="136.8" cy="1358.72" r="3.9" fill="#fff" stroke="#000" stroke-width="2.6"/>
<circle cx="126" cy="1386.98" r="3.9" fill="#fff" stroke="#000" stroke-width="2.6"/>
<circle cx="176.43" cy="1231.81" r="3.9" fill="#fff" stroke="#000" stroke-width="2.6"/>
<circle cx="176.43" cy="1275.87" r="3.9" fill="#fff" stroke="#000" stroke-width="2.6"/>
<circle cx="168.11" cy="1294.44" r="3.9" fill="#fff" stroke="#000" stroke-width="2.6"/>
<circle cx="184.74" cy="1292.22" r="3.9" fill="#fff" stroke="#000" stroke-width="2.6"/>
<circle cx="168.11" cy="1313" r="3.9" fill="#fff" stroke="#000" stroke-width="2.6"/>
<circle cx="184.74" cy="1315.77" r="3.9" fill="#fff" stroke="#000" stroke-width="2.6"/>
<circle cx="168.11" cy="1333.23" r="3.9" fill="#fff" stroke="#000" stroke-width="2.6"/>
<circle cx="184.74" cy="1333.78" r="3.9" fill="#fff" stroke="#000" stroke-width="2.6"/>
<circle cx="257.33" cy="1334.34" r="3.9" fill="#fff" stroke="#000" stroke-width="2.6"/>
<circle cx="264.82" cy="1339.88" r="3.9" fill="#fff" stroke="#000" stroke-width="2.6"/>
<circle cx="257.33" cy="1349.58" r="3.9" fill="#fff" stroke="#000" stroke-width="2.6"/>
<circle cx="264.82" cy="1354.56" r="3.9" fill="#fff" stroke="#000" stroke-width="2.6"/>
<circle cx="249.58" cy="1362.88" r="3.9" fill="#fff" stroke="#000" stroke-width="2.6"/>
<circle cx="257.33" cy="1369.8" r="3.9" fill="#fff" stroke="#000" stroke-width="2.6"/>
<circle cx="264.82" cy="1367.03" r="3.9" fill="#fff" stroke="#000" stroke-width="2.6"/>
<circle cx="272.57" cy="1362.04" r="3.9" fill="#fff" stroke="#000" stroke-width="2.6"/>
<circle cx="264.82" cy="1380.06" r="3.9" fill="#fff" stroke="#000" stroke-width="2.6"/>
<circle cx="300.28" cy="1321.31" r="3.9" fill="#fff" stroke="#000" stroke-width="2.6"/>
<circle cx="311.37" cy="1328.79" r="3.9" fill="#fff" stroke="#000" stroke-width="2.6"/>
<circle cx="322.73" cy="1333.23" r="3.9" fill="#fff" stroke="#000" stroke-width="2.6"/>
<circle cx="317.18" cy="1351.79" r="3.9" fill="#fff" stroke="#000" stroke-width="2.6"/>
<circle cx="306.38" cy="1355.12" r="3.9" fill="#fff" stroke="#000" stroke-width="2.6"/>
<circle cx="300.28" cy="1364.82" r="3.9" fill="#fff" stroke="#000" stroke-width="2.6"/>
<circle cx="311.37" cy="1368.97" r="3.9" fill="#fff" stroke="#000" stroke-width="2.6"/>
<circle cx="322.73" cy="1371.19" r="3.9" fill="#fff" stroke="#000" stroke-width="2.6"/>
<circle cx="306.38" cy="1373.13" r="3.9" fill="#fff" stroke="#000" stroke-width="2.6"/>
<circle cx="317.18" cy="1385.6" r="3.9" fill="#fff" stroke="#000" stroke-width="2.6"/>
<rect x="388.75" y="1351.32" width="7.6" height="7.6" fill="#fff" stroke="#000" stroke-width="2.6"/>
<rect x="394.85" y="1359.08" width="7.6" height="7.6" fill="#fff" stroke="#000" stroke-width="2.6"/>
<rect x="401.77" y="1359.08" width="7.6" height="7.6" fill="#fff" stroke="#000" stroke-width="2.6"/>
<rect x="380.44" y="1362.4" width="7.6" height="7.6" fill="#fff" stroke="#000" stroke-width="2.6"/>
<rect x="389.31" y="1367.39" width="7.6" height="7.6" fill="#fff" stroke="#000" stroke-width="2.6"/>
<rect x="396.79" y="1367.39" width="7.6" height="7.6" fill="#fff" stroke="#000" stroke-width="2.6"/>
<rect x="390.69" y="1371.54" width="7.6" height="7.6" fill="#fff" stroke="#000" stroke-width="2.6"/>
<rect x="397.62" y="1373.48" width="7.6" height="7.6" fill="#fff" stroke="#000" stroke-width="2.6"/>
<rect x="403.16" y="1374.87" width="7.6" height="7.6" fill="#fff" stroke="#000" stroke-width="2.6"/>
<rect x="442.78" y="1265.42" width="7.6" height="7.6" fill="#fff" stroke="#000" stroke-width="2.6"/>
<rect x="442.78" y="1272.63" width="7.6" height="7.6" fill="#fff" stroke="#000" stroke-width="2.6"/>
<rect x="454.42" y="1273.18" width="7.6" height="7.6" fill="#fff" stroke="#000" stroke-width="2.6"/>
<rect x="431.42" y="1285.09" width="7.6" height="7.6" fill="#fff" stroke="#000" stroke-width="2.6"/>
<rect x="442.78" y="1305.6" width="7.6" height="7.6" fill="#fff" stroke="#000" stroke-width="2.6"/>
<rect x="436.96" y="1314.74" width="7.6" height="7.6" fill="#fff" stroke="#000" stroke-width="2.6"/>
<rect x="448.33" y="1325.27" width="7.6" height="7.6" fill="#fff" stroke="#000" stroke-width="2.6"/>
<rect x="436.96" y="1333.58" width="7.6" height="7.6" fill="#fff" stroke="#000" stroke-width="2.6"/>
<rect x="448.33" y="1342.45" width="7.6" height="7.6" fill="#fff" stroke="#000" stroke-width="2.6"/>
<rect x="527.18" y="1340.23" width="7.6" height="7.6" fill="#fff" stroke="#000" stroke-width="2.6"/>
<rect x="521.09" y="1347.99" width="7.6" height="7.6" fill="#fff" stroke="#000" stroke-width="2.6"/>
<rect x="533" y="1352.7" width="7.6" height="7.6" fill="#fff" stroke="#000" stroke-width="2.6"/>
<rect x="514.99" y="1361.85" width="7.6" height="7.6" fill="#fff" stroke="#000" stroke-width="2.6"/>
<rect x="521.09" y="1364.62" width="7.6" height="7.6" fill="#fff" stroke="#000" stroke-width="2.6"/>
<rect x="533" y="1362.4" width="7.6" height="7.6" fill="#fff" stroke="#000" stroke-width="2.6"/>
<rect x="527.18" y="1370.99" width="7.6" height="7.6" fill="#fff" stroke="#000" stroke-width="2.6"/>
<rect x="538.82" y="1371.54" width="7.6" height="7.6" fill="#fff" stroke="#000" stroke-width="2.6"/>
<rect x="527.18" y="1384.01" width="7.6" height="7.6" fill="#fff" stroke="#000" stroke-width="2.6"/>
<rect x="566.81" y="1299.78" width="7.6" height="7.6" fill="#fff" stroke="#000" stroke-width="2.6"/>
<rect x="577.89" y="1303.66" width="7.6" height="7.6" fill="#fff" stroke="#000" stroke-width="2.6"/>
<rect x="589.25" y="1305.32" width="7.6" height="7.6" fill="#fff" stroke="#000" stroke-width="2.6"/>
<rect x="583.43" y="1320.84" width="7.6" height="7.6" fill="#fff" stroke="#000" stroke-width="2.6"/>
<rect x="572.35" y="1331.37" width="7.6" height="7.6" fill="#fff" stroke="#000" stroke-width="2.6"/>
<rect x="566.81" y="1336.08" width="7.6" height="7.6" fill="#fff" stroke="#000" stroke-width="2.6"/>
<rect x="577.89" y="1338.85" width="7.6" height="7.6" fill="#fff" stroke="#000" stroke-width="2.6"/>
<rect x="589.25" y="1345.78" width="7.6" height="7.6" fill="#fff" stroke="#000" stroke-width="2.6"/>
<rect x="572.35" y="1349.38" width="7.6" height="7.6" fill="#fff" stroke="#000" stroke-width="2.6"/>
<rect x="583.43" y="1359.63" width="7.6" height="7.6" fill="#fff" stroke="#000" stroke-width="2.6"/>
<polygon points="661.45,1355.75 669.85,1355.75 665.65,1348.19" fill="#fff" stroke="#000" stroke-width="2.6" stroke-linejoin="miter"/>
<polygon points="657.29,1365.72 665.69,1365.72 661.49,1358.16" fill="#fff" stroke="#000" stroke-width="2.6" stroke-linejoin="miter"/>
<polygon points="665.33,1367.66 673.73,1367.66 669.53,1360.1" fill="#fff" stroke="#000" stroke-width="2.6" stroke-linejoin="miter"/>
<polygon points="673.36,1372.65 681.76,1372.65 677.56,1365.09" fill="#fff" stroke="#000" stroke-width="2.6" stroke-linejoin="miter"/>
<polygon points="649.81,1380.69 658.21,1380.69 654.01,1373.13" fill="#fff" stroke="#000" stroke-width="2.6" stroke-linejoin="miter"/>
<polygon points="665.33,1380.69 673.73,1380.69 669.53,1373.13" fill="#fff" stroke="#000" stroke-width="2.6" stroke-linejoin="miter"/>
<polygon points="657.29,1385.67 665.69,1385.67 661.49,1378.11" fill="#fff" stroke="#000" stroke-width="2.6" stroke-linejoin="miter"/>
<polygon points="654.52,1390.66 662.92,1390.66 658.72,1383.1" fill="#fff" stroke="#000" stroke-width="2.6" stroke-linejoin="miter"/>
<polygon points="661.45,1394.54 669.85,1394.54 665.65,1386.98" fill="#fff" stroke="#000" stroke-width="2.6" stroke-linejoin="miter"/>
<polygon points="668.93,1398.97 677.33,1398.97 673.13,1391.41" fill="#fff" stroke="#000" stroke-width="2.6" stroke-linejoin="miter"/>
<polygon points="708,1267.91 716.4,1267.91 712.2,1260.35" fill="#fff" stroke="#000" stroke-width="2.6" stroke-linejoin="miter"/>
<polygon points="715.76,1274.01 724.16,1274.01 719.96,1266.45" fill="#fff" stroke="#000" stroke-width="2.6" stroke-linejoin="miter"/>
<polygon points="712.15,1294.24 720.55,1294.24 716.35,1286.68" fill="#fff" stroke="#000" stroke-width="2.6" stroke-linejoin="miter"/>
<polygon points="712.15,1329.43 720.55,1329.43 716.35,1321.87" fill="#fff" stroke="#000" stroke-width="2.6" stroke-linejoin="miter"/>
<polygon points="715.76,1341.34 724.16,1341.34 719.96,1333.78" fill="#fff" stroke="#000" stroke-width="2.6" stroke-linejoin="miter"/>
<polygon points="700.24,1352.98 708.64,1352.98 704.44,1345.42" fill="#fff" stroke="#000" stroke-width="2.6" stroke-linejoin="miter"/>
<polygon points="708,1351.04 716.4,1351.04 712.2,1343.48" fill="#fff" stroke="#000" stroke-width="2.6" stroke-linejoin="miter"/>
<polygon points="708,1358.8 716.4,1358.8 712.2,1351.24" fill="#fff" stroke="#000" stroke-width="2.6" stroke-linejoin="miter"/>
<polygon points="715.76,1365.45 724.16,1365.45 719.96,1357.89" fill="#fff" stroke="#000" stroke-width="2.6" stroke-linejoin="miter"/>
<polygon points="723.24,1365.45 731.64,1365.45 727.44,1357.89" fill="#fff" stroke="#000" stroke-width="2.6" stroke-linejoin="miter"/>
<polygon points="796.66,1293.4 805.06,1293.4 800.86,1285.84" fill="#fff" stroke="#000" stroke-width="2.6" stroke-linejoin="miter"/>
<polygon points="796.66,1332.47 805.06,1332.47 800.86,1324.91" fill="#fff" stroke="#000" stroke-width="2.6" stroke-linejoin="miter"/>
<polygon points="793.89,1342.17 802.29,1342.17 798.09,1334.61" fill="#fff" stroke="#000" stroke-width="2.6" stroke-linejoin="miter"/>
<polygon points="799.16,1354.64 807.56,1354.64 803.36,1347.08" fill="#fff" stroke="#000" stroke-width="2.6" stroke-linejoin="miter"/>
<polygon points="797.22,1371.82 805.62,1371.82 801.42,1364.26" fill="#fff" stroke="#000" stroke-width="2.6" stroke-linejoin="miter"/>
<polygon points="784.75,1380.13 793.15,1380.13 788.95,1372.57" fill="#fff" stroke="#000" stroke-width="2.6" stroke-linejoin="miter"/>
<polygon points="790.85,1381.52 799.25,1381.52 795.05,1373.96" fill="#fff" stroke="#000" stroke-width="2.6" stroke-linejoin="miter"/>
<polygon points="796.66,1385.67 805.06,1385.67 800.86,1378.11" fill="#fff" stroke="#000" stroke-width="2.6" stroke-linejoin="miter"/>
<polygon points="802.21,1388.44 810.61,1388.44 806.41,1380.88" fill="#fff" stroke="#000" stroke-width="2.6" stroke-linejoin="miter"/>
<polygon points="807.75,1391.22 816.15,1391.22 811.95,1383.66" fill="#fff" stroke="#000" stroke-width="2.6" stroke-linejoin="miter"/>
<polygon points="843.49,1346.88 851.89,1346.88 847.69,1339.32" fill="#fff" stroke="#000" stroke-width="2.6" stroke-linejoin="miter"/>
<polygon points="851.25,1346.33 859.65,1346.33 855.45,1338.77" fill="#fff" stroke="#000" stroke-width="2.6" stroke-linejoin="miter"/>
<polygon points="851.25,1355.75 859.65,1355.75 855.45,1348.19" fill="#fff" stroke="#000" stroke-width="2.6" stroke-linejoin="miter"/>
<polygon points="859.01,1356.3 867.41,1356.3 863.21,1348.74" fill="#fff" stroke="#000" stroke-width="2.6" stroke-linejoin="miter"/>
<polygon points="843.49,1363.51 851.89,1363.51 847.69,1355.95" fill="#fff" stroke="#000" stroke-width="2.6" stroke-linejoin="miter"/>
<polygon points="835.46,1366.28 843.86,1366.28 839.66,1358.72" fill="#fff" stroke="#000" stroke-width="2.6" stroke-linejoin="miter"/>
<polygon points="835.46,1374.04 843.86,1374.04 839.66,1366.48" fill="#fff" stroke="#000" stroke-width="2.6" stroke-linejoin="miter"/>
<polygon points="843.49,1379.58 851.89,1379.58 847.69,1372.02" fill="#fff" stroke="#000" stroke-width="2.6" stroke-linejoin="miter"/>
<polygon points="851.25,1380.13 859.65,1380.13 855.45,1372.57" fill="#fff" stroke="#000" stroke-width="2.6" stroke-linejoin="miter"/>
<polygon points="859.01,1380.13 867.41,1380.13 863.21,1372.57" fill="#fff" stroke="#000" stroke-width="2.6" stroke-linejoin="miter"/>
<text x="1045.5" y="1061.5" font-size="41" font-weight="bold">g</text>
<text x="1350.9" y="1092.2" font-size="25" text-anchor="middle" stroke="#000" stroke-width="0.28">Relative change of</text>
<text x="1350" y="1121.9" font-size="25" text-anchor="middle" stroke="#000" stroke-width="0.28">body fat mass</text>
<line x1="1190.7" y1="1152.15" x2="1190.7" y2="1443.9" stroke="#000" stroke-width="3"/>
<line x1="1181.9" y1="1427.14" x2="1190.7" y2="1427.14" stroke="#000" stroke-width="3"/>
<text x="1168" y="1434.94" font-size="24.5" text-anchor="end" stroke="#000" stroke-width="0.28">0.50</text>
<line x1="1181.9" y1="1388.07" x2="1190.7" y2="1388.07" stroke="#000" stroke-width="3"/>
<text x="1168" y="1395.87" font-size="24.5" text-anchor="end" stroke="#000" stroke-width="0.28">0.75</text>
<line x1="1181.9" y1="1349" x2="1190.7" y2="1349" stroke="#000" stroke-width="3"/>
<text x="1168" y="1356.8" font-size="24.5" text-anchor="end" stroke="#000" stroke-width="0.28">1.00</text>
<line x1="1181.9" y1="1309.93" x2="1190.7" y2="1309.93" stroke="#000" stroke-width="3"/>
<text x="1168" y="1317.73" font-size="24.5" text-anchor="end" stroke="#000" stroke-width="0.28">1.25</text>
<line x1="1181.9" y1="1270.86" x2="1190.7" y2="1270.86" stroke="#000" stroke-width="3"/>
<text x="1168" y="1278.66" font-size="24.5" text-anchor="end" stroke="#000" stroke-width="0.28">1.50</text>
<line x1="1181.9" y1="1231.79" x2="1190.7" y2="1231.79" stroke="#000" stroke-width="3"/>
<text x="1168" y="1239.59" font-size="24.5" text-anchor="end" stroke="#000" stroke-width="0.28">1.75</text>
<line x1="1181.9" y1="1192.72" x2="1190.7" y2="1192.72" stroke="#000" stroke-width="3"/>
<text x="1168" y="1200.52" font-size="24.5" text-anchor="end" stroke="#000" stroke-width="0.28">2.00</text>
<line x1="1181.9" y1="1153.65" x2="1190.7" y2="1153.65" stroke="#000" stroke-width="3"/>
<text x="1168" y="1161.45" font-size="24.5" text-anchor="end" stroke="#000" stroke-width="0.28">2.25</text>
<line x1="1181.9" y1="1442.4" x2="1510.6" y2="1442.4" stroke="#000" stroke-width="3"/>
<line x1="1190.7" y1="1349" x2="1511.6" y2="1349" stroke="#000" stroke-width="3"/>
<text x="1067" y="1298" font-size="25" text-anchor="middle" transform="rotate(-90 1067 1298)" stroke="#000" stroke-width="0.28">Fat (gram)</text>
<text x="1096.5" y="1298.5" font-size="25" text-anchor="middle" transform="rotate(-90 1096.5 1298.5)" stroke="#000" stroke-width="0.28">(Rel. change from week 0)</text>
<polyline points="1252.2,1290.8 1252.2,1182.1 1448.4,1182.1 1448.4,1242.3" fill="none" stroke="#000" stroke-width="4"/>
<line x1="1350.6" y1="1182.1" x2="1350.6" y2="1203.5" stroke="#000" stroke-width="4"/>
<text x="1299.88" y="1177" font-size="38.5" text-anchor="middle" transform="translate(1299.88 1177) skewX(-9) translate(-1299.88 -1177)" stroke="#000" stroke-width="0.5">##</text>
<text x="1401.58" y="1177" font-size="38.5" text-anchor="middle" transform="translate(1401.58 1177) skewX(-9) translate(-1401.58 -1177)" stroke="#000" stroke-width="0.5">##</text>
<rect x="1320.1" y="1286.3" width="60.5" height="62.7" fill="url(#h4)"/>
<polyline points="1320.1,1350.5 1320.1,1286.3 1380.6,1286.3 1380.6,1350.5" fill="none" stroke="#000" stroke-width="3.8" stroke-linejoin="miter"/>
<line x1="1350" y1="1270" x2="1350" y2="1286" stroke="#000" stroke-width="2.5"/>
<line x1="1334" y1="1270" x2="1366" y2="1270" stroke="#000" stroke-width="2.5"/>
<line x1="1350" y1="1349" x2="1350" y2="1362" stroke="#000" stroke-width="2.5"/>
<line x1="1223" y1="1346.8" x2="1285" y2="1346.8" stroke="#000" stroke-width="4"/>
<line x1="1414.3" y1="1345.4" x2="1477.5" y2="1345.4" stroke="#000" stroke-width="4"/>
<line x1="1445.7" y1="1345.4" x2="1445.7" y2="1357.3" stroke="#000" stroke-width="2.5"/>
<line x1="1429.7" y1="1357.3" x2="1461.7" y2="1357.3" stroke="#000" stroke-width="2.5"/>
<circle cx="1253.88" cy="1305.24" r="4" fill="#fff" stroke="#000" stroke-width="2.6"/>
<circle cx="1253.88" cy="1321.86" r="4" fill="#fff" stroke="#000" stroke-width="2.6"/>
<circle cx="1253.88" cy="1336.55" r="4" fill="#fff" stroke="#000" stroke-width="2.6"/>
<circle cx="1230.06" cy="1348.19" r="4" fill="#fff" stroke="#000" stroke-width="2.6"/>
<circle cx="1262.2" cy="1348.19" r="4" fill="#fff" stroke="#000" stroke-width="2.6"/>
<circle cx="1277.99" cy="1344.59" r="4" fill="#fff" stroke="#000" stroke-width="2.6"/>
<circle cx="1246.13" cy="1353.18" r="4" fill="#fff" stroke="#000" stroke-width="2.6"/>
<circle cx="1238.37" cy="1362.04" r="4" fill="#fff" stroke="#000" stroke-width="2.6"/>
<circle cx="1253.88" cy="1362.04" r="4" fill="#fff" stroke="#000" stroke-width="2.6"/>
<circle cx="1270.23" cy="1365.37" r="4" fill="#fff" stroke="#000" stroke-width="2.6"/>
<rect x="1338.47" y="1212.7" width="7.6" height="7.6" fill="#fff" stroke="#000" stroke-width="2.6"/>
<rect x="1354.55" y="1219.63" width="7.6" height="7.6" fill="#fff" stroke="#000" stroke-width="2.6"/>
<rect x="1338.47" y="1258.7" width="7.6" height="7.6" fill="#fff" stroke="#000" stroke-width="2.6"/>
<rect x="1354.55" y="1265.35" width="7.6" height="7.6" fill="#fff" stroke="#000" stroke-width="2.6"/>
<rect x="1322.68" y="1288.35" width="7.6" height="7.6" fill="#fff" stroke="#000" stroke-width="2.6"/>
<rect x="1369.79" y="1288.35" width="7.6" height="7.6" fill="#fff" stroke="#000" stroke-width="2.6"/>
<rect x="1338.47" y="1294.72" width="7.6" height="7.6" fill="#fff" stroke="#000" stroke-width="2.6"/>
<rect x="1354.55" y="1298.6" width="7.6" height="7.6" fill="#fff" stroke="#000" stroke-width="2.6"/>
<rect x="1346.23" y="1318.06" width="7.6" height="7.6" fill="#fff" stroke="#000" stroke-width="2.6"/>
<rect x="1346.23" y="1360.46" width="7.6" height="7.6" fill="#fff" stroke="#000" stroke-width="2.6"/>
<polygon points="1441.43,1259.53 1449.83,1259.53 1445.63,1251.97" fill="#fff" stroke="#000" stroke-width="2.6" stroke-linejoin="miter"/>
<polygon points="1441.43,1295.55 1449.83,1295.55 1445.63,1287.99" fill="#fff" stroke="#000" stroke-width="2.6" stroke-linejoin="miter"/>
<polygon points="1441.43,1323.88 1449.83,1323.88 1445.63,1316.32" fill="#fff" stroke="#000" stroke-width="2.6" stroke-linejoin="miter"/>
<polygon points="1463.04,1329.98 1471.44,1329.98 1467.24,1322.42" fill="#fff" stroke="#000" stroke-width="2.6" stroke-linejoin="miter"/>
<polygon points="1441.43,1336.35 1449.83,1336.35 1445.63,1328.79" fill="#fff" stroke="#000" stroke-width="2.6" stroke-linejoin="miter"/>
<polygon points="1420.65,1341.06 1429.05,1341.06 1424.85,1333.5" fill="#fff" stroke="#000" stroke-width="2.6" stroke-linejoin="miter"/>
<polygon points="1441.43,1372.37 1449.83,1372.37 1445.63,1364.81" fill="#fff" stroke="#000" stroke-width="2.6" stroke-linejoin="miter"/>
<polygon points="1420.65,1396.75 1429.05,1396.75 1424.85,1389.19" fill="#fff" stroke="#000" stroke-width="2.6" stroke-linejoin="miter"/>
<polygon points="1441.43,1398.14 1449.83,1398.14 1445.63,1390.58" fill="#fff" stroke="#000" stroke-width="2.6" stroke-linejoin="miter"/>
<polygon points="1463.04,1407.84 1471.44,1407.84 1467.24,1400.28" fill="#fff" stroke="#000" stroke-width="2.6" stroke-linejoin="miter"/>
<text x="1262" y="1471.7" font-size="25" text-anchor="end" transform="rotate(-35.3 1262 1471.7)" stroke="#000" stroke-width="0.28">22 °C, ET</text>
<text x="1357.5" y="1471.7" font-size="25" text-anchor="end" transform="rotate(-35.3 1357.5 1471.7)" stroke="#000" stroke-width="0.28">30 °C, ET</text>
<text x="1453.2" y="1471.7" font-size="25" text-anchor="end" transform="rotate(-35.3 1453.2 1471.7)" stroke="#000" stroke-width="0.28">Paired 22 °C, ET</text>
<text x="1.5" y="1633.8" font-size="41" font-weight="bold">h</text>
<text x="309" y="1650.6" font-size="25" text-anchor="middle" stroke="#000" stroke-width="0.28">Glucose tolerance test</text>
<line x1="92.8" y1="1686.6" x2="92.8" y2="1977.9" stroke="#000" stroke-width="3"/>
<line x1="84" y1="1976.4" x2="92.8" y2="1976.4" stroke="#000" stroke-width="3"/>
<text x="70.7" y="1984.2" font-size="24.5" text-anchor="end" stroke="#000" stroke-width="0.28">0</text>
<line x1="84" y1="1928.35" x2="92.8" y2="1928.35" stroke="#000" stroke-width="3"/>
<text x="70.7" y="1936.15" font-size="24.5" text-anchor="end" stroke="#000" stroke-width="0.28">3</text>
<line x1="84" y1="1880.3" x2="92.8" y2="1880.3" stroke="#000" stroke-width="3"/>
<text x="70.7" y="1888.1" font-size="24.5" text-anchor="end" stroke="#000" stroke-width="0.28">6</text>
<line x1="84" y1="1832.25" x2="92.8" y2="1832.25" stroke="#000" stroke-width="3"/>
<text x="70.7" y="1840.05" font-size="24.5" text-anchor="end" stroke="#000" stroke-width="0.28">9</text>
<line x1="84" y1="1784.2" x2="92.8" y2="1784.2" stroke="#000" stroke-width="3"/>
<text x="70.7" y="1792" font-size="24.5" text-anchor="end" stroke="#000" stroke-width="0.28">12</text>
<line x1="84" y1="1736.15" x2="92.8" y2="1736.15" stroke="#000" stroke-width="3"/>
<text x="70.7" y="1743.95" font-size="24.5" text-anchor="end" stroke="#000" stroke-width="0.28">15</text>
<line x1="84" y1="1688.1" x2="92.8" y2="1688.1" stroke="#000" stroke-width="3"/>
<text x="70.7" y="1695.9" font-size="24.5" text-anchor="end" stroke="#000" stroke-width="0.28">18</text>
<line x1="84" y1="1976.4" x2="526.25" y2="1976.4" stroke="#000" stroke-width="3"/>
<line x1="112.7" y1="1976.4" x2="112.7" y2="1985.2" stroke="#000" stroke-width="3"/>
<line x1="195.15" y1="1976.4" x2="195.15" y2="1985.2" stroke="#000" stroke-width="3"/>
<line x1="277.6" y1="1976.4" x2="277.6" y2="1985.2" stroke="#000" stroke-width="3"/>
<line x1="360.05" y1="1976.4" x2="360.05" y2="1985.2" stroke="#000" stroke-width="3"/>
<line x1="442.5" y1="1976.4" x2="442.5" y2="1985.2" stroke="#000" stroke-width="3"/>
<line x1="524.95" y1="1976.4" x2="524.95" y2="1985.2" stroke="#000" stroke-width="3"/>
<text x="112.7" y="2016.2" font-size="24.5" text-anchor="middle" stroke="#000" stroke-width="0.28">0</text>
<text x="195.15" y="2016.2" font-size="24.5" text-anchor="middle" stroke="#000" stroke-width="0.28">20</text>
<text x="277.6" y="2016.2" font-size="24.5" text-anchor="middle" stroke="#000" stroke-width="0.28">40</text>
<text x="360.05" y="2016.2" font-size="24.5" text-anchor="middle" stroke="#000" stroke-width="0.28">60</text>
<text x="442.5" y="2016.2" font-size="24.5" text-anchor="middle" stroke="#000" stroke-width="0.28">80</text>
<text x="524.95" y="2016.2" font-size="24.5" text-anchor="middle" stroke="#000" stroke-width="0.28">100</text>
<text x="308.8" y="2045.3" font-size="25" text-anchor="middle" stroke="#000" stroke-width="0.28">Time (min)</text>
<text x="21" y="1832.25" font-size="25" text-anchor="middle" transform="rotate(-90 21 1832.25)" stroke="#000" stroke-width="0.28">Blood glucose (mM)</text>
<g stroke-linecap="round">
<polyline points="112.7,1852.7 195.15,1767.64 277.6,1806.43 360.05,1827.76 483.73,1849.5" fill="none" stroke="#3d9cff" stroke-width="3" stroke-dasharray="6 8.4"/>
</g>
<polyline points="112.7,1845.77 195.15,1739.1 277.6,1766.81 360.05,1806.98 483.73,1848.9" fill="none" stroke="#3d9cff" stroke-width="3"/>
<line x1="195.15" y1="1756" x2="195.15" y2="1778.72" stroke="#000" stroke-width="2.5"/>
<line x1="190.4" y1="1756" x2="199.9" y2="1756" stroke="#000" stroke-width="2.5"/>
<line x1="190.4" y1="1778.72" x2="199.9" y2="1778.72" stroke="#000" stroke-width="2.5"/>
<line x1="277.6" y1="1802.27" x2="277.6" y2="1811.14" stroke="#000" stroke-width="2.5"/>
<line x1="272.85" y1="1802.27" x2="282.35" y2="1802.27" stroke="#000" stroke-width="2.5"/>
<line x1="272.85" y1="1811.14" x2="282.35" y2="1811.14" stroke="#000" stroke-width="2.5"/>
<line x1="195.15" y1="1729.68" x2="195.15" y2="1748.24" stroke="#000" stroke-width="2.5"/>
<line x1="190.4" y1="1729.68" x2="199.9" y2="1729.68" stroke="#000" stroke-width="2.5"/>
<line x1="190.4" y1="1748.24" x2="199.9" y2="1748.24" stroke="#000" stroke-width="2.5"/>
<line x1="277.6" y1="1756.55" x2="277.6" y2="1776.5" stroke="#000" stroke-width="2.5"/>
<line x1="272.85" y1="1756.55" x2="282.35" y2="1756.55" stroke="#000" stroke-width="2.5"/>
<line x1="272.85" y1="1776.5" x2="282.35" y2="1776.5" stroke="#000" stroke-width="2.5"/>
<line x1="360.05" y1="1797.56" x2="360.05" y2="1816.68" stroke="#000" stroke-width="2.5"/>
<line x1="355.3" y1="1797.56" x2="364.8" y2="1797.56" stroke="#000" stroke-width="2.5"/>
<line x1="355.3" y1="1816.68" x2="364.8" y2="1816.68" stroke="#000" stroke-width="2.5"/>
<rect x="108.8" y="1848.8" width="7.8" height="7.8" fill="#fff" stroke="#000" stroke-width="2.6"/>
<rect x="191.25" y="1763.74" width="7.8" height="7.8" fill="#fff" stroke="#000" stroke-width="2.6"/>
<rect x="273.7" y="1802.53" width="7.8" height="7.8" fill="#fff" stroke="#000" stroke-width="2.6"/>
<rect x="356.15" y="1823.86" width="7.8" height="7.8" fill="#fff" stroke="#000" stroke-width="2.6"/>
<rect x="479.83" y="1845.6" width="7.8" height="7.8" fill="#fff" stroke="#000" stroke-width="2.6"/>
<circle cx="112.7" cy="1845.77" r="4.2" fill="#fff" stroke="#000" stroke-width="2.6"/>
<circle cx="195.15" cy="1739.1" r="4.2" fill="#fff" stroke="#000" stroke-width="2.6"/>
<circle cx="277.6" cy="1766.81" r="4.2" fill="#fff" stroke="#000" stroke-width="2.6"/>
<circle cx="360.05" cy="1806.98" r="4.2" fill="#fff" stroke="#000" stroke-width="2.6"/>
<circle cx="483.73" cy="1848.9" r="4.2" fill="#fff" stroke="#000" stroke-width="2.6"/>
<text x="194.3" y="1714" font-size="34" text-anchor="middle" stroke="#000" stroke-width="0.45">*</text>
<text x="285.3" y="1739" font-size="34" text-anchor="middle" stroke="#000" stroke-width="0.45" letter-spacing="4">***</text>
<text x="659" y="1650.8" font-size="21" text-anchor="middle" stroke="#000" stroke-width="0.28">iAUC</text>
<line x1="555.7" y1="1673.3" x2="555.7" y2="1882.6" stroke="#000" stroke-width="2"/>
<line x1="548.7" y1="1881.6" x2="555.7" y2="1881.6" stroke="#000" stroke-width="2"/>
<text x="541" y="1887" font-size="16.7" text-anchor="end" stroke="#000" stroke-width="0.28">0</text>
<line x1="548.7" y1="1829.77" x2="555.7" y2="1829.77" stroke="#000" stroke-width="2"/>
<text x="541" y="1835.17" font-size="16.7" text-anchor="end" stroke="#000" stroke-width="0.28">20</text>
<line x1="548.7" y1="1777.95" x2="555.7" y2="1777.95" stroke="#000" stroke-width="2"/>
<text x="541" y="1783.35" font-size="16.7" text-anchor="end" stroke="#000" stroke-width="0.28">40</text>
<line x1="548.7" y1="1726.12" x2="555.7" y2="1726.12" stroke="#000" stroke-width="2"/>
<text x="541" y="1731.53" font-size="16.7" text-anchor="end" stroke="#000" stroke-width="0.28">60</text>
<line x1="548.7" y1="1674.3" x2="555.7" y2="1674.3" stroke="#000" stroke-width="2"/>
<text x="541" y="1679.7" font-size="16.7" text-anchor="end" stroke="#000" stroke-width="0.28">80</text>
<line x1="548.7" y1="1881.6" x2="763.2" y2="1881.6" stroke="#000" stroke-width="2"/>
<text x="506" y="1777.95" font-size="15.4" text-anchor="middle" transform="rotate(-90 506 1777.95)" stroke="#000" stroke-width="0.28">AU</text>
<line x1="614.35" y1="1881.6" x2="614.35" y2="1888.6" stroke="#000" stroke-width="2"/>
<rect x="586.65" y="1791.65" width="55.4" height="89.95" fill="#3d9cff"/>
<polyline points="586.65,1882.6 586.65,1791.65 642.05,1791.65 642.05,1882.6" fill="none" stroke="#000" stroke-width="2.9" stroke-linejoin="miter"/>
<line x1="614.35" y1="1782.3" x2="614.35" y2="1791.2" stroke="#000" stroke-width="2"/>
<line x1="599.35" y1="1782.3" x2="629.35" y2="1782.3" stroke="#000" stroke-width="2"/>
<text x="614.35" y="1909.4" font-size="16.6" text-anchor="middle" stroke="#000" stroke-width="0.28">22 °C, UT</text>
<line x1="703.25" y1="1881.6" x2="703.25" y2="1888.6" stroke="#000" stroke-width="2"/>
<rect x="675.35" y="1817.65" width="55.8" height="63.95" fill="url(#h7)"/>
<polyline points="675.35,1882.6 675.35,1817.65 731.15,1817.65 731.15,1882.6" fill="none" stroke="#000" stroke-width="2.9" stroke-linejoin="miter"/>
<line x1="703.25" y1="1810" x2="703.25" y2="1817.2" stroke="#000" stroke-width="2"/>
<line x1="688.25" y1="1810" x2="718.25" y2="1810" stroke="#000" stroke-width="2"/>
<text x="703.25" y="1909.4" font-size="16.6" text-anchor="middle" stroke="#000" stroke-width="0.28">22 °C, ET</text>
<text x="702" y="1761.5" font-size="28" text-anchor="middle" stroke="#000" stroke-width="0.45">*</text>
<circle cx="610.25" cy="1757.89" r="3.4" fill="#fff" stroke="#000" stroke-width="2.1"/>
<circle cx="618.45" cy="1761.43" r="3.4" fill="#fff" stroke="#000" stroke-width="2.1"/>
<circle cx="614.46" cy="1779.61" r="3.4" fill="#fff" stroke="#000" stroke-width="2.1"/>
<circle cx="610.25" cy="1786.26" r="3.4" fill="#fff" stroke="#000" stroke-width="2.1"/>
<circle cx="618.45" cy="1792.25" r="3.4" fill="#fff" stroke="#000" stroke-width="2.1"/>
<circle cx="614.46" cy="1808.43" r="3.4" fill="#fff" stroke="#000" stroke-width="2.1"/>
<circle cx="610.25" cy="1815.74" r="3.4" fill="#fff" stroke="#000" stroke-width="2.1"/>
<circle cx="618.45" cy="1822.17" r="3.4" fill="#fff" stroke="#000" stroke-width="2.1"/>
<rect x="691.83" y="1789.81" width="6.2" height="6.2" fill="#fff" stroke="#000" stroke-width="2.1"/>
<rect x="700.03" y="1790.25" width="6.2" height="6.2" fill="#fff" stroke="#000" stroke-width="2.1"/>
<rect x="708.02" y="1792.47" width="6.2" height="6.2" fill="#fff" stroke="#000" stroke-width="2.1"/>
<rect x="700.03" y="1803.78" width="6.2" height="6.2" fill="#fff" stroke="#000" stroke-width="2.1"/>
<rect x="708.02" y="1807.1" width="6.2" height="6.2" fill="#fff" stroke="#000" stroke-width="2.1"/>
<rect x="691.83" y="1812.42" width="6.2" height="6.2" fill="#fff" stroke="#000" stroke-width="2.1"/>
<rect x="700.03" y="1814.64" width="6.2" height="6.2" fill="#fff" stroke="#000" stroke-width="2.1"/>
<rect x="695.6" y="1836.81" width="6.2" height="6.2" fill="#fff" stroke="#000" stroke-width="2.1"/>
<rect x="704.47" y="1838.14" width="6.2" height="6.2" fill="#fff" stroke="#000" stroke-width="2.1"/>
<rect x="700.03" y="1850.77" width="6.2" height="6.2" fill="#fff" stroke="#000" stroke-width="2.1"/>
<text x="860.6" y="1633.3" font-size="41" font-weight="bold">i</text>
<text x="1155" y="1650.6" font-size="25" text-anchor="middle" stroke="#000" stroke-width="0.28">Glucose tolerance test</text>
<line x1="938.4" y1="1686.6" x2="938.4" y2="1978.5" stroke="#000" stroke-width="3"/>
<line x1="929.6" y1="1977" x2="938.4" y2="1977" stroke="#000" stroke-width="3"/>
<text x="927" y="1985.3" font-size="23.2" text-anchor="end" stroke="#000" stroke-width="0.28">0</text>
<line x1="929.6" y1="1928.85" x2="938.4" y2="1928.85" stroke="#000" stroke-width="3"/>
<text x="927" y="1937.15" font-size="23.2" text-anchor="end" stroke="#000" stroke-width="0.28">3</text>
<line x1="929.6" y1="1880.7" x2="938.4" y2="1880.7" stroke="#000" stroke-width="3"/>
<text x="927" y="1889" font-size="23.2" text-anchor="end" stroke="#000" stroke-width="0.28">6</text>
<line x1="929.6" y1="1832.55" x2="938.4" y2="1832.55" stroke="#000" stroke-width="3"/>
<text x="927" y="1840.85" font-size="23.2" text-anchor="end" stroke="#000" stroke-width="0.28">9</text>
<line x1="929.6" y1="1784.4" x2="938.4" y2="1784.4" stroke="#000" stroke-width="3"/>
<text x="927" y="1792.7" font-size="23.2" text-anchor="end" stroke="#000" stroke-width="0.28">12</text>
<line x1="929.6" y1="1736.25" x2="938.4" y2="1736.25" stroke="#000" stroke-width="3"/>
<text x="927" y="1744.55" font-size="23.2" text-anchor="end" stroke="#000" stroke-width="0.28">15</text>
<line x1="929.6" y1="1688.1" x2="938.4" y2="1688.1" stroke="#000" stroke-width="3"/>
<text x="927" y="1696.4" font-size="23.2" text-anchor="end" stroke="#000" stroke-width="0.28">18</text>
<line x1="929.6" y1="1977" x2="1372.15" y2="1977" stroke="#000" stroke-width="3"/>
<line x1="958.6" y1="1977" x2="958.6" y2="1985.8" stroke="#000" stroke-width="3"/>
<line x1="1041.05" y1="1977" x2="1041.05" y2="1985.8" stroke="#000" stroke-width="3"/>
<line x1="1123.5" y1="1977" x2="1123.5" y2="1985.8" stroke="#000" stroke-width="3"/>
<line x1="1205.95" y1="1977" x2="1205.95" y2="1985.8" stroke="#000" stroke-width="3"/>
<line x1="1288.4" y1="1977" x2="1288.4" y2="1985.8" stroke="#000" stroke-width="3"/>
<line x1="1370.85" y1="1977" x2="1370.85" y2="1985.8" stroke="#000" stroke-width="3"/>
<text x="958.6" y="2014" font-size="23.2" text-anchor="middle" stroke="#000" stroke-width="0.28">0</text>
<text x="1041.05" y="2014" font-size="23.2" text-anchor="middle" stroke="#000" stroke-width="0.28">20</text>
<text x="1123.5" y="2014" font-size="23.2" text-anchor="middle" stroke="#000" stroke-width="0.28">40</text>
<text x="1205.95" y="2014" font-size="23.2" text-anchor="middle" stroke="#000" stroke-width="0.28">60</text>
<text x="1288.4" y="2014" font-size="23.2" text-anchor="middle" stroke="#000" stroke-width="0.28">80</text>
<text x="1370.85" y="2014" font-size="23.2" text-anchor="middle" stroke="#000" stroke-width="0.28">100</text>
<text x="1150.7" y="2054" font-size="24.2" text-anchor="middle" stroke="#000" stroke-width="0.28">Time (min)</text>
<text x="882.5" y="1832.55" font-size="24.2" text-anchor="middle" transform="rotate(-90 882.5 1832.55)" stroke="#000" stroke-width="0.28">Blood glucose (mM)</text>
<g stroke-linecap="round">
<polyline points="958.6,1873.8 1041.05,1803.66 1123.5,1845.22 1205.95,1838.85 1329.62,1863" fill="none" stroke="#ff0000" stroke-width="3" stroke-dasharray="6 8.4"/>
</g>
<polyline points="958.6,1880.5 1041.05,1786.2 1123.5,1847.44 1205.95,1836.35 1329.62,1862" fill="none" stroke="#ff0000" stroke-width="3"/>
<line x1="1041.05" y1="1791.19" x2="1041.05" y2="1818.34" stroke="#000" stroke-width="2.5"/>
<line x1="1036.3" y1="1791.19" x2="1045.8" y2="1791.19" stroke="#000" stroke-width="2.5"/>
<line x1="1036.3" y1="1818.34" x2="1045.8" y2="1818.34" stroke="#000" stroke-width="2.5"/>
<line x1="1123.5" y1="1838.29" x2="1123.5" y2="1850.76" stroke="#000" stroke-width="2.5"/>
<line x1="1118.75" y1="1838.29" x2="1128.25" y2="1838.29" stroke="#000" stroke-width="2.5"/>
<line x1="1118.75" y1="1850.76" x2="1128.25" y2="1850.76" stroke="#000" stroke-width="2.5"/>
<line x1="1205.95" y1="1834.14" x2="1205.95" y2="1845.22" stroke="#000" stroke-width="2.5"/>
<line x1="1201.2" y1="1834.14" x2="1210.7" y2="1834.14" stroke="#000" stroke-width="2.5"/>
<line x1="1201.2" y1="1845.22" x2="1210.7" y2="1845.22" stroke="#000" stroke-width="2.5"/>
<line x1="1041.05" y1="1769.02" x2="1041.05" y2="1803.66" stroke="#000" stroke-width="2.5"/>
<line x1="1036.3" y1="1769.02" x2="1045.8" y2="1769.02" stroke="#000" stroke-width="2.5"/>
<line x1="1036.3" y1="1803.66" x2="1045.8" y2="1803.66" stroke="#000" stroke-width="2.5"/>
<line x1="1123.5" y1="1840.51" x2="1123.5" y2="1852.7" stroke="#000" stroke-width="2.5"/>
<line x1="1118.75" y1="1840.51" x2="1128.25" y2="1840.51" stroke="#000" stroke-width="2.5"/>
<line x1="1118.75" y1="1852.7" x2="1128.25" y2="1852.7" stroke="#000" stroke-width="2.5"/>
<line x1="1205.95" y1="1830.53" x2="1205.95" y2="1843.83" stroke="#000" stroke-width="2.5"/>
<line x1="1201.2" y1="1830.53" x2="1210.7" y2="1830.53" stroke="#000" stroke-width="2.5"/>
<line x1="1201.2" y1="1843.83" x2="1210.7" y2="1843.83" stroke="#000" stroke-width="2.5"/>
<polygon points="954.3,1873.8 958.6,1869.07 962.9,1873.8 958.6,1878.53" fill="#fff" stroke="#000" stroke-width="2.8"/>
<polygon points="1036.75,1803.66 1041.05,1798.93 1045.35,1803.66 1041.05,1808.39" fill="#fff" stroke="#000" stroke-width="2.8"/>
<polygon points="1119.2,1845.22 1123.5,1840.49 1127.8,1845.22 1123.5,1849.95" fill="#fff" stroke="#000" stroke-width="2.8"/>
<polygon points="1201.65,1838.85 1205.95,1834.12 1210.25,1838.85 1205.95,1843.58" fill="#fff" stroke="#000" stroke-width="2.8"/>
<polygon points="1325.33,1863 1329.62,1858.27 1333.92,1863 1329.62,1867.73" fill="#fff" stroke="#000" stroke-width="2.8"/>
<polygon points="954.1,1876.86 963.1,1876.86 958.6,1884.95" fill="#fff" stroke="#000" stroke-width="2.8" stroke-linejoin="miter"/>
<polygon points="1036.55,1782.56 1045.55,1782.56 1041.05,1790.66" fill="#fff" stroke="#000" stroke-width="2.8" stroke-linejoin="miter"/>
<polygon points="1119,1843.79 1128,1843.79 1123.5,1851.89" fill="#fff" stroke="#000" stroke-width="2.8" stroke-linejoin="miter"/>
<polygon points="1201.45,1832.71 1210.45,1832.71 1205.95,1840.81" fill="#fff" stroke="#000" stroke-width="2.8" stroke-linejoin="miter"/>
<polygon points="1325.12,1858.36 1334.12,1858.36 1329.62,1866.45" fill="#fff" stroke="#000" stroke-width="2.8" stroke-linejoin="miter"/>
<text x="1501.3" y="1650.8" font-size="21" text-anchor="middle" stroke="#000" stroke-width="0.28">iAUC</text>
<line x1="1398" y1="1673.3" x2="1398" y2="1882.6" stroke="#000" stroke-width="2"/>
<line x1="1391" y1="1881.6" x2="1398" y2="1881.6" stroke="#000" stroke-width="2"/>
<text x="1383.2" y="1887" font-size="16.7" text-anchor="end" stroke="#000" stroke-width="0.28">0</text>
<line x1="1391" y1="1829.77" x2="1398" y2="1829.77" stroke="#000" stroke-width="2"/>
<text x="1383.2" y="1835.17" font-size="16.7" text-anchor="end" stroke="#000" stroke-width="0.28">20</text>
<line x1="1391" y1="1777.95" x2="1398" y2="1777.95" stroke="#000" stroke-width="2"/>
<text x="1383.2" y="1783.35" font-size="16.7" text-anchor="end" stroke="#000" stroke-width="0.28">40</text>
<line x1="1391" y1="1726.12" x2="1398" y2="1726.12" stroke="#000" stroke-width="2"/>
<text x="1383.2" y="1731.53" font-size="16.7" text-anchor="end" stroke="#000" stroke-width="0.28">60</text>
<line x1="1391" y1="1674.3" x2="1398" y2="1674.3" stroke="#000" stroke-width="2"/>
<text x="1383.2" y="1679.7" font-size="16.7" text-anchor="end" stroke="#000" stroke-width="0.28">80</text>
<line x1="1391" y1="1881.6" x2="1606" y2="1881.6" stroke="#000" stroke-width="2"/>
<text x="1349.5" y="1777.95" font-size="15.4" text-anchor="middle" transform="rotate(-90 1349.5 1777.95)" stroke="#000" stroke-width="0.28">AU</text>
<line x1="1456.8" y1="1881.6" x2="1456.8" y2="1888.6" stroke="#000" stroke-width="2"/>
<rect x="1428.85" y="1784.35" width="55.9" height="97.25" fill="#9e0000"/>
<polyline points="1428.85,1882.6 1428.85,1784.35 1484.75,1784.35 1484.75,1882.6" fill="none" stroke="#000" stroke-width="2.9" stroke-linejoin="miter"/>
<line x1="1456.8" y1="1772" x2="1456.8" y2="1783.9" stroke="#000" stroke-width="2"/>
<line x1="1441.8" y1="1772" x2="1471.8" y2="1772" stroke="#000" stroke-width="2"/>
<text x="1456.8" y="1908" font-size="16.6" text-anchor="middle" stroke="#000" stroke-width="0.28">30 °C, UT</text>
<line x1="1545.5" y1="1881.6" x2="1545.5" y2="1888.6" stroke="#000" stroke-width="2"/>
<rect x="1517.55" y="1793.25" width="55.9" height="88.35" fill="url(#h8)"/>
<polyline points="1517.55,1882.6 1517.55,1793.25 1573.45,1793.25 1573.45,1882.6" fill="none" stroke="#000" stroke-width="2.9" stroke-linejoin="miter"/>
<line x1="1545.5" y1="1775.2" x2="1545.5" y2="1792.8" stroke="#000" stroke-width="2"/>
<line x1="1530.5" y1="1775.2" x2="1560.5" y2="1775.2" stroke="#000" stroke-width="2"/>
<text x="1545.5" y="1908" font-size="16.6" text-anchor="middle" stroke="#000" stroke-width="0.28">30 °C, ET</text>
<circle cx="1456.7" cy="1726.41" r="3.4" fill="#fff" stroke="#000" stroke-width="2.1"/>
<circle cx="1456.7" cy="1744.14" r="3.4" fill="#fff" stroke="#000" stroke-width="2.1"/>
<circle cx="1460.69" cy="1766.97" r="3.4" fill="#fff" stroke="#000" stroke-width="2.1"/>
<circle cx="1452.94" cy="1774.07" r="3.4" fill="#fff" stroke="#000" stroke-width="2.1"/>
<circle cx="1452.94" cy="1791.8" r="3.4" fill="#fff" stroke="#000" stroke-width="2.1"/>
<circle cx="1460.69" cy="1796.9" r="3.4" fill="#fff" stroke="#000" stroke-width="2.1"/>
<circle cx="1452.94" cy="1809.09" r="3.4" fill="#fff" stroke="#000" stroke-width="2.1"/>
<circle cx="1460.69" cy="1811.75" r="3.4" fill="#fff" stroke="#000" stroke-width="2.1"/>
<circle cx="1456.7" cy="1822.84" r="3.4" fill="#fff" stroke="#000" stroke-width="2.1"/>
<rect x="1542.28" y="1686.73" width="6.2" height="6.2" fill="#fff" stroke="#000" stroke-width="2.1"/>
<rect x="1538.51" y="1752.57" width="6.2" height="6.2" fill="#fff" stroke="#000" stroke-width="2.1"/>
<rect x="1546.27" y="1759.44" width="6.2" height="6.2" fill="#fff" stroke="#000" stroke-width="2.1"/>
<rect x="1546.27" y="1766.53" width="6.2" height="6.2" fill="#fff" stroke="#000" stroke-width="2.1"/>
<rect x="1538.51" y="1773.63" width="6.2" height="6.2" fill="#fff" stroke="#000" stroke-width="2.1"/>
<rect x="1538.51" y="1798.23" width="6.2" height="6.2" fill="#fff" stroke="#000" stroke-width="2.1"/>
<rect x="1546.27" y="1805.99" width="6.2" height="6.2" fill="#fff" stroke="#000" stroke-width="2.1"/>
<rect x="1542.28" y="1831.26" width="6.2" height="6.2" fill="#fff" stroke="#000" stroke-width="2.1"/>
<rect x="1542.28" y="1843.46" width="6.2" height="6.2" fill="#fff" stroke="#000" stroke-width="2.1"/>
<rect x="1542.28" y="1870.28" width="6.2" height="6.2" fill="#fff" stroke="#000" stroke-width="2.1"/>
<text x="0.5" y="2113.3" font-size="41" font-weight="bold">j</text>
<text x="309" y="2144.4" font-size="25" text-anchor="middle" stroke="#000" stroke-width="0.28">Glucose tolerance test</text>
<line x1="92.8" y1="2176.3" x2="92.8" y2="2467.9" stroke="#000" stroke-width="3"/>
<line x1="84" y1="2466.4" x2="92.8" y2="2466.4" stroke="#000" stroke-width="3"/>
<text x="70.7" y="2474.2" font-size="24.5" text-anchor="end" stroke="#000" stroke-width="0.28">0</text>
<line x1="84" y1="2418.3" x2="92.8" y2="2418.3" stroke="#000" stroke-width="3"/>
<text x="70.7" y="2426.1" font-size="24.5" text-anchor="end" stroke="#000" stroke-width="0.28">3</text>
<line x1="84" y1="2370.2" x2="92.8" y2="2370.2" stroke="#000" stroke-width="3"/>
<text x="70.7" y="2378" font-size="24.5" text-anchor="end" stroke="#000" stroke-width="0.28">6</text>
<line x1="84" y1="2322.1" x2="92.8" y2="2322.1" stroke="#000" stroke-width="3"/>
<text x="70.7" y="2329.9" font-size="24.5" text-anchor="end" stroke="#000" stroke-width="0.28">9</text>
<line x1="84" y1="2274" x2="92.8" y2="2274" stroke="#000" stroke-width="3"/>
<text x="70.7" y="2281.8" font-size="24.5" text-anchor="end" stroke="#000" stroke-width="0.28">12</text>
<line x1="84" y1="2225.9" x2="92.8" y2="2225.9" stroke="#000" stroke-width="3"/>
<text x="70.7" y="2233.7" font-size="24.5" text-anchor="end" stroke="#000" stroke-width="0.28">15</text>
<line x1="84" y1="2177.8" x2="92.8" y2="2177.8" stroke="#000" stroke-width="3"/>
<text x="70.7" y="2185.6" font-size="24.5" text-anchor="end" stroke="#000" stroke-width="0.28">18</text>
<line x1="84" y1="2466.4" x2="526.25" y2="2466.4" stroke="#000" stroke-width="3"/>
<line x1="112.7" y1="2466.4" x2="112.7" y2="2475.2" stroke="#000" stroke-width="3"/>
<line x1="195.15" y1="2466.4" x2="195.15" y2="2475.2" stroke="#000" stroke-width="3"/>
<line x1="277.6" y1="2466.4" x2="277.6" y2="2475.2" stroke="#000" stroke-width="3"/>
<line x1="360.05" y1="2466.4" x2="360.05" y2="2475.2" stroke="#000" stroke-width="3"/>
<line x1="442.5" y1="2466.4" x2="442.5" y2="2475.2" stroke="#000" stroke-width="3"/>
<line x1="524.95" y1="2466.4" x2="524.95" y2="2475.2" stroke="#000" stroke-width="3"/>
<text x="112.7" y="2505.3" font-size="24.5" text-anchor="middle" stroke="#000" stroke-width="0.28">0</text>
<text x="195.15" y="2505.3" font-size="24.5" text-anchor="middle" stroke="#000" stroke-width="0.28">20</text>
<text x="277.6" y="2505.3" font-size="24.5" text-anchor="middle" stroke="#000" stroke-width="0.28">40</text>
<text x="360.05" y="2505.3" font-size="24.5" text-anchor="middle" stroke="#000" stroke-width="0.28">60</text>
<text x="442.5" y="2505.3" font-size="24.5" text-anchor="middle" stroke="#000" stroke-width="0.28">80</text>
<text x="524.95" y="2505.3" font-size="24.5" text-anchor="middle" stroke="#000" stroke-width="0.28">100</text>
<text x="308.8" y="2545.3" font-size="25" text-anchor="middle" stroke="#000" stroke-width="0.28">Time (min)</text>
<text x="21" y="2322.1" font-size="25" text-anchor="middle" transform="rotate(-90 21 2322.1)" stroke="#000" stroke-width="0.28">Blood glucose (mM)</text>
<g stroke-linecap="round">
<polyline points="112.7,2368.5 195.15,2240.16 277.6,2275.34 360.05,2291.97 483.73,2334.5" fill="none" stroke="#118011" stroke-width="3" stroke-dasharray="6 8.4"/>
</g>
<polyline points="112.7,2362.5 195.15,2238.77 277.6,2274.79 360.05,2280.89 483.73,2332.3" fill="none" stroke="#118011" stroke-width="3"/>
<line x1="195.15" y1="2231.01" x2="195.15" y2="2251.24" stroke="#000" stroke-width="2.5"/>
<line x1="190.4" y1="2231.01" x2="199.9" y2="2231.01" stroke="#000" stroke-width="2.5"/>
<line x1="190.4" y1="2251.24" x2="199.9" y2="2251.24" stroke="#000" stroke-width="2.5"/>
<line x1="277.6" y1="2262.88" x2="277.6" y2="2286.43" stroke="#000" stroke-width="2.5"/>
<line x1="272.85" y1="2262.88" x2="282.35" y2="2262.88" stroke="#000" stroke-width="2.5"/>
<line x1="272.85" y1="2286.43" x2="282.35" y2="2286.43" stroke="#000" stroke-width="2.5"/>
<line x1="360.05" y1="2283.66" x2="360.05" y2="2301.11" stroke="#000" stroke-width="2.5"/>
<line x1="355.3" y1="2283.66" x2="364.8" y2="2283.66" stroke="#000" stroke-width="2.5"/>
<line x1="355.3" y1="2301.11" x2="364.8" y2="2301.11" stroke="#000" stroke-width="2.5"/>
<line x1="195.15" y1="2228.24" x2="195.15" y2="2249.58" stroke="#000" stroke-width="2.5"/>
<line x1="190.4" y1="2228.24" x2="199.9" y2="2228.24" stroke="#000" stroke-width="2.5"/>
<line x1="190.4" y1="2249.58" x2="199.9" y2="2249.58" stroke="#000" stroke-width="2.5"/>
<line x1="277.6" y1="2258.72" x2="277.6" y2="2291.14" stroke="#000" stroke-width="2.5"/>
<line x1="272.85" y1="2258.72" x2="282.35" y2="2258.72" stroke="#000" stroke-width="2.5"/>
<line x1="272.85" y1="2291.14" x2="282.35" y2="2291.14" stroke="#000" stroke-width="2.5"/>
<line x1="360.05" y1="2269.8" x2="360.05" y2="2291.97" stroke="#000" stroke-width="2.5"/>
<line x1="355.3" y1="2269.8" x2="364.8" y2="2269.8" stroke="#000" stroke-width="2.5"/>
<line x1="355.3" y1="2291.97" x2="364.8" y2="2291.97" stroke="#000" stroke-width="2.5"/>
<rect x="108.8" y="2364.6" width="7.8" height="7.8" fill="#fff" stroke="#000" stroke-width="2.6"/>
<rect x="191.25" y="2236.26" width="7.8" height="7.8" fill="#fff" stroke="#000" stroke-width="2.6"/>
<rect x="273.7" y="2271.44" width="7.8" height="7.8" fill="#fff" stroke="#000" stroke-width="2.6"/>
<rect x="356.15" y="2288.07" width="7.8" height="7.8" fill="#fff" stroke="#000" stroke-width="2.6"/>
<rect x="479.83" y="2330.6" width="7.8" height="7.8" fill="#fff" stroke="#000" stroke-width="2.6"/>
<circle cx="112.7" cy="2362.5" r="4.2" fill="#fff" stroke="#000" stroke-width="2.6"/>
<circle cx="195.15" cy="2238.77" r="4.2" fill="#fff" stroke="#000" stroke-width="2.6"/>
<circle cx="277.6" cy="2274.79" r="4.2" fill="#fff" stroke="#000" stroke-width="2.6"/>
<circle cx="360.05" cy="2280.89" r="4.2" fill="#fff" stroke="#000" stroke-width="2.6"/>
<circle cx="483.73" cy="2332.3" r="4.2" fill="#fff" stroke="#000" stroke-width="2.6"/>
<text x="663.2" y="2144.6" font-size="21" text-anchor="middle" stroke="#000" stroke-width="0.28">iAUC</text>
<line x1="568.1" y1="2168.4" x2="568.1" y2="2377.7" stroke="#000" stroke-width="2"/>
<line x1="561.1" y1="2376.7" x2="568.1" y2="2376.7" stroke="#000" stroke-width="2"/>
<text x="553.2" y="2382.1" font-size="16.7" text-anchor="end" stroke="#000" stroke-width="0.28">0</text>
<line x1="561.1" y1="2307.6" x2="568.1" y2="2307.6" stroke="#000" stroke-width="2"/>
<text x="553.2" y="2313" font-size="16.7" text-anchor="end" stroke="#000" stroke-width="0.28">50</text>
<line x1="561.1" y1="2238.5" x2="568.1" y2="2238.5" stroke="#000" stroke-width="2"/>
<text x="553.2" y="2243.9" font-size="16.7" text-anchor="end" stroke="#000" stroke-width="0.28">100</text>
<line x1="561.1" y1="2169.4" x2="568.1" y2="2169.4" stroke="#000" stroke-width="2"/>
<text x="553.2" y="2174.8" font-size="16.7" text-anchor="end" stroke="#000" stroke-width="0.28">150</text>
<line x1="561.1" y1="2376.7" x2="759.2" y2="2376.7" stroke="#000" stroke-width="2"/>
<text x="513.3" y="2273.05" font-size="15.4" text-anchor="middle" transform="rotate(-90 513.3 2273.05)" stroke="#000" stroke-width="0.28">AU</text>
<line x1="627.2" y1="2376.7" x2="627.2" y2="2383.7" stroke="#000" stroke-width="2"/>
<rect x="599.25" y="2291.45" width="55.9" height="85.25" fill="#008000"/>
<polyline points="599.25,2377.7 599.25,2291.45 655.15,2291.45 655.15,2377.7" fill="none" stroke="#000" stroke-width="2.9" stroke-linejoin="miter"/>
<line x1="627.2" y1="2280.7" x2="627.2" y2="2291" stroke="#000" stroke-width="2"/>
<line x1="612.2" y1="2280.7" x2="642.2" y2="2280.7" stroke="#000" stroke-width="2"/>
<text x="632.5" y="2401" font-size="16.6" text-anchor="end" transform="rotate(-30.5 632.5 2401)" stroke="#000" stroke-width="0.28">22 °C, UT</text>
<line x1="715.65" y1="2376.7" x2="715.65" y2="2383.7" stroke="#000" stroke-width="2"/>
<rect x="687.45" y="2282.15" width="56.4" height="94.55" fill="url(#h9)"/>
<polyline points="687.45,2377.7 687.45,2282.15 743.85,2282.15 743.85,2377.7" fill="none" stroke="#000" stroke-width="2.9" stroke-linejoin="miter"/>
<line x1="715.65" y1="2267.8" x2="715.65" y2="2281.7" stroke="#000" stroke-width="2"/>
<line x1="700.65" y1="2267.8" x2="730.65" y2="2267.8" stroke="#000" stroke-width="2"/>
<text x="722" y="2401" font-size="16.6" text-anchor="end" transform="rotate(-30.5 722 2401)" stroke="#000" stroke-width="0.28">Paired 22 °C, ET</text>
<polygon points="622.88,2230.29 630.88,2230.29 626.88,2223.09" fill="#fff" stroke="#000" stroke-width="2.2" stroke-linejoin="miter"/>
<polygon points="622.88,2275.07 630.88,2275.07 626.88,2267.87" fill="#fff" stroke="#000" stroke-width="2.2" stroke-linejoin="miter"/>
<polygon points="622.88,2285.04 630.88,2285.04 626.88,2277.84" fill="#fff" stroke="#000" stroke-width="2.2" stroke-linejoin="miter"/>
<polygon points="603.37,2291.03 611.37,2291.03 607.37,2283.83" fill="#fff" stroke="#000" stroke-width="2.2" stroke-linejoin="miter"/>
<polygon points="642.61,2285.49 650.61,2285.49 646.61,2278.29" fill="#fff" stroke="#000" stroke-width="2.2" stroke-linejoin="miter"/>
<polygon points="612.9,2302.78 620.9,2302.78 616.9,2295.58" fill="#fff" stroke="#000" stroke-width="2.2" stroke-linejoin="miter"/>
<polygon points="603.37,2313.42 611.37,2313.42 607.37,2306.22" fill="#fff" stroke="#000" stroke-width="2.2" stroke-linejoin="miter"/>
<polygon points="622.88,2314.97 630.88,2314.97 626.88,2307.77" fill="#fff" stroke="#000" stroke-width="2.2" stroke-linejoin="miter"/>
<polygon points="632.85,2309.87 640.85,2309.87 636.85,2302.67" fill="#fff" stroke="#000" stroke-width="2.2" stroke-linejoin="miter"/>
<polygon points="642.61,2326.05 650.61,2326.05 646.61,2318.85" fill="#fff" stroke="#000" stroke-width="2.2" stroke-linejoin="miter"/>
<polygon points="711.55,2190.83 719.55,2190.83 715.55,2183.63" fill="#fff" stroke="#000" stroke-width="2.2" stroke-linejoin="miter"/>
<polygon points="697.14,2266.2 705.14,2266.2 701.14,2259" fill="#fff" stroke="#000" stroke-width="2.2" stroke-linejoin="miter"/>
<polygon points="711.55,2266.64 719.55,2266.64 715.55,2259.44" fill="#fff" stroke="#000" stroke-width="2.2" stroke-linejoin="miter"/>
<polygon points="726.4,2272.41 734.4,2272.41 730.4,2265.21" fill="#fff" stroke="#000" stroke-width="2.2" stroke-linejoin="miter"/>
<polygon points="711.55,2289.48 719.55,2289.48 715.55,2282.28" fill="#fff" stroke="#000" stroke-width="2.2" stroke-linejoin="miter"/>
<polygon points="689.82,2302.11 697.82,2302.11 693.82,2294.91" fill="#fff" stroke="#000" stroke-width="2.2" stroke-linejoin="miter"/>
<polygon points="704.68,2304.55 712.68,2304.55 708.68,2297.35" fill="#fff" stroke="#000" stroke-width="2.2" stroke-linejoin="miter"/>
<polygon points="719.31,2305.66 727.31,2305.66 723.31,2298.46" fill="#fff" stroke="#000" stroke-width="2.2" stroke-linejoin="miter"/>
<polygon points="733.72,2309.87 741.72,2309.87 737.72,2302.67" fill="#fff" stroke="#000" stroke-width="2.2" stroke-linejoin="miter"/>
<polygon points="711.55,2336.69 719.55,2336.69 715.55,2329.49" fill="#fff" stroke="#000" stroke-width="2.2" stroke-linejoin="miter"/>
<text x="829" y="2113" font-size="41" font-weight="bold">k</text>
<text x="1339" y="2140.2" font-size="25" text-anchor="middle" stroke="#000" stroke-width="0.28">Plasma insulin</text>
<line x1="909.3" y1="2178.55" x2="909.3" y2="2467.9" stroke="#000" stroke-width="3"/>
<line x1="900.5" y1="2466.4" x2="909.3" y2="2466.4" stroke="#000" stroke-width="3"/>
<text x="886.5" y="2474.2" font-size="24.5" text-anchor="end" stroke="#000" stroke-width="0.28">0</text>
<line x1="900.5" y1="2370.95" x2="909.3" y2="2370.95" stroke="#000" stroke-width="3"/>
<text x="886.5" y="2378.75" font-size="24.5" text-anchor="end" stroke="#000" stroke-width="0.28">1</text>
<line x1="900.5" y1="2275.5" x2="909.3" y2="2275.5" stroke="#000" stroke-width="3"/>
<text x="886.5" y="2283.3" font-size="24.5" text-anchor="end" stroke="#000" stroke-width="0.28">2</text>
<line x1="900.5" y1="2180.05" x2="909.3" y2="2180.05" stroke="#000" stroke-width="3"/>
<text x="886.5" y="2187.85" font-size="24.5" text-anchor="end" stroke="#000" stroke-width="0.28">3</text>
<line x1="900.5" y1="2466.4" x2="1770" y2="2466.4" stroke="#000" stroke-width="3"/>
<line x1="944.69" y1="2466.4" x2="944.69" y2="2475.2" stroke="#000" stroke-width="3"/>
<line x1="1000.11" y1="2466.4" x2="1000.11" y2="2475.2" stroke="#000" stroke-width="3"/>
<line x1="1090.94" y1="2466.4" x2="1090.94" y2="2475.2" stroke="#000" stroke-width="3"/>
<line x1="1146.35" y1="2466.4" x2="1146.35" y2="2475.2" stroke="#000" stroke-width="3"/>
<line x1="1237.18" y1="2466.4" x2="1237.18" y2="2475.2" stroke="#000" stroke-width="3"/>
<line x1="1291.98" y1="2466.4" x2="1291.98" y2="2475.2" stroke="#000" stroke-width="3"/>
<line x1="1382.89" y1="2466.4" x2="1382.89" y2="2475.2" stroke="#000" stroke-width="3"/>
<line x1="1438.31" y1="2466.4" x2="1438.31" y2="2475.2" stroke="#000" stroke-width="3"/>
<line x1="1529.14" y1="2466.4" x2="1529.14" y2="2475.2" stroke="#000" stroke-width="3"/>
<line x1="1583.94" y1="2466.4" x2="1583.94" y2="2475.2" stroke="#000" stroke-width="3"/>
<line x1="1675.38" y1="2466.4" x2="1675.38" y2="2475.2" stroke="#000" stroke-width="3"/>
<line x1="1730.18" y1="2466.4" x2="1730.18" y2="2475.2" stroke="#000" stroke-width="3"/>
<text x="847" y="2322.5" font-size="25" text-anchor="middle" transform="rotate(-90 847 2322.5)" stroke="#000" stroke-width="0.28">ng/ml</text>
<text x="847" y="2505" font-size="25" stroke="#000" stroke-width="0.28">Min</text>
<text x="944.69" y="2505" font-size="25" text-anchor="middle" stroke="#000" stroke-width="0.28">0</text>
<text x="999.61" y="2505" font-size="25" text-anchor="middle" stroke="#000" stroke-width="0.28">20</text>
<line x1="927.76" y1="2516.3" x2="1013.35" y2="2516.3" stroke="#333" stroke-width="1.8"/>
<text x="966.24" y="2548.3" font-size="25" text-anchor="middle" stroke="#000" stroke-width="0.28">UT</text>
<text x="1090.94" y="2505" font-size="25" text-anchor="middle" stroke="#000" stroke-width="0.28">0</text>
<text x="1145.85" y="2505" font-size="25" text-anchor="middle" stroke="#000" stroke-width="0.28">20</text>
<line x1="1073.39" y1="2516.3" x2="1158.67" y2="2516.3" stroke="#333" stroke-width="1.8"/>
<text x="1110.95" y="2548.3" font-size="25" text-anchor="middle" stroke="#000" stroke-width="0.28">ET</text>
<text x="1237.18" y="2505" font-size="25" text-anchor="middle" stroke="#000" stroke-width="0.28">0</text>
<text x="1291.48" y="2505" font-size="25" text-anchor="middle" stroke="#000" stroke-width="0.28">20</text>
<line x1="1223.33" y1="2516.3" x2="1308.61" y2="2516.3" stroke="#333" stroke-width="1.8"/>
<text x="1261.81" y="2548.3" font-size="25" text-anchor="middle" stroke="#000" stroke-width="0.28">UT</text>
<text x="1382.89" y="2505" font-size="25" text-anchor="middle" stroke="#000" stroke-width="0.28">0</text>
<text x="1437.81" y="2505" font-size="25" text-anchor="middle" stroke="#000" stroke-width="0.28">20</text>
<line x1="1368.42" y1="2516.3" x2="1454.32" y2="2516.3" stroke="#333" stroke-width="1.8"/>
<text x="1406.44" y="2548.3" font-size="25" text-anchor="middle" stroke="#000" stroke-width="0.28">ET</text>
<text x="1529.14" y="2505" font-size="25" text-anchor="middle" stroke="#000" stroke-width="0.28">0</text>
<text x="1583.44" y="2505" font-size="25" text-anchor="middle" stroke="#000" stroke-width="0.28">20</text>
<line x1="1519.9" y1="2516.3" x2="1605.49" y2="2516.3" stroke="#333" stroke-width="1.8"/>
<text x="1558.38" y="2548.3" font-size="25" text-anchor="middle" stroke="#000" stroke-width="0.28">UT</text>
<text x="1675.38" y="2505" font-size="25" text-anchor="middle" stroke="#000" stroke-width="0.28">0</text>
<text x="1729.68" y="2505" font-size="25" text-anchor="middle" stroke="#000" stroke-width="0.28">20</text>
<line x1="1665.22" y1="2516.3" x2="1750.81" y2="2516.3" stroke="#333" stroke-width="1.8"/>
<text x="1703.4" y="2548.3" font-size="25" text-anchor="middle" stroke="#000" stroke-width="0.28">ET</text>
<text x="999" y="2354" font-size="32" text-anchor="middle" stroke="#000" stroke-width="0.45">$$$</text>
<text x="1143.5" y="2336.4" font-size="32" text-anchor="middle" stroke="#000" stroke-width="0.45">*</text>
<text x="1146" y="2373.2" font-size="32" text-anchor="middle" stroke="#000" stroke-width="0.45">$$$</text>
<text x="1288.02" y="2181" font-size="36" text-anchor="middle" transform="translate(1288.02 2181) skewX(-9) translate(-1288.02 -2181)" stroke="#000" stroke-width="0.5">##</text>
<text x="1292.6" y="2215.5" font-size="32" text-anchor="middle" stroke="#000" stroke-width="0.45">$$$</text>
<text x="1430.62" y="2213" font-size="36" text-anchor="middle" transform="translate(1430.62 2213) skewX(-9) translate(-1430.62 -2213)" stroke="#000" stroke-width="0.5">###</text>
<text x="1436.5" y="2246.5" font-size="32" text-anchor="middle" stroke="#000" stroke-width="0.45">$$</text>
<text x="1584" y="2370" font-size="32" text-anchor="middle" stroke="#000" stroke-width="0.45">$$$</text>
<text x="1722.8" y="2351.2" font-size="32" text-anchor="middle" stroke="#000" stroke-width="0.45" letter-spacing="3.5">***</text>
<text x="1729.3" y="2388" font-size="32" text-anchor="middle" stroke="#000" stroke-width="0.45">$$</text>
<rect x="928.59" y="2426.73" width="32.2" height="39.67" fill="#3d9cff"/>
<polyline points="928.59,2467.9 928.59,2426.73 960.79,2426.73 960.79,2467.9" fill="none" stroke="#000" stroke-width="3.8" stroke-linejoin="miter"/>
<rect x="984.01" y="2403.64" width="32.2" height="62.76" fill="#3d9cff"/>
<polyline points="984.01,2467.9 984.01,2403.64 1016.21,2403.64 1016.21,2467.9" fill="none" stroke="#000" stroke-width="3.8" stroke-linejoin="miter"/>
<rect x="1074.84" y="2430.73" width="32.2" height="35.67" fill="url(#h6)"/>
<polyline points="1074.84,2467.9 1074.84,2430.73 1107.04,2430.73 1107.04,2467.9" fill="none" stroke="#000" stroke-width="3.8" stroke-linejoin="miter"/>
<rect x="1130.25" y="2413.8" width="32.2" height="52.6" fill="url(#h6)"/>
<polyline points="1130.25,2467.9 1130.25,2413.8 1162.45,2413.8 1162.45,2467.9" fill="none" stroke="#000" stroke-width="3.8" stroke-linejoin="miter"/>
<rect x="1221.08" y="2431.35" width="32.2" height="35.05" fill="#9e0000"/>
<polyline points="1221.08,2467.9 1221.08,2431.35 1253.28,2431.35 1253.28,2467.9" fill="none" stroke="#000" stroke-width="3.8" stroke-linejoin="miter"/>
<rect x="1275.88" y="2358.99" width="32.2" height="107.41" fill="#9e0000"/>
<polyline points="1275.88,2467.9 1275.88,2358.99 1308.08,2358.99 1308.08,2467.9" fill="none" stroke="#000" stroke-width="3.8" stroke-linejoin="miter"/>
<line x1="1291.98" y1="2340.78" x2="1291.98" y2="2359.09" stroke="#000" stroke-width="2.4"/>
<line x1="1283.48" y1="2340.78" x2="1300.48" y2="2340.78" stroke="#000" stroke-width="2.4"/>
<rect x="1366.79" y="2425.19" width="32.2" height="41.21" fill="url(#h4)"/>
<polyline points="1366.79,2467.9 1366.79,2425.19 1398.99,2425.19 1398.99,2467.9" fill="none" stroke="#000" stroke-width="3.8" stroke-linejoin="miter"/>
<rect x="1422.21" y="2382.08" width="32.2" height="84.32" fill="url(#h4)"/>
<polyline points="1422.21,2467.9 1422.21,2382.08 1454.41,2382.08 1454.41,2467.9" fill="none" stroke="#000" stroke-width="3.8" stroke-linejoin="miter"/>
<line x1="1438.31" y1="2369.41" x2="1438.31" y2="2382.18" stroke="#000" stroke-width="2.4"/>
<line x1="1429.81" y1="2369.41" x2="1446.81" y2="2369.41" stroke="#000" stroke-width="2.4"/>
<rect x="1513.04" y="2431.35" width="32.2" height="35.05" fill="#008000"/>
<polyline points="1513.04,2467.9 1513.04,2431.35 1545.24,2431.35 1545.24,2467.9" fill="none" stroke="#000" stroke-width="3.8" stroke-linejoin="miter"/>
<rect x="1567.84" y="2415.95" width="32.2" height="50.45" fill="#008000"/>
<polyline points="1567.84,2467.9 1567.84,2415.95 1600.04,2415.95 1600.04,2467.9" fill="none" stroke="#000" stroke-width="3.8" stroke-linejoin="miter"/>
<rect x="1659.28" y="2431.96" width="32.2" height="34.44" fill="url(#h5)"/>
<polyline points="1659.28,2467.9 1659.28,2431.96 1691.48,2431.96 1691.48,2467.9" fill="none" stroke="#000" stroke-width="3.8" stroke-linejoin="miter"/>
<rect x="1714.08" y="2423.65" width="32.2" height="42.75" fill="url(#h5)"/>
<polyline points="1714.08,2467.9 1714.08,2423.65 1746.28,2423.65 1746.28,2467.9" fill="none" stroke="#000" stroke-width="3.8" stroke-linejoin="miter"/>
<circle cx="932.38" cy="2422.67" r="3.9" fill="#fff" stroke="#000" stroke-width="2.6"/>
<circle cx="940.07" cy="2422.67" r="3.9" fill="#fff" stroke="#000" stroke-width="2.6"/>
<circle cx="946.23" cy="2420.21" r="3.9" fill="#fff" stroke="#000" stroke-width="2.6"/>
<circle cx="954.54" cy="2420.83" r="3.9" fill="#fff" stroke="#000" stroke-width="2.6"/>
<circle cx="949.31" cy="2427.29" r="3.9" fill="#fff" stroke="#000" stroke-width="2.6"/>
<circle cx="957.62" cy="2428.52" r="3.9" fill="#fff" stroke="#000" stroke-width="2.6"/>
<circle cx="1000.11" cy="2380.8" r="3.9" fill="#fff" stroke="#000" stroke-width="2.6"/>
<circle cx="986.26" cy="2397.12" r="3.9" fill="#fff" stroke="#000" stroke-width="2.6"/>
<circle cx="1004.11" cy="2397.12" r="3.9" fill="#fff" stroke="#000" stroke-width="2.6"/>
<circle cx="1013.04" cy="2396.19" r="3.9" fill="#fff" stroke="#000" stroke-width="2.6"/>
<circle cx="995.49" cy="2402.35" r="3.9" fill="#fff" stroke="#000" stroke-width="2.6"/>
<circle cx="990.87" cy="2409.43" r="3.9" fill="#fff" stroke="#000" stroke-width="2.6"/>
<circle cx="1000.11" cy="2409.43" r="3.9" fill="#fff" stroke="#000" stroke-width="2.6"/>
<circle cx="1009.35" cy="2420.21" r="3.9" fill="#fff" stroke="#000" stroke-width="2.6"/>
<circle cx="1078" cy="2427.91" r="3.9" fill="#fff" stroke="#000" stroke-width="2.6"/>
<circle cx="1084.78" cy="2426.98" r="3.9" fill="#fff" stroke="#000" stroke-width="2.6"/>
<circle cx="1090.01" cy="2422.67" r="3.9" fill="#fff" stroke="#000" stroke-width="2.6"/>
<circle cx="1095.55" cy="2425.44" r="3.9" fill="#fff" stroke="#000" stroke-width="2.6"/>
<circle cx="1100.17" cy="2428.52" r="3.9" fill="#fff" stroke="#000" stroke-width="2.6"/>
<circle cx="1104.79" cy="2428.52" r="3.9" fill="#fff" stroke="#000" stroke-width="2.6"/>
<circle cx="1141.74" cy="2397.73" r="3.9" fill="#fff" stroke="#000" stroke-width="2.6"/>
<circle cx="1147.89" cy="2403.28" r="3.9" fill="#fff" stroke="#000" stroke-width="2.6"/>
<circle cx="1154.98" cy="2406.35" r="3.9" fill="#fff" stroke="#000" stroke-width="2.6"/>
<circle cx="1133.42" cy="2410.97" r="3.9" fill="#fff" stroke="#000" stroke-width="2.6"/>
<circle cx="1146.35" cy="2411.9" r="3.9" fill="#fff" stroke="#000" stroke-width="2.6"/>
<circle cx="1141.74" cy="2417.13" r="3.9" fill="#fff" stroke="#000" stroke-width="2.6"/>
<circle cx="1150.97" cy="2418.05" r="3.9" fill="#fff" stroke="#000" stroke-width="2.6"/>
<circle cx="1158.67" cy="2420.83" r="3.9" fill="#fff" stroke="#000" stroke-width="2.6"/>
<rect x="1220.45" y="2421.64" width="7.6" height="7.6" fill="#fff" stroke="#000" stroke-width="2.6"/>
<rect x="1233.38" y="2414.87" width="7.6" height="7.6" fill="#fff" stroke="#000" stroke-width="2.6"/>
<rect x="1236.46" y="2417.33" width="7.6" height="7.6" fill="#fff" stroke="#000" stroke-width="2.6"/>
<rect x="1244.16" y="2417.95" width="7.6" height="7.6" fill="#fff" stroke="#000" stroke-width="2.6"/>
<rect x="1227.22" y="2425.65" width="7.6" height="7.6" fill="#fff" stroke="#000" stroke-width="2.6"/>
<rect x="1239.54" y="2427.19" width="7.6" height="7.6" fill="#fff" stroke="#000" stroke-width="2.6"/>
<rect x="1247.23" y="2427.19" width="7.6" height="7.6" fill="#fff" stroke="#000" stroke-width="2.6"/>
<rect x="1288.8" y="2237.84" width="7.6" height="7.6" fill="#fff" stroke="#000" stroke-width="2.6"/>
<rect x="1292.8" y="2346.21" width="7.6" height="7.6" fill="#fff" stroke="#000" stroke-width="2.6"/>
<rect x="1301.11" y="2348.68" width="7.6" height="7.6" fill="#fff" stroke="#000" stroke-width="2.6"/>
<rect x="1284.18" y="2354.83" width="7.6" height="7.6" fill="#fff" stroke="#000" stroke-width="2.6"/>
<rect x="1275.56" y="2356.99" width="7.6" height="7.6" fill="#fff" stroke="#000" stroke-width="2.6"/>
<rect x="1280.18" y="2367.15" width="7.6" height="7.6" fill="#fff" stroke="#000" stroke-width="2.6"/>
<rect x="1288.8" y="2373.31" width="7.6" height="7.6" fill="#fff" stroke="#000" stroke-width="2.6"/>
<rect x="1297.11" y="2378.85" width="7.6" height="7.6" fill="#fff" stroke="#000" stroke-width="2.6"/>
<rect x="1288.8" y="2414.87" width="7.6" height="7.6" fill="#fff" stroke="#000" stroke-width="2.6"/>
<rect x="1377.55" y="2401.63" width="7.6" height="7.6" fill="#fff" stroke="#000" stroke-width="2.6"/>
<rect x="1380.63" y="2410.25" width="7.6" height="7.6" fill="#fff" stroke="#000" stroke-width="2.6"/>
<rect x="1388.33" y="2416.41" width="7.6" height="7.6" fill="#fff" stroke="#000" stroke-width="2.6"/>
<rect x="1365.24" y="2422.57" width="7.6" height="7.6" fill="#fff" stroke="#000" stroke-width="2.6"/>
<rect x="1373.55" y="2425.03" width="7.6" height="7.6" fill="#fff" stroke="#000" stroke-width="2.6"/>
<rect x="1385.25" y="2426.57" width="7.6" height="7.6" fill="#fff" stroke="#000" stroke-width="2.6"/>
<rect x="1392.95" y="2427.8" width="7.6" height="7.6" fill="#fff" stroke="#000" stroke-width="2.6"/>
<rect x="1434.51" y="2293.26" width="7.6" height="7.6" fill="#fff" stroke="#000" stroke-width="2.6"/>
<rect x="1434.51" y="2352.37" width="7.6" height="7.6" fill="#fff" stroke="#000" stroke-width="2.6"/>
<rect x="1430.51" y="2368.69" width="7.6" height="7.6" fill="#fff" stroke="#000" stroke-width="2.6"/>
<rect x="1439.13" y="2366.53" width="7.6" height="7.6" fill="#fff" stroke="#000" stroke-width="2.6"/>
<rect x="1447.44" y="2368.07" width="7.6" height="7.6" fill="#fff" stroke="#000" stroke-width="2.6"/>
<rect x="1421.58" y="2379.46" width="7.6" height="7.6" fill="#fff" stroke="#000" stroke-width="2.6"/>
<rect x="1434.51" y="2393.93" width="7.6" height="7.6" fill="#fff" stroke="#000" stroke-width="2.6"/>
<rect x="1425.89" y="2405.63" width="7.6" height="7.6" fill="#fff" stroke="#000" stroke-width="2.6"/>
<rect x="1434.51" y="2408.1" width="7.6" height="7.6" fill="#fff" stroke="#000" stroke-width="2.6"/>
<rect x="1442.82" y="2408.1" width="7.6" height="7.6" fill="#fff" stroke="#000" stroke-width="2.6"/>
<polygon points="1511.7,2430.69 1520.1,2430.69 1515.9,2423.13" fill="#fff" stroke="#000" stroke-width="2.6" stroke-linejoin="miter"/>
<polygon points="1517.24,2428.85 1525.64,2428.85 1521.44,2421.29" fill="#fff" stroke="#000" stroke-width="2.6" stroke-linejoin="miter"/>
<polygon points="1524.01,2426.07 1532.41,2426.07 1528.21,2418.51" fill="#fff" stroke="#000" stroke-width="2.6" stroke-linejoin="miter"/>
<polygon points="1529.55,2427.61 1537.95,2427.61 1533.75,2420.05" fill="#fff" stroke="#000" stroke-width="2.6" stroke-linejoin="miter"/>
<polygon points="1534.17,2428.85 1542.57,2428.85 1538.37,2421.29" fill="#fff" stroke="#000" stroke-width="2.6" stroke-linejoin="miter"/>
<polygon points="1538.79,2431.92 1547.19,2431.92 1542.99,2424.36" fill="#fff" stroke="#000" stroke-width="2.6" stroke-linejoin="miter"/>
<polygon points="1520.32,2432.23 1528.72,2432.23 1524.52,2424.67" fill="#fff" stroke="#000" stroke-width="2.6" stroke-linejoin="miter"/>
<polygon points="1532.63,2432.85 1541.03,2432.85 1536.83,2425.29" fill="#fff" stroke="#000" stroke-width="2.6" stroke-linejoin="miter"/>
<polygon points="1575.74,2400.52 1584.14,2400.52 1579.94,2392.96" fill="#fff" stroke="#000" stroke-width="2.6" stroke-linejoin="miter"/>
<polygon points="1583.43,2409.76 1591.83,2409.76 1587.63,2402.2" fill="#fff" stroke="#000" stroke-width="2.6" stroke-linejoin="miter"/>
<polygon points="1575.74,2414.37 1584.14,2414.37 1579.94,2406.81" fill="#fff" stroke="#000" stroke-width="2.6" stroke-linejoin="miter"/>
<polygon points="1566.5,2417.45 1574.9,2417.45 1570.7,2409.89" fill="#fff" stroke="#000" stroke-width="2.6" stroke-linejoin="miter"/>
<polygon points="1571.12,2420.53 1579.52,2420.53 1575.32,2412.97" fill="#fff" stroke="#000" stroke-width="2.6" stroke-linejoin="miter"/>
<polygon points="1580.35,2420.53 1588.75,2420.53 1584.55,2412.97" fill="#fff" stroke="#000" stroke-width="2.6" stroke-linejoin="miter"/>
<polygon points="1588.05,2418.99 1596.45,2418.99 1592.25,2411.43" fill="#fff" stroke="#000" stroke-width="2.6" stroke-linejoin="miter"/>
<polygon points="1592.67,2426.69 1601.07,2426.69 1596.87,2419.13" fill="#fff" stroke="#000" stroke-width="2.6" stroke-linejoin="miter"/>
<polygon points="1657.32,2432.85 1665.72,2432.85 1661.52,2425.29" fill="#fff" stroke="#000" stroke-width="2.6" stroke-linejoin="miter"/>
<polygon points="1663.48,2431.31 1671.88,2431.31 1667.68,2423.75" fill="#fff" stroke="#000" stroke-width="2.6" stroke-linejoin="miter"/>
<polygon points="1670.26,2428.85 1678.66,2428.85 1674.46,2421.29" fill="#fff" stroke="#000" stroke-width="2.6" stroke-linejoin="miter"/>
<polygon points="1675.8,2430.69 1684.2,2430.69 1680,2423.13" fill="#fff" stroke="#000" stroke-width="2.6" stroke-linejoin="miter"/>
<polygon points="1680.42,2432.85 1688.82,2432.85 1684.62,2425.29" fill="#fff" stroke="#000" stroke-width="2.6" stroke-linejoin="miter"/>
<polygon points="1685.03,2433.77 1693.43,2433.77 1689.23,2426.21" fill="#fff" stroke="#000" stroke-width="2.6" stroke-linejoin="miter"/>
<polygon points="1725.06,2417.45 1733.46,2417.45 1729.26,2409.89" fill="#fff" stroke="#000" stroke-width="2.6" stroke-linejoin="miter"/>
<polygon points="1717.36,2422.07 1725.76,2422.07 1721.56,2414.51" fill="#fff" stroke="#000" stroke-width="2.6" stroke-linejoin="miter"/>
<polygon points="1731.22,2420.53 1739.62,2420.53 1735.42,2412.97" fill="#fff" stroke="#000" stroke-width="2.6" stroke-linejoin="miter"/>
<polygon points="1735.83,2422.07 1744.23,2422.07 1740.03,2414.51" fill="#fff" stroke="#000" stroke-width="2.6" stroke-linejoin="miter"/>
<polygon points="1712.74,2425.77 1721.14,2425.77 1716.94,2418.21" fill="#fff" stroke="#000" stroke-width="2.6" stroke-linejoin="miter"/>
<polygon points="1721.98,2425.15 1730.38,2425.15 1726.18,2417.59" fill="#fff" stroke="#000" stroke-width="2.6" stroke-linejoin="miter"/>
<polygon points="1729.68,2426.69 1738.08,2426.69 1733.88,2419.13" fill="#fff" stroke="#000" stroke-width="2.6" stroke-linejoin="miter"/>
<polygon points="1738.91,2431.31 1747.31,2431.31 1743.11,2423.75" fill="#fff" stroke="#000" stroke-width="2.6" stroke-linejoin="miter"/>
<line x1="1535.9" y1="2108.85" x2="1535.9" y2="2261.7" stroke="#000" stroke-width="1.8"/>
<line x1="1530.9" y1="2260.7" x2="1535.9" y2="2260.7" stroke="#000" stroke-width="1.8"/>
<text x="1522.6" y="2266" font-size="16.6" text-anchor="end" stroke="#000" stroke-width="0.28">0</text>
<line x1="1530.9" y1="2230.53" x2="1535.9" y2="2230.53" stroke="#000" stroke-width="1.8"/>
<text x="1522.6" y="2235.83" font-size="16.6" text-anchor="end" stroke="#000" stroke-width="0.28">50</text>
<line x1="1530.9" y1="2200.36" x2="1535.9" y2="2200.36" stroke="#000" stroke-width="1.8"/>
<text x="1522.6" y="2205.66" font-size="16.6" text-anchor="end" stroke="#000" stroke-width="0.28">100</text>
<line x1="1530.9" y1="2170.19" x2="1535.9" y2="2170.19" stroke="#000" stroke-width="1.8"/>
<text x="1522.6" y="2175.49" font-size="16.6" text-anchor="end" stroke="#000" stroke-width="0.28">150</text>
<line x1="1530.9" y1="2140.02" x2="1535.9" y2="2140.02" stroke="#000" stroke-width="1.8"/>
<text x="1522.6" y="2145.32" font-size="16.6" text-anchor="end" stroke="#000" stroke-width="0.28">200</text>
<line x1="1530.9" y1="2109.85" x2="1535.9" y2="2109.85" stroke="#000" stroke-width="1.8"/>
<text x="1522.6" y="2115.15" font-size="16.6" text-anchor="end" stroke="#000" stroke-width="0.28">250</text>
<line x1="1530.9" y1="2260.7" x2="1809" y2="2260.7" stroke="#000" stroke-width="1.8"/>
<line x1="1559.7" y1="2260.7" x2="1559.7" y2="2265.7" stroke="#000" stroke-width="1.8"/>
<line x1="1559.7" y1="2224" x2="1559.7" y2="2231" stroke="#000" stroke-width="1.5"/>
<line x1="1553.7" y1="2224" x2="1565.7" y2="2224" stroke="#000" stroke-width="1.5"/>
<rect x="1549.1" y="2231.1" width="21.2" height="29.6" fill="#3d9cff"/>
<polyline points="1549.1,2261.6 1549.1,2231.1 1570.3,2231.1 1570.3,2261.6" fill="none" stroke="#000" stroke-width="2.2" stroke-linejoin="miter"/>
<text x="1559.7" y="2286.4" font-size="17" text-anchor="middle" stroke="#000" stroke-width="0.28">UT</text>
<line x1="1595.2" y1="2260.7" x2="1595.2" y2="2265.7" stroke="#000" stroke-width="1.8"/>
<line x1="1595.2" y1="2232.4" x2="1595.2" y2="2237.4" stroke="#000" stroke-width="1.5"/>
<line x1="1589.2" y1="2232.4" x2="1601.2" y2="2232.4" stroke="#000" stroke-width="1.5"/>
<rect x="1584.6" y="2237.5" width="21.2" height="23.2" fill="#3d9cff"/>
<polyline points="1584.6,2261.6 1584.6,2237.5 1605.8,2237.5 1605.8,2261.6" fill="none" stroke="#000" stroke-width="2.2" stroke-linejoin="miter"/>
<text x="1595.2" y="2286.4" font-size="17" text-anchor="middle" stroke="#000" stroke-width="0.28">ET</text>
<line x1="1654" y1="2260.7" x2="1654" y2="2265.7" stroke="#000" stroke-width="1.8"/>
<line x1="1654" y1="2136" x2="1654" y2="2162" stroke="#000" stroke-width="1.5"/>
<line x1="1648" y1="2136" x2="1660" y2="2136" stroke="#000" stroke-width="1.5"/>
<rect x="1643.4" y="2162.1" width="21.2" height="98.6" fill="#9e0000"/>
<polyline points="1643.4,2261.6 1643.4,2162.1 1664.6,2162.1 1664.6,2261.6" fill="none" stroke="#000" stroke-width="2.2" stroke-linejoin="miter"/>
<text x="1654" y="2286.4" font-size="17" text-anchor="middle" stroke="#000" stroke-width="0.28">UT</text>
<line x1="1689.3" y1="2260.7" x2="1689.3" y2="2265.7" stroke="#000" stroke-width="1.8"/>
<line x1="1689.3" y1="2181.6" x2="1689.3" y2="2199.5" stroke="#000" stroke-width="1.5"/>
<line x1="1683.3" y1="2181.6" x2="1695.3" y2="2181.6" stroke="#000" stroke-width="1.5"/>
<rect x="1678.7" y="2199.6" width="21.2" height="61.1" fill="#9e0000"/>
<polyline points="1678.7,2261.6 1678.7,2199.6 1699.9,2199.6 1699.9,2261.6" fill="none" stroke="#000" stroke-width="2.2" stroke-linejoin="miter"/>
<text x="1689.3" y="2286.4" font-size="17" text-anchor="middle" stroke="#000" stroke-width="0.28">ET</text>
<line x1="1748.2" y1="2260.7" x2="1748.2" y2="2265.7" stroke="#000" stroke-width="1.8"/>
<line x1="1748.2" y1="2238" x2="1748.2" y2="2242.6" stroke="#000" stroke-width="1.5"/>
<line x1="1742.2" y1="2238" x2="1754.2" y2="2238" stroke="#000" stroke-width="1.5"/>
<rect x="1737.6" y="2242.7" width="21.2" height="18" fill="#008000"/>
<polyline points="1737.6,2261.6 1737.6,2242.7 1758.8,2242.7 1758.8,2261.6" fill="none" stroke="#000" stroke-width="2.2" stroke-linejoin="miter"/>
<text x="1748.2" y="2286.4" font-size="17" text-anchor="middle" stroke="#000" stroke-width="0.28">UT</text>
<line x1="1783.6" y1="2260.7" x2="1783.6" y2="2265.7" stroke="#000" stroke-width="1.8"/>
<line x1="1783.6" y1="2247.8" x2="1783.6" y2="2251" stroke="#000" stroke-width="1.5"/>
<line x1="1777.6" y1="2247.8" x2="1789.6" y2="2247.8" stroke="#000" stroke-width="1.5"/>
<rect x="1773" y="2251.1" width="21.2" height="9.6" fill="#008000"/>
<polyline points="1773,2261.6 1773,2251.1 1794.2,2251.1 1794.2,2261.6" fill="none" stroke="#000" stroke-width="2.2" stroke-linejoin="miter"/>
<text x="1783.6" y="2286.4" font-size="17" text-anchor="middle" stroke="#000" stroke-width="0.28">ET</text>
<text x="1665.6" y="2123" font-size="31" text-anchor="middle" transform="translate(1665.6 2123) skewX(-9) translate(-1665.6 -2123)" stroke="#000" stroke-width="0.5">###</text>
<line x1="1637" y1="2126.8" x2="1706.2" y2="2126.8" stroke="#000" stroke-width="2"/>
<text x="1669" y="2047.8" font-size="20.9" text-anchor="middle" stroke="#000" stroke-width="0.28">Relative change from</text>
<text x="1671" y="2072.2" font-size="20.9" text-anchor="middle" stroke="#000" stroke-width="0.28">minute 0 (%)</text>
</svg>
</body></html>
